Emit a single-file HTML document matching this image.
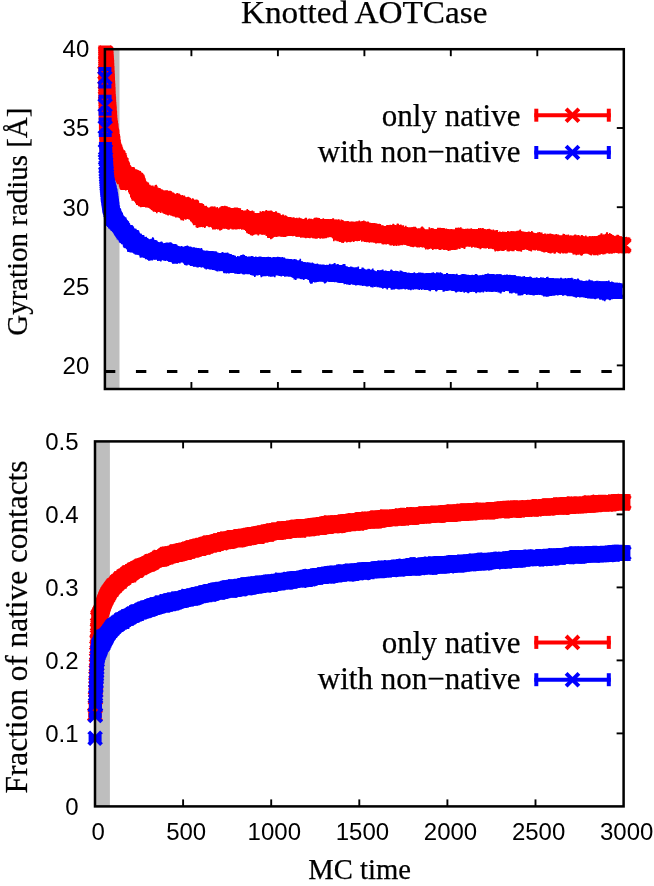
<!DOCTYPE html>
<html><head><meta charset="utf-8"><title>Knotted AOTCase</title>
<style>html,body{margin:0;padding:0;background:#fff}svg{display:block;will-change:transform}</style></head>
<body>
<svg width="654" height="886" viewBox="0 0 654 886">
<rect x="0" y="0" width="654" height="886" fill="#fff"/>
<line x1="191.4" y1="389.0" x2="191.4" y2="382.0" stroke="#000" stroke-width="1.9"/>
<line x1="191.4" y1="49.2" x2="191.4" y2="56.2" stroke="#000" stroke-width="1.9"/>
<line x1="277.9" y1="389.0" x2="277.9" y2="382.0" stroke="#000" stroke-width="1.9"/>
<line x1="277.9" y1="49.2" x2="277.9" y2="56.2" stroke="#000" stroke-width="1.9"/>
<line x1="364.4" y1="389.0" x2="364.4" y2="382.0" stroke="#000" stroke-width="1.9"/>
<line x1="364.4" y1="49.2" x2="364.4" y2="56.2" stroke="#000" stroke-width="1.9"/>
<line x1="450.8" y1="389.0" x2="450.8" y2="382.0" stroke="#000" stroke-width="1.9"/>
<line x1="450.8" y1="49.2" x2="450.8" y2="56.2" stroke="#000" stroke-width="1.9"/>
<line x1="537.3" y1="389.0" x2="537.3" y2="382.0" stroke="#000" stroke-width="1.9"/>
<line x1="537.3" y1="49.2" x2="537.3" y2="56.2" stroke="#000" stroke-width="1.9"/>
<line x1="623.8" y1="128.0" x2="616.8" y2="128.0" stroke="#000" stroke-width="1.9"/>
<line x1="623.8" y1="207.2" x2="616.8" y2="207.2" stroke="#000" stroke-width="1.9"/>
<line x1="623.8" y1="286.3" x2="616.8" y2="286.3" stroke="#000" stroke-width="1.9"/>
<line x1="623.8" y1="365.4" x2="616.8" y2="365.4" stroke="#000" stroke-width="1.9"/>
<line x1="183.1" y1="806.4" x2="183.1" y2="799.4" stroke="#000" stroke-width="1.9"/>
<line x1="183.1" y1="441.4" x2="183.1" y2="448.4" stroke="#000" stroke-width="1.9"/>
<line x1="271.2" y1="806.4" x2="271.2" y2="799.4" stroke="#000" stroke-width="1.9"/>
<line x1="271.2" y1="441.4" x2="271.2" y2="448.4" stroke="#000" stroke-width="1.9"/>
<line x1="359.3" y1="806.4" x2="359.3" y2="799.4" stroke="#000" stroke-width="1.9"/>
<line x1="359.3" y1="441.4" x2="359.3" y2="448.4" stroke="#000" stroke-width="1.9"/>
<line x1="447.4" y1="806.4" x2="447.4" y2="799.4" stroke="#000" stroke-width="1.9"/>
<line x1="447.4" y1="441.4" x2="447.4" y2="448.4" stroke="#000" stroke-width="1.9"/>
<line x1="535.5" y1="806.4" x2="535.5" y2="799.4" stroke="#000" stroke-width="1.9"/>
<line x1="535.5" y1="441.4" x2="535.5" y2="448.4" stroke="#000" stroke-width="1.9"/>
<line x1="623.6" y1="514.4" x2="616.6" y2="514.4" stroke="#000" stroke-width="1.9"/>
<line x1="623.6" y1="587.4" x2="616.6" y2="587.4" stroke="#000" stroke-width="1.9"/>
<line x1="623.6" y1="660.4" x2="616.6" y2="660.4" stroke="#000" stroke-width="1.9"/>
<line x1="623.6" y1="733.4" x2="616.6" y2="733.4" stroke="#000" stroke-width="1.9"/>
<rect x="104.9" y="49.2" width="14.6" height="339.8" fill="#bebebe"/>
<rect x="95.0" y="441.4" width="14.9" height="365.0" fill="#bebebe"/>
<line x1="104.9" y1="371.6" x2="623.8" y2="371.6" stroke="#000" stroke-width="3" stroke-dasharray="10.4 20.63"/>
<g fill="none" stroke="#ff0000">
<path stroke-width="5" d="M149.3 187.3V207.2M149.8 188.5V205.5M150.3 186.9V206.3M150.8 186.9V207.7M151.3 188.6V206.7M151.8 188.8V208M152.3 187.8V208M152.8 188.4V208.6M153.3 189.3V208.6M153.8 188.7V209.3M154.3 187.3V209.9M154.8 188.9V210.6M155.3 189.4V210M155.8 187.9V211.3M156.3 189.8V210.6M156.8 189V211.1M157.3 188.2V210M157.8 189.9V209.4M158.3 188.9V212M158.8 191.4V209.7M159.3 191V211.2M159.8 192.4V210.7M160.3 190.3V210.1M160.8 191.8V209.7M161.3 193V209.8M161.8 193V211M162.3 192.5V210.1M162.8 192.3V211.1M163.3 192.6V210.9M163.8 192.9V211M164.3 193.2V211.4M164.8 190.5V211.2M165.3 190.9V212.7M165.8 191.1V213M166.3 191.7V213M166.8 191.8V212.3M167.3 191.2V212.7M167.8 191.4V213M168.3 192V214.3M168.8 192.6V213.5M169.3 191.7V213.5M169.8 192.6V214.3M170.3 193V214.2M170.8 195V214M171.3 193.4V214.3M171.8 194.2V213M172.3 194.2V214.8M172.8 194V213.5M173.3 195.1V213.1M173.8 194.8V214.7M174.3 194.8V213M174.8 195.5V214.1M175.3 195.8V214M175.8 195.1V215.8M176.3 195.2V215.3M176.8 196.6V216.4M177.3 195.6V215.6M177.8 197.1V214.9M178.3 196.5V217.3M178.8 196.1V217.3M179.3 196.1V216.5M179.8 195.9V216.9M180.3 197.6V216.8M180.8 197.7V216M181.3 197V217.2M181.8 196.8V216.9M182.3 197.3V218.1M182.8 197.9V218M183.3 199.1V218.5M183.8 198V219M184.3 197.6V218.1M184.8 199V217M185.3 198.9V216.8M185.8 198.6V218M186.3 197.9V214.9M186.8 199.7V215.2M187.3 200.3V215.3M187.8 198.8V217.8M188.3 198.9V215.5M188.8 199.6V217.2M189.3 200.1V218.7M189.8 200.9V217.8M190.3 200.8V216.6M190.8 199.7V218.1M191.3 201.1V218.2M191.8 201.3V218.6M192.3 200.8V218.1M192.8 201.6V218.6M193.3 200.5V220.1M193.8 201.4V220.2M194.3 200.9V220.3M194.8 202.3V221.7M195.3 203.2V222.7M195.8 201.4V223.4M196.3 203.1V224.4M196.8 203.5V222.9M197.3 203.2V224.7M197.8 204.2V224.1M198.3 203.2V225.1M198.8 205V227.1M199.3 203.9V225.3M199.8 203.4V225.3M200.3 204.5V224.6M200.8 204.5V225M201.3 206.2V225.6M201.8 207V225.7M202.3 207.3V225.4M202.8 207.1V226.7M203.3 206.6V224.1M203.8 206.6V225.8M204.3 206.6V224.1M204.8 208.4V225.9M205.3 207.3V225.2M205.8 208.3V224.3M206.3 209.2V224.9M206.8 209.7V224.4M207.3 208.3V225.2M207.8 208.4V223.9M208.3 208.3V225.7M208.8 209.4V225.8M209.3 207.7V225.3M209.8 207.7V225.4M210.3 208.9V226.2M210.8 209.1V226.8M211.3 209.7V226.1M211.8 208.4V226.2M212.3 208.8V224.6M212.8 206.8V225.4M213.3 208.3V226.6M213.8 208.8V226.4M214.3 208.9V226.2M214.8 208.3V227.3M215.3 209.8V228.6M215.8 210.1V228.7M216.3 209.3V226.5M216.8 209.4V228.1M217.3 209.3V227.4M217.8 209.6V228.7M218.3 209.7V227.5M218.8 209.1V227.7M219.3 209.3V227.8M219.8 210.3V227.3M220.3 210.3V226.4M220.8 211.1V226.2M221.3 209.8V227.7M221.8 208.8V227M222.3 207.8V227.2M222.8 208.6V227.7M223.3 207.9V227.5M223.8 207V228M224.3 209.3V226.5M224.8 206.5V227.9M225.3 208.8V227.2M225.8 209.8V227.4M226.3 207.7V228.6M226.8 207.6V227.2M227.3 208.6V226.8M227.8 207.8V226.9M228.3 208.9V226.8M228.8 209.6V227M229.3 208.5V226.5M229.8 210.6V227.2M230.3 209.7V227.7M230.8 210V226M231.3 211V227.1M231.8 209V226.6M232.3 209V227.3M232.8 209.9V226.8M233.3 209.8V228.3M233.8 209.2V227.3M234.3 209.2V226.4M234.8 209V226.4M235.3 208.3V226.7M235.8 207.9V227.3M236.3 208.3V227.2M236.8 208.7V228M237.3 209.1V226.6M237.8 208.4V226.9M238.3 211V227.3M238.8 211.8V228.8M239.3 210.6V227M239.8 209.9V227.8M240.3 210.5V228M240.8 211.5V226M241.3 211.3V226.8M241.8 212.9V227.3M242.3 211.3V227.3M242.8 212.5V228.2M243.3 212.5V228.4M243.8 213.5V227.2M244.3 212.2V227.6M244.8 212.2V228.1M245.3 211.3V226.7M245.8 211.7V228M246.3 210.9V229.7M246.8 214.1V229.9M247.3 211.8V229.4M247.8 211.6V230.4M248.3 211.8V231.1M248.8 212.3V231.2M249.3 212.6V232.7M249.8 211V232.1M250.3 213.2V230.8M250.8 212.6V233.4M251.3 212.9V233.8M251.8 214.5V234M252.3 213.5V233.4M252.8 213V232.9M253.3 213.1V233.8M253.8 214.5V233.4M254.3 214.3V232.9M254.8 214.5V233.2M255.3 213.5V231.9M255.8 214.8V232.9M256.3 214.3V231.6M256.8 214.4V232.8M257.3 215.9V234.3M257.8 215.1V232M258.3 214.6V232.6M258.8 215.3V232.6M259.3 215.7V233.3M259.8 213.1V232.1M260.3 214.4V232.4M260.8 213.6V232.6M261.3 213.1V232.5M261.8 214V232M262.3 213.3V233.7M262.8 212.2V233.7M263.3 213.3V234.5M263.8 212.2V233.5M264.3 212.5V232.6M264.8 211.5V232.6M265.3 212.4V233M265.8 213.1V232.6M266.3 212.5V233.5M266.8 212.7V234.5M267.3 213.7V234.3M267.8 212.5V234.2M268.3 212.3V234.3M268.8 213.8V236M269.3 212.1V235.2M269.8 210.9V236M270.3 211.8V237.9M270.8 212.6V235.3M271.3 212.1V236.5M271.8 212.3V236.2M272.3 212.6V235.5M272.8 212.9V236M273.3 212.8V235.5M273.8 212.8V235.2M274.3 213.7V236.6M274.8 215.6V235.3M275.3 214.5V234.1M275.8 214.5V236.3M276.3 213.9V235.4M276.8 214.7V234.6M277.3 214.3V234.8M277.8 215V235.3M278.3 214.8V234.9M278.8 216.6V235.5M279.3 217.6V236.1M279.8 217V235.3M280.3 218.2V235.5M280.8 215.8V235.5M281.3 217.3V235.5M281.8 216.8V234.8M282.3 217.1V236.5M282.8 216.4V235.1M283.3 217.1V235.4M283.8 217.1V234.2M284.3 216.6V235.1M284.8 218.2V235.5M285.3 218V234.6M285.8 218.3V234.5M286.3 217.2V236.1M286.8 217.1V235.5M287.3 217V234.4M287.8 218.3V235.4M288.3 218.5V234.8M288.8 217.8V235.3M289.3 217.4V234.1M289.8 218.1V235M290.3 218.6V235.1M290.8 218.5V234.4M291.3 218.2V234.1M291.8 219.4V236M292.3 219.7V234.5M292.8 218.2V235.4M293.3 219.2V234.4M293.8 219.1V234.3M294.3 218.2V234.8M294.8 218.7V233.5M295.3 219.4V234.5M295.8 220.1V235.6M296.3 218.5V234.1M296.8 218.9V234.9M297.3 219.1V235.5M297.8 219.2V236M298.3 218.5V236.7M298.8 220.1V236.4M299.3 219.6V235.9M299.8 220V234.4M300.3 220.4V236.1M300.8 219.8V236.3M301.3 219.3V236.1M301.8 219.4V236.3M302.3 219.4V235.4M302.8 219.5V236.9M303.3 219.9V236.5M303.8 219V235.5M304.3 219.8V236.5M304.8 219.8V237.2M305.3 220.4V236.9M305.8 220.3V236.7M306.3 221V237.5M306.8 220.8V237M307.3 220.4V236.7M307.8 219.9V237M308.3 220.1V236.8M308.8 220.2V236.4M309.3 219.8V236.4M309.8 220.2V237.2M310.3 219.6V237.3M310.8 220.4V236.9M311.3 219.3V235.8M311.8 219.8V236.8M312.3 219.6V237.2M312.8 221.9V237.3M313.3 220.3V236M313.8 220.8V237.3M314.3 219.3V237.3M314.8 220.6V237.3M315.3 220.1V238M315.8 221V234.7M316.3 219.9V236.2M316.8 219.4V236.1M317.3 220.8V237.8M317.8 220.1V236.7M318.3 219.1V237.5M318.8 219.8V236.6M319.3 219.2V236.7M319.8 220.4V236.5M320.3 219.9V237.6M320.8 220V236.5M321.3 219.1V236.9M321.8 220.8V237.5M322.3 219.6V236.7M322.8 220.3V235.9M323.3 219.8V235.8M323.8 220V236.5M324.3 219.2V238.2M324.8 220V236.4M325.3 220.1V236.9M325.8 219V237.1M326.3 220.6V235.9M326.8 219.4V236.6M327.3 219.7V235.9M327.8 219.7V236.9M328.3 220.9V236.9M328.8 219.7V235.5M329.3 219.9V236.2M329.8 220.3V235.7M330.3 220.4V236.6M330.8 221.4V236.9M331.3 220.1V236.2M331.8 219.9V235.4M332.3 220.1V235.6M332.8 220.1V237.1M333.3 221.3V237.2M333.8 221.3V237.3M334.3 221V237.2M334.8 221V237.2M335.3 219.7V238.2M335.8 221.9V238.5M336.3 221.7V239.7M336.8 219.7V238.9M337.3 220.9V238.6M337.8 221.4V240.2M338.3 222.5V237.3M338.8 221.8V238.8M339.3 222.6V240.1M339.8 222.9V239.5M340.3 222.5V239.9M340.8 221.5V240.3M341.3 221.4V241.2M341.8 221.9V240M342.3 222.9V241.6M342.8 222.7V239.5M343.3 221.4V239.2M343.8 222.9V239.2M344.3 221.8V239.8M344.8 221.9V239M345.3 223V240.3M345.8 222.3V240.9M346.3 222V240M346.8 222V239.2M347.3 222.5V239.8M347.8 222.9V240.3M348.3 222.6V239.4M348.8 222.2V240.3M349.3 222.9V241.8M349.8 223.2V240.1M350.3 221.8V239.9M350.8 223.1V239.4M351.3 222.1V240.9M351.8 222.4V239.5M352.3 223.3V239.8M352.8 221.8V241M353.3 222.6V239.3M353.8 223.9V240M354.3 223.7V239.8M354.8 222.5V239M355.3 222.1V238.5M355.8 223.6V240.4M356.3 223V239.9M356.8 223V238.9M357.3 221.6V240.3M357.8 222.7V238.5M358.3 221.6V238.7M358.8 222.6V238.1M359.3 223.9V239.1M359.8 223.7V239.3M360.3 223.8V238.9M360.8 222.9V239M361.3 223.2V238.6M361.8 222.6V238.6M362.3 224.3V238.7M362.8 222.5V240.1M363.3 221.8V239.5M363.8 222.6V239.6M364.3 223.8V240.6M364.8 222.7V240.6M365.3 223.4V240.1M365.8 222.3V240.7M366.3 222.9V240M366.8 222.7V240.1M367.3 222.8V241.8M367.8 223.6V241.9M368.3 224.4V241.3M368.8 225.4V242M369.3 224.5V240.9M369.8 223.5V241.1M370.3 223.5V240.9M370.8 223.2V239.9M371.3 223.9V239.9M371.8 223.3V240.9M372.3 223.8V240.2M372.8 223.4V240.7M373.3 225.4V242.3M373.8 224.2V241.3M374.3 225.2V241.1M374.8 224.6V241.8M375.3 226.5V241.7M375.8 224.2V241.3M376.3 225.7V240.8M376.8 226.4V242.3M377.3 225.4V241.9M377.8 226.5V241.5M378.3 225.8V240.8M378.8 226.9V241.8M379.3 226.1V241.4M379.8 227.7V241.3M380.3 225.5V242.5M380.8 227.1V241.8M381.3 226.5V242.8M381.8 226.3V243M382.3 227.2V242.2M382.8 226.4V242.6M383.3 226.5V242.9M383.8 227.3V242.6M384.3 225.9V243.3M384.8 226.7V242.6M385.3 227.6V242.6M385.8 226.4V242.2M386.3 227.8V243.2M386.8 226.1V243.3M387.3 227V243.6M387.8 226.9V242.9M388.3 225.7V242.8M388.8 227.1V242.1M389.3 225.3V243.3M389.8 227.2V243.6M390.3 227.1V243.4M390.8 225.6V243.1M391.3 226.2V244.2M391.8 226V243M392.3 225.1V242.3M392.8 225.7V242.6M393.3 226.1V243.1M393.8 226.4V242.8M394.3 226.9V244.3M394.8 225.9V242.4M395.3 225.9V243.2M395.8 226.8V242.1M396.3 226.9V241.9M396.8 226.3V243.4M397.3 226.5V243.3M397.8 226.1V241.6M398.3 226.3V243.1M398.8 225V243.1M399.3 225.4V243.9M399.8 227.4V242.9M400.3 226.6V242.9M400.8 226.2V243.2M401.3 227.5V243.9M401.8 228.6V242.7M402.3 227.9V243.5M402.8 227.5V243.1M403.3 227.4V242.6M403.8 228.8V242.4M404.3 228.9V243.3M404.8 227.9V244.4M405.3 227.7V244.3M405.8 228.2V244.7M406.3 228.8V242.9M406.8 228.3V244.6M407.3 228.1V243.9M407.8 228V245M408.3 227.4V244.6M408.8 228.3V245.6M409.3 228.9V243.8M409.8 227.8V244.5M410.3 228.2V242.6M410.8 229.6V246M411.3 228.4V244.2M411.8 229.3V244.4M412.3 228.2V245.5M412.8 227.4V246.6M413.3 228.9V245M413.8 229.2V246.2M414.3 228.9V244.5M414.8 229V246.3M415.3 230.2V245.7M415.8 229.1V246.3M416.3 228.7V246.1M416.8 229.4V245.5M417.3 230V245.5M417.8 229.9V246.2M418.3 230.6V246.3M418.8 231V246.7M419.3 229.3V246.2M419.8 229.9V245.8M420.3 229.9V246.1M420.8 230.8V246M421.3 229.1V246.4M421.8 230.8V246.9M422.3 229.2V247M422.8 230.6V246.8M423.3 229.9V246.5M423.8 230.1V247.1M424.3 230.8V246M424.8 229.4V247.2M425.3 230.9V247.3M425.8 230.4V246.3M426.3 229.6V246.6M426.8 231.3V247.8M427.3 229.8V247.8M427.8 230.9V247.1M428.3 230V247.4M428.8 230V245.4M429.3 231.2V247.8M429.8 230.2V248.3M430.3 229.8V246.5M430.8 230.4V245.3M431.3 229.5V247.2M431.8 230.9V247.8M432.3 229.5V246.9M432.8 230.2V248.4M433.3 229.3V248M433.8 230.2V247.5M434.3 229.1V248.1M434.8 229.7V248.4M435.3 230.2V247.8M435.8 228.9V246.8M436.3 229.7V246.8M436.8 230V246.5M437.3 229.2V246.9M437.8 229.6V248.9M438.3 230.2V248.5M438.8 230.4V247.2M439.3 228.7V248.8M439.8 229.2V247.3M440.3 228.1V248.6M440.8 230.1V248.4M441.3 230.6V247.8M441.8 229.4V248M442.3 229V247.5M442.8 230.3V248.1M443.3 229.9V249M443.8 231.9V247.6M444.3 231.7V248.5M444.8 229.3V247.4M445.3 231.2V249.6M445.8 231.1V247.8M446.3 231.3V247.7M446.8 230.9V248.3M447.3 229.7V248.5M447.8 231.1V248.5M448.3 230.7V248.8M448.8 232.4V247.4M449.3 231.5V249.6M449.8 232.2V248.1M450.3 230.6V248.3M450.8 231.1V247.9M451.3 230.8V248M451.8 230.4V248.9M452.3 230.6V247.9M452.8 229.4V248.2M453.3 230.4V249.7M453.8 229.6V248.7M454.3 230.3V247.9M454.8 230.5V246.5M455.3 229.9V248M455.8 229.8V248.3M456.3 230.8V247.4M456.8 230.6V246M457.3 229.6V246.9M457.8 230.8V246.4M458.3 228.1V247.6M458.8 230V247M459.3 230.2V247M459.8 229.8V246M460.3 228.8V246.1M460.8 230.1V247M461.3 230.7V246.9M461.8 230.3V247.4M462.3 229V246.4M462.8 230V246.2M463.3 231.4V246.6M463.8 231V245.3M464.3 231.1V245.8M464.8 230.1V245.6M465.3 230.7V246.5M465.8 230V244.9M466.3 229.9V245.4M466.8 229.2V245.9M467.3 230.2V245.9M467.8 231.1V245.6M468.3 230.6V246M468.8 229.2V245.5M469.3 231.1V245.2M469.8 230V245.7M470.3 230.9V246.5M470.8 230V245.6M471.3 231.7V245.3M471.8 230.5V245.6M472.3 231.4V245.6M472.8 229.3V245.2M473.3 230.1V244.2M473.8 230.4V246.2M474.3 229.5V246.8M474.8 230V245M475.3 230.1V245.1M475.8 230.6V246.2M476.3 230.4V245.5M476.8 229.2V244.4M477.3 231.1V247.3M477.8 230.9V245.4M478.3 230V247M478.8 231.1V246M479.3 230.5V246M479.8 230.3V245.4M480.3 229.8V246.5M480.8 229V246.9M481.3 231.2V248.1M481.8 231.8V246.9M482.3 231.4V246.7M482.8 231.5V247M483.3 232.5V246.4M483.8 230.4V247.6M484.3 232V247.9M484.8 232.7V247.1M485.3 231.3V247.1M485.8 232.7V246.8M486.3 231.2V246.2M486.8 230.8V247.8M487.3 229.6V246M487.8 231.6V247.3M488.3 232V247.4M488.8 231.7V246.1M489.3 231.6V247.3M489.8 232V245.9M490.3 231.5V247.6M490.8 230.4V246.1M491.3 231.8V248.4M491.8 232.1V247.6M492.3 233.6V246.3M492.8 231.4V246.8M493.3 231.7V247.2M493.8 230.6V247.5M494.3 230.6V247.6M494.8 231.2V247.7M495.3 233.1V248.1M495.8 232.3V247.4M496.3 232.5V248.1M496.8 232.3V248.3M497.3 232.9V250.6M497.8 233.4V249M498.3 233.4V248.6M498.8 232.9V249.2M499.3 233.1V249.9M499.8 233.5V249.5M500.3 233.6V248.6M500.8 233.3V249.3M501.3 232.8V247.3M501.8 232.1V248.7M502.3 233.2V249.2M502.8 233.1V248.2M503.3 233V249.7M503.8 232.8V248.8M504.3 232.2V249.1M504.8 233.7V248.4M505.3 232.5V249.1M505.8 233V249.3M506.3 232.6V249.3M506.8 232V248.6M507.3 233.5V249M507.8 232V248.9M508.3 233.1V249.4M508.8 232.9V248.8M509.3 233V248.5M509.8 232.4V250.6M510.3 233.9V249.8M510.8 234.1V248M511.3 233.5V249.5M511.8 232.7V248.1M512.3 232.2V248.9M512.8 234.3V248.8M513.3 231.6V248.8M513.8 231.9V248.8M514.3 233V248.7M514.8 233.3V249.3M515.3 232V249.7M515.8 233V249.9M516.3 231.6V246.8M516.8 233V250.1M517.3 232.7V248.6M517.8 232.5V247.7M518.3 233.3V248.9M518.8 232.9V250.7M519.3 230.9V250.2M519.8 233.3V250.2M520.3 232.8V248.5M520.8 233.2V249.9M521.3 232.5V249.8M521.8 233.3V249.7M522.3 232.6V249.3M522.8 233V248.2M523.3 233.3V247.9M523.8 232.4V248M524.3 232.3V248.4M524.8 232.8V248.3M525.3 233.4V248.1M525.8 233V247.9M526.3 232.9V246.8M526.8 233.5V247.9M527.3 233.3V247.7M527.8 232.2V248.8M528.3 234.1V249.2M528.8 234.2V248.6M529.3 234V248.7M529.8 232.1V248.5M530.3 233.8V248.1M530.8 232.4V247.4M531.3 233.2V247.6M531.8 233.2V248.3M532.3 234.8V247.5M532.8 234.4V249.2M533.3 233.8V248.9M533.8 234.2V249M534.3 233.5V248.8M534.8 233.3V248.5M535.3 234.5V248.7M535.8 234.5V249.5M536.3 234.3V249.8M536.8 235.3V249.3M537.3 235.4V249.4M537.8 233.7V249.6M538.3 234.3V248.8M538.8 234.5V249.5M539.3 232.9V248.7M539.8 235.3V249.2M540.3 235V250.3M540.8 234.7V250M541.3 234.3V249.3M541.8 234.2V249.8M542.3 235.4V250.6M542.8 234.1V249.7M543.3 235.2V250.5M543.8 235.1V251.8M544.3 236.1V251M544.8 236.1V251.6M545.3 235.5V250.9M545.8 235.4V251.9M546.3 234.7V250.9M546.8 234.8V250.8M547.3 235.8V251.7M547.8 236.2V250.4M548.3 235.8V250.8M548.8 234.9V250.9M549.3 235.2V251.2M549.8 234V251M550.3 235.6V252.7M550.8 234.2V250.5M551.3 234.7V251.9M551.8 235.5V250.8M552.3 237.2V251.3M552.8 235.7V252.3M553.3 237.1V250.9M553.8 238.1V249.6M554.3 237.1V251.6M554.8 237.1V252M555.3 235.8V251.1M555.8 236.4V250.7M556.3 235.4V250.7M556.8 236.9V251.5M557.3 236.8V250.9M557.8 237.5V250.1M558.3 236.3V251M558.8 236.5V251.5M559.3 235.8V251.5M559.8 236.6V251.6M560.3 236.9V251.8M560.8 236.5V252.5M561.3 236.6V250.3M561.8 236V251.8M562.3 236.4V251M562.8 236.2V251.2M563.3 235.5V250.1M563.8 236V252M564.3 236.5V250.1M564.8 236.2V251M565.3 235.9V252.8M565.8 235.4V251M566.3 236.6V252M566.8 236V250.7M567.3 236.2V250.7M567.8 236.9V251.7M568.3 237.2V251.8M568.8 236V251.2M569.3 236.1V251M569.8 237V251.5M570.3 236.3V251.6M570.8 237.8V251M571.3 237.4V252.6M571.8 236.6V251.4M572.3 235.9V251.7M572.8 237.3V251.4M573.3 236.8V250.7M573.8 235.8V252.2M574.3 236.3V251.6M574.8 236.8V252.3M575.3 237.5V252.1M575.8 235.7V254.2M576.3 236.8V252.8M576.8 236.9V253.8M577.3 238.4V250.9M577.8 237.1V252.3M578.3 237.2V252.8M578.8 237.3V251.6M579.3 237.4V252.4M579.8 237.5V251.5M580.3 236.9V253.2M580.8 237.3V251.9M581.3 238.5V252M581.8 236.9V253.5M582.3 237.4V251.8M582.8 238.1V250.9M583.3 236.5V252.2M583.8 237.2V251.3M584.3 236.7V251.2M584.8 237.7V252.6M585.3 237.9V252.7M585.8 237.5V251.2M586.3 237.3V253.1M586.8 237.4V251.4M587.3 237.5V252.3M587.8 238.4V253.4M588.3 238.1V253.2M588.8 239V251.7M589.3 239.4V252.4M589.8 238V252.1M590.3 239.6V251.3M590.8 239.2V252.9M591.3 238.2V254.1M591.8 236.6V251.7M592.3 237.5V251.3M592.8 238.5V252.2M593.3 236.6V252.9M593.8 238.8V253.1M594.3 237.1V252.1M594.8 237.7V253.5M595.3 237V252.4M595.8 236.9V253.1M596.3 237.3V254.4M596.8 236.3V253M597.3 237V252.8M597.8 236.6V253M598.3 237.4V252.5M598.8 236.1V252.6M599.3 238.2V251.6M599.8 237.8V251.6M600.3 235.6V251.5M600.8 235.4V252.8M601.3 235.7V251.4M601.8 236V252.6M602.3 236.4V253.9M602.8 236.3V253M603.3 236.4V251.8M603.8 235.7V252.5M604.3 234.8V253.2M604.8 235.1V251.8M605.3 235.3V253.1M605.8 235.2V250.9M606.3 237.2V251.1M606.8 235.1V252.8M607.3 236.4V251.2M607.8 236.1V253.3M608.3 235V251.9M608.8 234.7V252.4M609.3 235.6V251.9M609.8 236.3V251.1M610.3 235.7V252.3M610.8 236.9V251.7M611.3 235.7V252.2M611.8 235.7V250.6M612.3 236.2V249.8M612.8 237.7V251.5M613.3 237V251.3M613.8 237.5V251.2M614.3 236.2V251.7M614.8 237.3V251.6M615.3 237V250.1M615.8 238.5V250.5M616.3 236.6V251.2M616.8 237.1V251.5M617.3 236.5V251.2M617.8 236.2V251.4M618.3 237.3V249.5M618.8 237.1V251.8M619.3 236.2V251M619.8 237.6V251.3M620.3 236.9V252.2M620.8 237V251.6M621.3 238.5V250.8M621.8 237.8V251M622.3 238.1V252.4M622.8 238.7V251.8M623.3 238V252.2M623.8 237.6V251.8M623.8 238.8V253.3"/>
<path stroke-width="6" d="M145.8 185V206.5M146.3 185.8V205.4M146.8 185.2V206.6M147.3 186V205M147.8 187.2V205.7M148.3 186.1V205.5M148.8 187V204.3"/>
<path stroke-width="7" d="M142.3 181.5V205.6M142.8 182.6V206.4M143.3 182.4V204.6M143.8 182.3V205M144.3 184V207.1M144.8 183V205.6M145.3 184.1V206.5"/>
<path stroke-width="8" d="M138.8 173.6V201.7M139.3 174.6V201.9M139.8 174.5V203.7M140.3 176.4V202.8M140.8 177.7V204.6M141.3 179.4V205M141.8 180.4V205"/>
<path stroke-width="9" d="M135.3 171.6V196.8M135.8 170.7V196.6M136.3 174.3V197.9M136.8 173.6V199.2M137.3 172.8V199.2M137.8 173.5V199.6M138.3 174.2V200.9"/>
<path stroke-width="10" d="M131.8 169.4V189.3M132.3 170.3V189.2M132.8 170.6V190M133.3 170.1V190.2M133.8 171.3V191.6M134.3 171.8V193M134.8 171.6V193.5"/>
<path stroke-width="11" d="M128.3 167.9V188.6M128.8 167.4V189.1M129.3 170.8V188.9M129.8 169.2V189.7M130.3 171V188.2M130.8 170.4V189.9M131.3 170.4V188.3"/>
<path stroke-width="12" d="M124.8 167.4V186.8M125.3 167.3V188.6M125.8 167.4V189.3M126.3 167.9V189.9M126.8 168.9V189.4M127.3 168.2V188.7M127.8 168.6V188.4"/>
<path stroke-width="13" d="M104.9 45.5V100M105.1 45.6V109.9M105.2 45.8V119.8M105.4 45.9V129.7M105.6 46V139.5M105.8 46.2V144.6M105.9 46.3V149.4M106.1 46.5V154.2M106.3 46.6V159M106.5 46.7V163.8M106.6 46.9V165.6M106.8 47.1V166.5M107 49.7V167.2M107.1 52.2V168.1M107.3 54.8V168.9M107.5 57.4V169.8M107.7 59.8V170.7M107.8 63.1V171.3M108 66V172.1M108.2 70.4V172.6M108.4 73.4V174.1M108.5 76.7V174.8M108.7 80.4V174.7M108.9 83.6V174.4M109.1 86.9V174.9M109.2 90.9V174.8M109.4 93.9V174.8M109.6 96.5V175M109.7 99.7V174.3M109.9 102V174.6M110.1 104.5V173.4M110.3 106.6V175.2M110.4 110V176M110.6 111V173.8M110.8 114.7V175.4M111 117.8V175.2M111.1 118.6V175M111.3 121V176M111.5 120.6V174.5M111.6 123.1V175.9M111.8 122.9V175.6M112 124.2V175.9M112.2 126.4V174.7M112.3 128V175.8M112.5 128.6V176.3M112.7 129.1V176.1M112.9 129.9V175M113 131.4V177.2M113.2 134.3V176.6M113.4 134.7V176.4M113.5 134V176.8M113.7 135.5V176.2M113.9 136.2V177.3M114.1 139V176.9M114.2 139.7V176.4M114.4 140V176.6M114.6 142.1V177.5M114.8 142.9V178.3M114.9 143.2V176.5M115.1 144V175M115.3 145.1V177.4M115.5 144.4V176.7M115.6 145.3V177.2M115.8 144.8V176.9M116 146.1V178M116.1 147.8V177.7M116.3 147.6V177.1M116.5 147.2V177.8M116.7 147.8V177.4M116.8 149.5V177.8M117 148.9V178.2M117.2 149.2V178.9M117.4 150.9V177.5M117.5 150.3V179.4M117.7 150.5V177.8M117.9 151.7V179.2M118 150.7V180.7M118.2 151.7V179M118.4 151.9V180.2M118.6 153V179.4M118.7 153.2V179M118.9 154.6V180.2M119.1 154.2V178.3M119.3 154.3V179.9M119.4 155.2V179.1M119.6 155V179.9M119.8 155.8V179.9M119.9 156.6V179.7M120.1 157.1V179.2M120.3 158.2V180.2M120.5 157.8V178.7M120.6 157.5V180.2M120.8 158.8V180.5M121 158.3V179.1M121.2 160.9V179.5M121.3 158.6V179.9M121.5 160.6V180.8M121.7 161.4V179.9M121.9 160.8V180.1M122 161.5V180.4M122.2 163V180.5M122.4 161.6V180.2M122.5 163.3V182.4M122.7 162.8V182.5M122.9 163.1V182.7M123.1 165.2V182.2M123.2 164.7V183.5M123.4 165V184.3M123.6 165V183.6M123.8 165.5V184.3M124.3 166.4V184"/>
<path stroke-width="1.6" d="M124.3 150.2V189.4M124.8 151.2V189.3M125.3 154.3V190M125.8 153V190.5M126.3 155.3V189.6M126.8 157V189.6M127.3 158.2V189.4M127.8 158V189.5M128.3 161.1V189.7M128.8 161.8V191.9M129.3 162.8V193.2M129.8 165V194M130.3 165.6V194.6M130.8 166.3V197.6M131.3 167.3V197.6M131.8 167.8V199M132.3 167.2V200.7M132.8 167.1V200.2M133.3 167V199.2M133.8 167.1V200.7M134.3 167.9V200.7M134.8 169.4V201.5M135.3 169.6V201.8M135.8 169.9V203.1M136.3 169.7V203.4M136.8 169.5V205M137.3 170.5V205M137.8 170.7V205.1M138.3 170.2V205.2M138.8 171.1V206.2M139.3 171V206.1M139.8 171.1V206.1M140.3 171V206.2M140.8 173.1V207.2M141.3 172.6V206.7M141.8 172.8V206.8M142.3 173V206.8M142.8 173.8V206.5M143.3 175V206.6M143.8 174.7V206.7M144.3 176.4V207M144.8 177.9V206.8M145.3 179.6V206.8M145.8 181V207.4M146.3 182.6V207.1M146.8 181.8V207.5M147.3 182.6V207.2M147.8 182.8V207.6M148.3 182.6V207.3M148.8 184.4V207.4M149.3 184.7V207.9M149.8 184.8V208.1M150.3 186.3V209.1M150.8 185.5V209.3M151.3 186V208.8M151.8 186.4V210M152.3 185.8V210.2M152.8 185.4V210.3M153.3 187V211.2M153.8 187.3V211.7M154.3 186.4V210.9M154.8 186.4V211.5M155.3 185.3V211.5M155.8 185V212.1M156.3 184.7V211.7M156.8 185.9V213.3M157.3 187.9V212.1M157.8 187.5V211.8M158.3 188.4V211.4M158.8 188.3V211.4M159.3 188.3V211.4M159.8 188V211.4M160.3 188.7V212.4M160.8 189.2V212.9M161.3 189.2V211.6M161.8 189.7V210.9M162.3 189.6V211M162.8 190.1V212.5M163.3 190.9V213.3M163.8 191V212.8M164.3 190.9V213.9M164.8 190.8V213.5M165.3 191V213.2M165.8 190.6V214.6M166.3 191V213.9M166.8 190.7V214.2M167.3 190.3V214.8M167.8 191.3V215.2M168.3 191.5V215.5M168.8 191.8V214.6M169.3 190.8V214M169.8 191.3V214.7M170.3 190.8V214.5M170.8 191.3V215.5M171.3 191.3V215.2M171.8 192.3V215.4M172.3 192.7V216M172.8 192.7V215.5M173.3 192.5V216.6M173.8 192.9V216M174.3 194V216.5M174.8 193.8V216.4M175.3 194.5V216.2M175.8 194.2V217.4M176.3 194.8V216.9M176.8 193.6V217M177.3 193V217M177.8 193.6V216.9M178.3 194V217.4M178.8 193.4V217.4M179.3 193.8V217.8M179.8 194.5V218.1M180.3 194.9V218.6M180.8 195.4V219.3M181.3 196.2V220.2M181.8 195.9V219.5M182.3 195V219.7M182.8 195.8V219.9M183.3 196.4V220.7M183.8 196.9V219.1M184.3 195.4V218.5M184.8 196.6V219.1M185.3 197.5V219.4M185.8 198V219.7M186.3 197.2V219.1M186.8 197.2V218.6M187.3 198.4V218.8M187.8 197V219M188.3 196.8V218.8M188.8 197V218.3M189.3 198.3V219.8M189.8 197.8V219.3M190.3 197.9V219.5M190.8 198.7V221.1M191.3 199.9V221.8M191.8 199.6V221.8M192.3 199.5V222.4M192.8 198.2V222.9M193.3 198.9V224.2M193.8 199.5V225.3M194.3 201V224.5M194.8 200.3V224.9M195.3 200.1V224.8M195.8 199.8V224.8M196.3 199.5V227.3M196.8 199.5V226.5M197.3 200.4V228M197.8 199.9V227.8M198.3 201.1V227.2M198.8 202.8V226.8M199.3 203.7V227.3M199.8 203.6V227.3M200.3 203.3V227M200.8 203.3V226.7M201.3 203.5V226.5M201.8 203.2V226.8M202.3 203.7V226.7M202.8 204.6V227.3M203.3 204.1V227.1M203.8 205.2V226.9M204.3 206.4V226.7M204.8 205.9V227.9M205.3 206.1V227.1M205.8 206.5V226M206.3 205.7V225.4M206.8 207.1V225.6M207.3 207.8V225.5M207.8 207.8V225.9M208.3 207.7V226.4M208.8 208.1V226.6M209.3 208.1V227.2M209.8 208.2V226.2M210.3 207V226.8M210.8 207.1V226.7M211.3 206.6V226.6M211.8 207.2V227.6M212.3 206.5V227.7M212.8 207.2V229.6M213.3 207.1V229.2M213.8 206.8V228.6M214.3 207V229.6M214.8 206.4V229.6M215.3 207.4V229.6M215.8 208.8V228.5M216.3 208.3V228.9M216.8 207.8V228.9M217.3 207V228.2M217.8 208.5V229.5M218.3 208.5V229.3M218.8 208.2V228.4M219.3 208.6V228.8M219.8 207.4V230.5M220.3 207.2V230.5M220.8 207.3V229.8M221.3 206.2V230.1M221.8 206.3V229.4M222.3 206V228.4M222.8 206V228.8M223.3 206.8V228M223.8 206.8V228.6M224.3 206.5V228.8M224.8 205.8V228.1M225.3 206.7V228.5M225.8 207.1V228.1M226.3 206.3V228.6M226.8 207V229M227.3 206.5V229M227.8 207.2V229.2M228.3 207.4V229.8M228.8 207.6V229.8M229.3 207.2V229.2M229.8 207.6V228.3M230.3 208.1V227.8M230.8 209.1V228.8M231.3 208.6V228.3M231.8 208.1V228.2M232.3 208.9V229.4M232.8 208.8V228.8M233.3 207.9V228.5M233.8 208.2V229.5M234.3 207.8V228.9M234.8 207.4V228.6M235.3 207.4V229M235.8 208.1V229.4M236.3 207.4V229.5M236.8 207.4V229.6M237.3 207.6V228.2M237.8 208.2V229M238.3 208.1V228.5M238.8 208.3V229.1M239.3 208.9V229.3M239.8 208.7V228.3M240.3 208.3V228.6M240.8 210.5V228.7M241.3 210.4V228.6M241.8 210.4V229.7M242.3 210.1V229.2M242.8 210.6V227.9M243.3 211.5V228.8M243.8 210.7V229.4M244.3 210.9V229.7M244.8 210.5V229.4M245.3 211V229.9M245.8 211.3V231M246.3 210.2V230.8M246.8 210.5V232.4M247.3 209V233.3M247.8 209.9V233.2M248.3 209.9V233.5M248.8 210.5V234.1M249.3 211.4V233.8M249.8 210.9V234.1M250.3 210.9V234.5M250.8 211.2V235.2M251.3 211.5V234.9M251.8 211.2V234.5M252.3 210.6V235.8M252.8 211.8V235.3M253.3 211.8V234.3M253.8 211.3V235M254.3 212.9V233.6M254.8 213.5V233.3M255.3 213.6V234.3M255.8 213.1V234M256.3 213.2V234.3M256.8 214V234M257.3 213.4V234M257.8 212.9V234.4M258.3 213.3V235.5M258.8 213.2V234.2M259.3 213.1V234.2M259.8 213.4V234.1M260.3 211.2V233.8M260.8 211.7V234.2M261.3 212.5V234.2M261.8 211.8V234.2M262.3 211.9V234.7M262.8 211.1V234.1M263.3 211.9V234.3M263.8 211.4V234.3M264.3 211.7V234.7M264.8 212.1V234.2M265.3 212V234.2M265.8 210.7V234.2M266.3 209.9V235.9M266.8 211.2V236M267.3 210.7V235.6M267.8 211.1V237.7M268.3 210.7V238M268.8 211.4V237.8M269.3 211.4V238M269.8 211.2V237.5M270.3 210.5V237.5M270.8 211.1V239.2M271.3 210.6V238.4M271.8 211.5V238.7M272.3 211.4V238M272.8 212.1V238M273.3 212.4V237.1M273.8 212.3V237M274.3 212.1V236.3M274.8 212.7V236.8M275.3 212.5V236.4M275.8 211.2V236.8M276.3 211.6V236.4M276.8 213.8V236.9M277.3 213.3V236.1M277.8 212.7V235.9M278.3 213.6V236.3M278.8 212.9V236.4M279.3 213.4V236.1M279.8 213.5V236.3M280.3 214.8V236M280.8 214.9V236.4M281.3 216V236.1M281.8 215.5V236.8M282.3 215.2V235.9M282.8 214.4V236.7M283.3 214.6V236.7M283.8 216.4V236.9M284.3 216.1V236.9M284.8 216V236.6M285.3 215.2V237M285.8 216.3V235.5M286.3 215.8V236.6M286.8 216.3V236.2M287.3 217.4V235.5M287.8 217V235.5M288.3 217.2V235.8M288.8 217.4V235.9M289.3 216.9V235.9M289.8 217.2V235.5M290.3 216.9V235.8M290.8 217.5V235.9M291.3 217.5V235.5M291.8 217.4V235.5M292.3 218.2V235.9M292.8 217.4V236.3M293.3 217.6V236.1M293.8 217.3V235.5M294.3 218.3V235.8M294.8 218.5V235.3M295.3 218.4V235.4M295.8 218.7V236.4M296.3 218.1V236.5M296.8 217.8V236.8M297.3 218.6V236.3M297.8 218.9V236.3M298.3 219V236.6M298.8 218.6V236.1M299.3 217.5V236.2M299.8 218.2V236.1M300.3 218.4V236.8M300.8 218.3V237.8M301.3 218.6V237.6M301.8 218.7V236.3M302.3 219.2V237M302.8 219.5V237.4M303.3 219.3V236.9M303.8 219V237.5M304.3 219.3V237M304.8 218.8V237.1M305.3 218.2V237.8M305.8 217.7V238.3M306.3 217.8V237.5M306.8 220.1V237.4M307.3 220.2V237.7M307.8 219.8V237.2M308.3 220.1V237.3M308.8 219V237.9M309.3 218.5V237.4M309.8 219.5V238.2M310.3 219.3V237M310.8 218.8V237.8M311.3 218.8V237.5M311.8 219.4V237.1M312.3 219.6V237.2M312.8 219.8V238.2M313.3 219.5V237.4M313.8 219.9V237.5M314.3 218V238.4M314.8 217.8V237.8M315.3 218.6V238.2M315.8 218.8V238.7M316.3 217.5V237.5M316.8 217.7V238.7M317.3 219V238.2M317.8 217.8V237.5M318.3 217.9V237.3M318.8 218.8V238.1M319.3 217.9V237.8M319.8 219.2V238.2M320.3 219.2V238.8M320.8 219V237.3M321.3 219.7V237.3M321.8 219.1V238.3M322.3 218.9V237.9M322.8 219.6V238.4M323.3 218.2V237.6M323.8 219.1V237.9M324.3 219.3V238.3M324.8 219.5V237.6M325.3 219.5V237.9M325.8 219.4V237.6M326.3 219.2V238M326.8 219.5V237.6M327.3 218.9V236.8M327.8 219.3V236.7M328.3 218.9V237.4M328.8 219.8V237.3M329.3 219.7V236.9M329.8 219.2V237M330.3 218.9V236.7M330.8 219.1V237M331.3 218.9V237.3M331.8 219.1V236.9M332.3 218.9V236.9M332.8 218.5V238.2M333.3 218.3V238.5M333.8 219.4V241.2M334.3 220.1V240.3M334.8 220V239.2M335.3 219.6V239.9M335.8 219.8V240.5M336.3 219.4V239.8M336.8 219.8V240M337.3 220.1V241.3M337.8 219.8V240.9M338.3 220V239.8M338.8 219.3V241.3M339.3 220.2V241.5M339.8 221.1V241.9M340.3 221.9V241.1M340.8 220.8V241.7M341.3 219.4V242.1M341.8 219.9V242.8M342.3 220.1V242.8M342.8 220.2V242.7M343.3 220.8V243.1M343.8 221.4V242M344.3 221.4V241.3M344.8 221.6V241.1M345.3 221.3V241.2M345.8 221.3V241.1M346.3 221.5V242M346.8 222V242.5M347.3 221.1V242M347.8 220.9V241.3M348.3 221.3V241.8M348.8 221.8V241.3M349.3 221.9V241.2M349.8 222.3V241.8M350.3 221.9V242.3M350.8 222.2V241.2M351.3 221.4V241.6M351.8 221.5V241.6M352.3 222.2V240.4M352.8 222.1V240.6M353.3 221.8V241.2M353.8 222.3V242.1M354.3 222.1V240.8M354.8 222.1V240.5M355.3 222.1V241.1M355.8 222.2V241M356.3 222.1V241M356.8 221.5V240M357.3 221.7V241.3M357.8 221.8V241.1M358.3 221.6V240.2M358.8 221.4V240.1M359.3 220.5V240.9M359.8 221.8V240.2M360.3 221.7V239.5M360.8 221.8V239.6M361.3 222.4V239.8M361.8 221.4V241.7M362.3 221.1V240.5M362.8 221.3V240.2M363.3 221.1V240.7M363.8 220.6V240.9M364.3 221.6V241.9M364.8 221.5V241.6M365.3 221.3V241.9M365.8 222.3V241.4M366.3 222.9V241.5M366.8 222.8V242.3M367.3 221.5V241.6M367.8 221.4V241.6M368.3 221.8V241.5M368.8 223V241.8M369.3 222.8V242.7M369.8 223.3V242.1M370.3 222.7V242.3M370.8 223.1V242M371.3 223.4V241.9M371.8 223.1V242.2M372.3 223.1V242.2M372.8 223.2V242.2M373.3 223.7V241.9M373.8 223.4V242.6M374.3 223V242.8M374.8 223.3V241.8M375.3 223.4V242.7M375.8 223.3V243.5M376.3 224.7V243.5M376.8 223.6V242.9M377.3 224.5V242.1M377.8 224.1V242.7M378.3 224.4V243.3M378.8 225.6V242.5M379.3 223.8V243.3M379.8 224.2V243.2M380.3 224.1V242.4M380.8 226V242.8M381.3 225.7V242.8M381.8 225.9V243.3M382.3 225.3V244.2M382.8 225.4V243.9M383.3 225.5V244.6M383.8 226.5V244.2M384.3 226.2V243.9M384.8 225.9V243.1M385.3 226.2V244.2M385.8 226.2V244.1M386.3 225.9V244.6M386.8 225.4V243.6M387.3 225.1V243.9M387.8 225.2V244M388.3 225.2V243.6M388.8 225.7V243.8M389.3 225.8V244.6M389.8 225.4V244.3M390.3 224.7V245.4M390.8 225.5V245.4M391.3 225.3V245.5M391.8 225.6V245.1M392.3 225.7V244.2M392.8 224.4V245.3M393.3 223.8V244.8M393.8 224.5V245.9M394.3 224.7V245.4M394.8 225.3V244.6M395.3 224.9V244.2M395.8 225.9V245.5M396.3 225.6V245.8M396.8 225.6V246.1M397.3 223.7V244.5M397.8 223.5V244.8M398.3 223.9V243.7M398.8 224.9V245.8M399.3 225.4V244.9M399.8 225.5V244.7M400.3 225.1V245.3M400.8 224.5V245M401.3 225.6V244.4M401.8 226V244.7M402.3 225.7V245.2M402.8 225.4V243.9M403.3 225.3V244.1M403.8 227V244.1M404.3 227.1V244.6M404.8 226.8V244.8M405.3 227.3V244.5M405.8 225.7V244.5M406.3 227.3V245.1M406.8 227.7V245.1M407.3 227.1V245.6M407.8 228V245.3M408.3 227.7V245.9M408.8 227.8V245.8M409.3 227.5V245.9M409.8 227.5V246M410.3 227.9V246.4M410.8 227.5V246.4M411.3 227.9V246.7M411.8 227.2V246.4M412.3 228V246.8M412.8 227.7V246.9M413.3 227.1V247.2M413.8 226.8V246.1M414.3 227.1V246.3M414.8 226.9V246.1M415.3 226.8V246.6M415.8 228.5V246M416.3 227.8V246.5M416.8 228.6V247.1M417.3 228.8V247.5M417.8 229.2V247.3M418.3 229.1V246.6M418.8 228.2V246.4M419.3 229.4V247.6M419.8 229.1V246.8M420.3 228.3V247.1M420.8 228.7V246.8M421.3 227.2V247.1M421.8 226.8V246.7M422.3 226.6V247.5M422.8 228.6V246.9M423.3 227.6V247.1M423.8 228.5V246.9M424.3 228.7V247.2M424.8 229.8V247.2M425.3 229.6V248.2M425.8 229.9V249.5M426.3 229.6V248.5M426.8 229.8V248M427.3 229.6V248.7M427.8 230V249.4M428.3 229.8V249.2M428.8 229.9V248.8M429.3 227.3V249.1M429.8 228.6V248.1M430.3 228.8V248.3M430.8 228.5V248.1M431.3 228.2V247.9M431.8 228.1V248.7M432.3 228.3V248.1M432.8 228.3V250M433.3 228.5V249.1M433.8 229.2V249.1M434.3 229.3V248.2M434.8 229.2V248.6M435.3 229.1V249.3M435.8 229.1V249.2M436.3 229V249.3M436.8 229.3V248.6M437.3 229.2V248.8M437.8 227.8V248.8M438.3 228.2V248.6M438.8 228V248.6M439.3 227.8V249.9M439.8 228.4V249.3M440.3 227.8V250.1M440.8 228.6V249.6M441.3 228.7V249.4M441.8 228.6V248.9M442.3 228.1V248.7M442.8 228.4V249.1M443.3 228.9V249.4M443.8 227.9V249.8M444.3 228.3V250.1M444.8 229.3V249M445.3 229.9V249.4M445.8 229V249.7M446.3 228.4V249.6M446.8 229.4V249.9M447.3 229.2V249.6M447.8 228.9V250M448.3 228.9V251M448.8 228.9V250.7M449.3 230V250.2M449.8 229.9V249.2M450.3 229.5V250.4M450.8 229.2V249.5M451.3 229.1V250M451.8 229.3V249.4M452.3 229.6V249.9M452.8 229.5V249.3M453.3 230V249.4M453.8 229.8V249.7M454.3 229.5V249.7M454.8 229.8V249.9M455.3 229.9V249.4M455.8 227.8V249.8M456.3 227.8V248.5M456.8 228.4V249.7M457.3 228.5V248.8M457.8 228.3V248.7M458.3 227.4V248.2M458.8 228.4V248.3M459.3 227.8V248.6M459.8 228.7V248.9M460.3 228V247.3M460.8 227.2V247.2M461.3 228.4V247.3M461.8 229.1V247.4M462.3 229.4V248M462.8 228.7V246.9M463.3 229.3V247.3M463.8 229.6V247.8M464.3 229.5V249M464.8 229.1V248.6M465.3 229.3V246.7M465.8 228.8V246.8M466.3 228.8V245.9M466.8 228.9V246M467.3 229.3V246.3M467.8 228.4V246.3M468.3 229.1V246.1M468.8 229.5V246.2M469.3 229.4V246.7M469.8 228.8V246.8M470.3 229.6V246.1M470.8 229.6V246.1M471.3 228.3V245.9M471.8 229.4V247.7M472.3 229.2V246.8M472.8 228.9V246.4M473.3 229.7V246.2M473.8 229.2V246.7M474.3 229V246.2M474.8 229.4V247.5M475.3 229.6V246.7M475.8 229.2V247.1M476.3 229.5V247.2M476.8 229.1V247.6M477.3 229V247.3M477.8 229.3V247.9M478.3 229V246.8M478.8 228V248.2M479.3 228.9V247.6M479.8 228.4V247.8M480.3 228.8V249.2M480.8 228.1V248.7M481.3 229.2V247.9M481.8 228.7V247.7M482.3 229.5V247.8M482.8 228.1V247.8M483.3 228.4V247.7M483.8 230.6V248.2M484.3 230.2V247.6M484.8 228.9V247.9M485.3 229.7V248.4M485.8 229.4V248.4M486.3 229.9V248.3M486.8 230.2V248.1M487.3 229.9V247.8M487.8 229.1V247.3M488.3 228.9V247.5M488.8 228.9V249.1M489.3 228.7V248.1M489.8 229.2V247.9M490.3 229.6V247.8M490.8 230V248.2M491.3 229.7V248.6M491.8 230.7V248.6M492.3 230.9V248.5M492.8 230.4V248.9M493.3 229.5V249.3M493.8 230.7V249.2M494.3 231V248.9M494.8 230.7V250.3M495.3 230.6V251.4M495.8 231V250.4M496.3 231V250.2M496.8 230V250.8M497.3 230.1V250.2M497.8 232.4V251.3M498.3 232.3V250.1M498.8 232V250.9M499.3 231.9V250M499.8 231.4V250.7M500.3 232.2V250.2M500.8 232.7V250.5M501.3 232.2V249.6M501.8 232.5V250.8M502.3 232.3V251M502.8 231.5V250.9M503.3 232.7V249.8M503.8 232.4V250.9M504.3 232.1V249.7M504.8 231.8V249.8M505.3 232.1V250.1M505.8 232.5V249.3M506.3 232.5V248.9M506.8 232.2V249.1M507.3 232.5V251.3M507.8 231.1V251.2M508.3 231.7V251.4M508.8 231.2V251.5M509.3 232.3V251.3M509.8 232.4V250.4M510.3 232.4V250.3M510.8 231.4V250.6M511.3 230.9V250.8M511.8 231.2V250.6M512.3 232V251.3M512.8 232V250.4M513.3 231.2V251M513.8 231.6V251.2M514.3 231.9V250.1M514.8 231.8V249.7M515.3 231.5V250M515.8 232.1V250M516.3 232V250.1M516.8 231.2V250.3M517.3 230.8V251.1M517.8 230.9V250.5M518.3 231.4V251.2M518.8 230.7V250.6M519.3 230.5V251.3M519.8 230.2V251.2M520.3 229.6V251M520.8 231.4V251.2M521.3 231.3V251.8M521.8 231.2V249.8M522.3 231.9V249.7M522.8 231.7V249.9M523.3 231.6V249.5M523.8 232.4V249.8M524.3 232.2V249.8M524.8 231.7V249.5M525.3 232.6V248.6M525.8 232.2V249M526.3 232V249.3M526.8 232.4V249.7M527.3 232.5V249M527.8 232.3V250M528.3 231.7V249.4M528.8 231.4V250.4M529.3 231.8V250.8M529.8 231.9V250.8M530.3 231.9V251.1M530.8 232.4V251M531.3 231.9V251.5M531.8 231V250.2M532.3 231.8V249.8M532.8 232.5V249.1M533.3 232.9V249M533.8 232.8V250.3M534.3 233.5V250M534.8 233.3V250M535.3 233.3V250.4M535.8 233.6V249.4M536.3 233.7V249.4M536.8 233.5V249.5M537.3 233.5V249.7M537.8 232.6V250.7M538.3 232.3V250.5M538.8 233.1V250.5M539.3 232.9V250.4M539.8 232V250.8M540.3 233.2V250.4M540.8 233V250.4M541.3 233V251.2M541.8 232.5V251.2M542.3 233.9V251.3M542.8 234.2V251.3M543.3 234.4V251.7M543.8 234.7V252.2M544.3 234V252.6M544.8 233.5V252.2M545.3 233.5V251.5M545.8 234.8V251.6M546.3 235.2V251.8M546.8 235V251.3M547.3 233.8V251.4M547.8 234.1V252.1M548.3 233.9V253M548.8 234.5V252.5M549.3 233.7V252.9M549.8 234.5V253.3M550.3 233.4V252.6M550.8 233.7V253.5M551.3 234.5V252.2M551.8 234.3V252.3M552.3 234.2V252.5M552.8 234.6V252.4M553.3 234.5V252.5M553.8 235.2V252.2M554.3 235.4V253.7M554.8 234.6V253.3M555.3 234.5V253.6M555.8 234.7V252.1M556.3 234.1V251.6M556.8 234.5V251.8M557.3 235.5V252.2M557.8 234.6V251.4M558.3 234.5V252.8M558.8 235.5V253.1M559.3 236.3V253.3M559.8 235.3V253M560.3 236.2V253.7M560.8 235.9V252M561.3 235.6V252.5M561.8 235.9V252.5M562.3 235.9V252.2M562.8 235.3V253.3M563.3 233.7V253.5M563.8 234V252.8M564.3 233.9V252.5M564.8 234.9V252.5M565.3 235.8V253.5M565.8 235V252.7M566.3 234.8V252.9M566.8 235.3V253.5M567.3 235.9V252.2M567.8 235.9V252.8M568.3 234.6V251.6M568.8 236.4V252.3M569.3 236.4V252.3M569.8 235.6V252.5M570.3 236V252.6M570.8 235.3V252.6M571.3 235.9V252.3M571.8 235.7V252.2M572.3 236.1V252.9M572.8 236.4V253.3M573.3 235.7V254.6M573.8 236.1V253.6M574.3 235.3V253.8M574.8 234.7V254.3M575.3 234.6V253.8M575.8 234.7V253.7M576.3 235.6V255.2M576.8 235.5V254M577.3 235.8V254.4M577.8 236.3V254.3M578.3 235.1V254.7M578.8 237V253.5M579.3 236.8V253.8M579.8 235.6V253.1M580.3 236.6V254.9M580.8 236.8V255M581.3 236.5V255.7M581.8 235.1V255.6M582.3 235.2V255M582.8 236.2V254.1M583.3 235.9V253.9M583.8 237.1V253.7M584.3 236.7V253.7M584.8 236.5V253.3M585.3 237.1V253M585.8 235.4V253.4M586.3 236.6V253.3M586.8 236.4V252.8M587.3 236.8V253.1M587.8 237.3V253.4M588.3 237.8V253.8M588.8 237.5V254.3M589.3 236.1V253.6M589.8 236.6V254.8M590.3 236.8V254.7M590.8 236.2V254.9M591.3 237V255.4M591.8 236.4V254.4M592.3 237.1V254.1M592.8 236.1V254.1M593.3 236.5V254.4M593.8 236.9V255.3M594.3 236.4V254.6M594.8 236.1V254.6M595.3 236.6V255.3M595.8 236.5V254.8M596.3 236.5V254.4M596.8 236.1V254.5M597.3 236.6V255.2M597.8 236V255.6M598.3 235.8V254M598.8 235.3V253.9M599.3 235.4V252.9M599.8 235.1V254.7M600.3 234.5V254.3M600.8 235V253.7M601.3 233.2V253.9M601.8 233.6V253.7M602.3 235.2V254.1M602.8 234.9V254.3M603.3 235.3V254.6M603.8 234.4V253.8M604.3 234.4V254.1M604.8 234.8V254.3M605.3 235.3V253.5M605.8 233.9V253.3M606.3 233.4V253.2M606.8 232.3V252.8M607.3 232.2V253.1M607.8 234V252.8M608.3 234.8V252.9M608.8 235.2V253.3M609.3 233.9V253.8M609.8 233.1V253.8M610.3 234.5V253.2M610.8 234V252.3M611.3 234.1V252.2M611.8 234.8V253.7M612.3 235V253.5M612.8 235.9V252.6M613.3 235.3V252.9M613.8 236.1V252.2M614.3 236V253.3M614.8 236.6V252.6M615.3 236.7V251.6M615.8 236.6V252.1M616.3 235.5V252.9M616.8 236V251.2M617.3 234.7V251.8M617.8 234.8V251.9M618.3 235V252.8M618.8 235.7V253.2M619.3 236V252.7M619.8 236.6V253M620.3 236.5V252.4M620.8 236.4V253M621.3 236.6V252.9"/>
<path stroke-width="4" d="M613.3 239.6h13M613.3 249.3h13M613.8 238.9h13M613.8 250.2h13M614.3 239h13M614.3 249.6h13M614.8 240.5h13M614.8 248.8h13M615.3 239.8h13M615.3 249h13M615.8 240.1h13M615.8 250.4h13M616.3 240.7h13M616.3 249.8h13M616.8 240h13M616.8 250.2h13M617.3 239.6h13M617.3 249.8h13M617.3 240.8h13M617.3 251.3h13M98.5 66.3l12.8 12.8m-12.8 0l12.8 -12.8M98.7 71.4l12.8 12.8m-12.8 0l12.8 -12.8M98.8 76.4l12.8 12.8m-12.8 0l12.8 -12.8M99 81.4l12.8 12.8m-12.8 0l12.8 -12.8M99.2 86.4l12.8 12.8m-12.8 0l12.8 -12.8M99.4 89l12.8 12.8m-12.8 0l12.8 -12.8M99.5 91.5l12.8 12.8m-12.8 0l12.8 -12.8M99.7 93.9l12.8 12.8m-12.8 0l12.8 -12.8M99.9 96.4l12.8 12.8m-12.8 0l12.8 -12.8M100.1 98.9l12.8 12.8m-12.8 0l12.8 -12.8M100.2 99.9l12.8 12.8m-12.8 0l12.8 -12.8M100.4 100.4l12.8 12.8m-12.8 0l12.8 -12.8M100.6 102l12.8 12.8m-12.8 0l12.8 -12.8M100.7 103.8l12.8 12.8m-12.8 0l12.8 -12.8M100.9 105.4l12.8 12.8m-12.8 0l12.8 -12.8M101.1 107.2l12.8 12.8m-12.8 0l12.8 -12.8M101.3 108.8l12.8 12.8m-12.8 0l12.8 -12.8M101.4 110.8l12.8 12.8m-12.8 0l12.8 -12.8M101.6 112.7l12.8 12.8m-12.8 0l12.8 -12.8M101.8 115.1l12.8 12.8m-12.8 0l12.8 -12.8M102 117.4l12.8 12.8m-12.8 0l12.8 -12.8M102.1 119.4l12.8 12.8m-12.8 0l12.8 -12.8M102.3 121.2l12.8 12.8m-12.8 0l12.8 -12.8M102.5 122.6l12.8 12.8m-12.8 0l12.8 -12.8M102.7 124.5l12.8 12.8m-12.8 0l12.8 -12.8M102.8 126.4l12.8 12.8m-12.8 0l12.8 -12.8M103 128l12.8 12.8m-12.8 0l12.8 -12.8M103.2 129.4l12.8 12.8m-12.8 0l12.8 -12.8M103.3 130.6l12.8 12.8m-12.8 0l12.8 -12.8M103.5 131.9l12.8 12.8m-12.8 0l12.8 -12.8M103.7 132.6l12.8 12.8m-12.8 0l12.8 -12.8M103.9 134.5l12.8 12.8m-12.8 0l12.8 -12.8M104 136.6l12.8 12.8m-12.8 0l12.8 -12.8M104.2 136l12.8 12.8m-12.8 0l12.8 -12.8M104.4 138.7l12.8 12.8m-12.8 0l12.8 -12.8M104.6 140.1l12.8 12.8m-12.8 0l12.8 -12.8M104.7 140.4l12.8 12.8m-12.8 0l12.8 -12.8M104.9 142.1l12.8 12.8m-12.8 0l12.8 -12.8M105.1 141.2l12.8 12.8m-12.8 0l12.8 -12.8M105.2 143.1l12.8 12.8m-12.8 0l12.8 -12.8M105.4 142.9l12.8 12.8m-12.8 0l12.8 -12.8M105.6 143.6l12.8 12.8m-12.8 0l12.8 -12.8M105.8 144.2l12.8 12.8m-12.8 0l12.8 -12.8M105.9 145.5l12.8 12.8m-12.8 0l12.8 -12.8M106.1 146.1l12.8 12.8m-12.8 0l12.8 -12.8M106.3 146.2l12.8 12.8m-12.8 0l12.8 -12.8M106.5 146.1l12.8 12.8m-12.8 0l12.8 -12.8M106.6 147.9l12.8 12.8m-12.8 0l12.8 -12.8M106.8 149.1l12.8 12.8m-12.8 0l12.8 -12.8M107 149.1l12.8 12.8m-12.8 0l12.8 -12.8M107.1 149l12.8 12.8m-12.8 0l12.8 -12.8M107.3 149.4l12.8 12.8m-12.8 0l12.8 -12.8M107.5 150.3l12.8 12.8m-12.8 0l12.8 -12.8M107.7 151.5l12.8 12.8m-12.8 0l12.8 -12.8M107.8 151.6l12.8 12.8m-12.8 0l12.8 -12.8M108 151.9l12.8 12.8m-12.8 0l12.8 -12.8M108.2 153.4l12.8 12.8m-12.8 0l12.8 -12.8M108.4 154.2l12.8 12.8m-12.8 0l12.8 -12.8M108.5 153.4l12.8 12.8m-12.8 0l12.8 -12.8M108.7 153.1l12.8 12.8m-12.8 0l12.8 -12.8M108.9 154.9l12.8 12.8m-12.8 0l12.8 -12.8M109.1 154.1l12.8 12.8m-12.8 0l12.8 -12.8M109.2 154.8l12.8 12.8m-12.8 0l12.8 -12.8M109.4 154.5l12.8 12.8m-12.8 0l12.8 -12.8M109.6 155.6l12.8 12.8m-12.8 0l12.8 -12.8M109.7 156.4l12.8 12.8m-12.8 0l12.8 -12.8M109.9 155.9l12.8 12.8m-12.8 0l12.8 -12.8M110.1 156.1l12.8 12.8m-12.8 0l12.8 -12.8M110.3 156.2l12.8 12.8m-12.8 0l12.8 -12.8M110.4 157.3l12.8 12.8m-12.8 0l12.8 -12.8M110.6 157.1l12.8 12.8m-12.8 0l12.8 -12.8M110.8 157.7l12.8 12.8m-12.8 0l12.8 -12.8M111 157.8l12.8 12.8m-12.8 0l12.8 -12.8M111.1 158.4l12.8 12.8m-12.8 0l12.8 -12.8M111.3 157.7l12.8 12.8m-12.8 0l12.8 -12.8M111.5 159.1l12.8 12.8m-12.8 0l12.8 -12.8M111.6 159.3l12.8 12.8m-12.8 0l12.8 -12.8M111.8 158.9l12.8 12.8m-12.8 0l12.8 -12.8M112 159.6l12.8 12.8m-12.8 0l12.8 -12.8M112.2 159.8l12.8 12.8m-12.8 0l12.8 -12.8M112.3 159.7l12.8 12.8m-12.8 0l12.8 -12.8M112.5 161l12.8 12.8m-12.8 0l12.8 -12.8M112.7 159.8l12.8 12.8m-12.8 0l12.8 -12.8M112.9 160.7l12.8 12.8m-12.8 0l12.8 -12.8M113 160.8l12.8 12.8m-12.8 0l12.8 -12.8M113.2 161l12.8 12.8m-12.8 0l12.8 -12.8M113.4 161.4l12.8 12.8m-12.8 0l12.8 -12.8M113.5 161.8l12.8 12.8m-12.8 0l12.8 -12.8M113.7 161.7l12.8 12.8m-12.8 0l12.8 -12.8M113.9 162.8l12.8 12.8m-12.8 0l12.8 -12.8M114.1 161.8l12.8 12.8m-12.8 0l12.8 -12.8M114.2 162.4l12.8 12.8m-12.8 0l12.8 -12.8M114.4 163.2l12.8 12.8m-12.8 0l12.8 -12.8M114.6 162.3l12.8 12.8m-12.8 0l12.8 -12.8M114.8 163.8l12.8 12.8m-12.8 0l12.8 -12.8M114.9 162.9l12.8 12.8m-12.8 0l12.8 -12.8M115.1 164.3l12.8 12.8m-12.8 0l12.8 -12.8M115.3 164.3l12.8 12.8m-12.8 0l12.8 -12.8M115.5 164.1l12.8 12.8m-12.8 0l12.8 -12.8M115.6 164.5l12.8 12.8m-12.8 0l12.8 -12.8M115.8 165.4l12.8 12.8m-12.8 0l12.8 -12.8M116 164.5l12.8 12.8m-12.8 0l12.8 -12.8M116.1 166.5l12.8 12.8m-12.8 0l12.8 -12.8M116.3 166.3l12.8 12.8m-12.8 0l12.8 -12.8M116.5 166.5l12.8 12.8m-12.8 0l12.8 -12.8M116.7 167.3l12.8 12.8m-12.8 0l12.8 -12.8M116.8 167.7l12.8 12.8m-12.8 0l12.8 -12.8M117 168.2l12.8 12.8m-12.8 0l12.8 -12.8M117.2 167.9l12.8 12.8m-12.8 0l12.8 -12.8M117.4 168.5l12.8 12.8m-12.8 0l12.8 -12.8M615.4 238l12.8 12.8m-12.8 0l12.8 -12.8M615.9 238.8l12.8 12.8m-12.8 0l12.8 -12.8M616.4 238.8l12.8 12.8m-12.8 0l12.8 -12.8M616.9 238.7l12.8 12.8m-12.8 0l12.8 -12.8M617.4 238.3l12.8 12.8m-12.8 0l12.8 -12.8M617.4 239.6l12.8 12.8m-12.8 0l12.8 -12.8"/>
</g>
<path fill="none" stroke="#ff0000" stroke-width="4" d="M99.1 46.6l12.8 12.8m-12.8 0l12.8 -12.8M99.2 48.7l12.8 12.8m-12.8 0l12.8 -12.8M99.3 50.8l12.8 12.8m-12.8 0l12.8 -12.8M99.4 52.9l12.8 12.8m-12.8 0l12.8 -12.8M99.5 55l12.8 12.8m-12.8 0l12.8 -12.8M99.6 57.1l12.8 12.8m-12.8 0l12.8 -12.8M99.7 59.2l12.8 12.8m-12.8 0l12.8 -12.8M99.8 61.3l12.8 12.8m-12.8 0l12.8 -12.8M99.9 63.4l12.8 12.8m-12.8 0l12.8 -12.8M100 65.5l12.8 12.8m-12.8 0l12.8 -12.8M100.1 67.6l12.8 12.8m-12.8 0l12.8 -12.8M100.2 69.7l12.8 12.8m-12.8 0l12.8 -12.8"/>
<g fill="none" stroke="#0000ff">
<path stroke-width="5" d="M149.3 241.2V258.4M149.8 240.6V259M150.3 240.9V258.9M150.8 239.5V258.2M151.3 241.8V259.2M151.8 241.6V259.6M152.3 241.4V258.7M152.8 242.2V259.4M153.3 243.2V259.2M153.8 242.8V258.8M154.3 241.7V259M154.8 242.2V258.2M155.3 243.8V257.9M155.8 243.7V258.6M156.3 242.5V258.8M156.8 243.5V258.4M157.3 244V257.4M157.8 243.7V259.1M158.3 244.2V258.8M158.8 243.2V258.4M159.3 244V259.2M159.8 242.8V258M160.3 244.2V257.6M160.8 245.1V257.6M161.3 243.5V258.7M161.8 243.9V259.2M162.3 244V258.3M162.8 243.4V258.8M163.3 243.6V259.1M163.8 243.6V259.6M164.3 243.5V258.8M164.8 244V259.3M165.3 243.6V260.2M165.8 244V259M166.3 243.5V259.7M166.8 245.1V259.4M167.3 243.9V259.6M167.8 244.1V258.9M168.3 244.4V259.5M168.8 243.2V260.1M169.3 244.6V260M169.8 244.4V259.9M170.3 244.8V261.3M170.8 244.5V259.8M171.3 244.3V261.9M171.8 244.4V261.4M172.3 243.9V261.8M172.8 244.8V260.9M173.3 244.1V262.2M173.8 245.5V261.8M174.3 244.9V261.9M174.8 245.9V261.7M175.3 246.3V263.5M175.8 245.8V262.5M176.3 247V262M176.8 246.9V262.7M177.3 247.4V262.7M177.8 247.9V261.9M178.3 247.5V262.5M178.8 247.7V262M179.3 248.1V262M179.8 248.7V261.6M180.3 248.4V260.5M180.8 247.5V261M181.3 248V260.7M181.8 248.6V261.9M182.3 246.8V261.8M182.8 247.7V261.8M183.3 249.1V262.1M183.8 247.7V262.4M184.3 247.1V262.1M184.8 248.5V261.5M185.3 248.8V262.1M185.8 246.8V262.1M186.3 246.6V263.5M186.8 248.1V264.4M187.3 248.4V263.7M187.8 247.1V263M188.3 247.5V264.3M188.8 248.8V262.9M189.3 247.2V264.3M189.8 248.3V263.8M190.3 248.1V263.8M190.8 248.7V264.6M191.3 248V263.9M191.8 248.1V262.7M192.3 247.8V264.1M192.8 248.5V264.2M193.3 248V264.5M193.8 249.4V264.6M194.3 248.8V265.6M194.8 249.3V265.3M195.3 248.2V264.7M195.8 248.2V266.6M196.3 249.1V263.3M196.8 248.4V265.1M197.3 250.8V266.1M197.8 251.2V265.6M198.3 249.6V264.9M198.8 251.1V266.2M199.3 248.9V264.8M199.8 250.9V266.7M200.3 250.7V266.5M200.8 251V265.3M201.3 251.4V264.7M201.8 250.9V266.8M202.3 252.8V266.1M202.8 251.5V266.3M203.3 252V267.3M203.8 252.5V266.9M204.3 252.3V266.4M204.8 251V265.8M205.3 251.9V265.7M205.8 251.4V266.5M206.3 252.4V266.3M206.8 251.7V267.6M207.3 252.8V266.6M207.8 251.9V267.3M208.3 250.9V267.3M208.8 251.2V268.6M209.3 252.1V268.2M209.8 251.8V267.7M210.3 252V268.7M210.8 251V269.2M211.3 252.2V268.9M211.8 252.1V269M212.3 251.7V268.3M212.8 251.4V268.1M213.3 251.9V268.6M213.8 251.4V268.8M214.3 252.6V269.7M214.8 252.3V267.9M215.3 253V268.8M215.8 253.7V268.6M216.3 253.6V270.3M216.8 254.2V269.8M217.3 253.3V269.7M217.8 254.3V269.3M218.3 253.7V268.3M218.8 254.6V268.9M219.3 254.1V269.8M219.8 253.8V269.4M220.3 254.3V268.7M220.8 255V269.3M221.3 254.4V269.2M221.8 253.8V269.2M222.3 253.1V270.4M222.8 253.4V269M223.3 253.8V269.5M223.8 253.6V270.4M224.3 254.5V270.3M224.8 254V270.6M225.3 253.7V270.1M225.8 255.2V271.1M226.3 254.6V272.8M226.8 254.5V270.5M227.3 255.4V271M227.8 254.4V271.5M228.3 254.6V270.8M228.8 254.1V272.5M229.3 256V271.4M229.8 254.9V272.3M230.3 256.5V271.4M230.8 255V271.7M231.3 256.7V272.2M231.8 255.7V272.2M232.3 256.1V272.7M232.8 256.1V271.4M233.3 256.6V271.7M233.8 257.2V272.1M234.3 257.6V272.7M234.8 257.9V272.6M235.3 257.3V272.5M235.8 257.2V272.9M236.3 257.8V271.8M236.8 258V272.7M237.3 257.1V273.4M237.8 257.3V271.8M238.3 257.8V272.9M238.8 257.1V271.8M239.3 257.1V272.2M239.8 257.5V273.2M240.3 258.7V272.2M240.8 257.7V272M241.3 257.2V272.5M241.8 256.9V272M242.3 256.6V272.3M242.8 257.6V272.9M243.3 256.3V272.7M243.8 257.4V272.8M244.3 256V272.5M244.8 257.4V272.6M245.3 257.9V273.6M245.8 256.9V272.5M246.3 257.6V273.3M246.8 256.9V273.5M247.3 257.1V272.9M247.8 257.8V273.5M248.3 258V273.3M248.8 257.1V274.2M249.3 257.2V273.4M249.8 257.8V273.5M250.3 257V273.5M250.8 257.6V274.2M251.3 256.8V273.7M251.8 257.9V274.2M252.3 258V273.9M252.8 257.6V273.4M253.3 258V275M253.8 259.1V272.5M254.3 257.6V274.8M254.8 260.1V273.4M255.3 258.3V274.7M255.8 257.4V273.6M256.3 257.9V274.6M256.8 257.8V274.7M257.3 257.8V274M257.8 259.3V274.3M258.3 259.6V274.3M258.8 258.1V273.3M259.3 258.3V272.8M259.8 258.5V273.5M260.3 258.6V274.4M260.8 259.8V274.9M261.3 257.5V274M261.8 258.2V273.9M262.3 258.2V274.8M262.8 257.9V274.1M263.3 257.8V276.1M263.8 258.6V273.8M264.3 257.2V274.8M264.8 258.2V275.1M265.3 259.1V274.2M265.8 257.6V274.4M266.3 257.8V274.3M266.8 258.7V274.2M267.3 258.4V274.5M267.8 258.2V275.4M268.3 257.1V274.2M268.8 259.4V274.3M269.3 257.9V273.1M269.8 258.9V274.7M270.3 258.9V274.3M270.8 259V274.2M271.3 259V274.2M271.8 257.7V274M272.3 257.8V276.3M272.8 258V274.2M273.3 258.2V275M273.8 258.6V274.8M274.3 258.2V274.8M274.8 259.1V275.3M275.3 258.5V275M275.8 257.2V274.5M276.3 257.7V274.4M276.8 258.1V274.8M277.3 258.3V274.1M277.8 259V274.7M278.3 259V274.6M278.8 259.3V274.8M279.3 260.1V274.8M279.8 257.5V274.4M280.3 257.7V274.6M280.8 257.9V275.2M281.3 259.2V274.3M281.8 258.6V275.2M282.3 258.2V274.2M282.8 258.2V275.1M283.3 258.9V274.7M283.8 259.3V275.5M284.3 259V275.1M284.8 259.4V274.9M285.3 259.2V276M285.8 259.2V275.3M286.3 259.7V274.7M286.8 259.1V274.6M287.3 259.9V274.2M287.8 260.4V274.1M288.3 259.1V275.3M288.8 259.7V275.1M289.3 260.6V273.9M289.8 259.2V275.2M290.3 259.9V275.9M290.8 260.1V275.7M291.3 260.6V275.9M291.8 260.1V275.5M292.3 261.4V275.6M292.8 261.8V276.3M293.3 260.2V276.2M293.8 260.7V277.1M294.3 260.8V276.5M294.8 261.6V277.3M295.3 261.5V276.8M295.8 260.6V277.1M296.3 260.7V276.9M296.8 261.1V276.1M297.3 260.7V277.9M297.8 260.4V277.8M298.3 262.6V277.9M298.8 262.6V278.3M299.3 262.7V277.4M299.8 262.5V276.6M300.3 262.4V277.9M300.8 262.9V278.2M301.3 263.4V278.1M301.8 263V278.3M302.3 263.3V277.9M302.8 262.5V278.5M303.3 263.3V277.7M303.8 263.2V278.6M304.3 263.2V278.3M304.8 263.7V279M305.3 262.6V278.5M305.8 264V279.1M306.3 264.4V278.6M306.8 263.8V277.6M307.3 263.2V278.7M307.8 264.1V278.5M308.3 263.4V278.9M308.8 264V277.9M309.3 263.5V279.3M309.8 264.2V279.1M310.3 263.8V279.2M310.8 264.3V279.9M311.3 264.7V280.3M311.8 263.7V279.8M312.3 263.9V280.7M312.8 264.6V281.7M313.3 264.5V281.3M313.8 264.4V281.9M314.3 265.2V281.6M314.8 263.9V281.8M315.3 264.1V280.9M315.8 265.6V281.2M316.3 265.1V281M316.8 264.7V280.5M317.3 264.7V280.8M317.8 264.9V281M318.3 266V280.8M318.8 264.8V281.4M319.3 264.7V281.4M319.8 265.1V280.9M320.3 265.6V281.3M320.8 265.8V280.9M321.3 265.4V281.1M321.8 266V281M322.3 265.1V280.4M322.8 266V280.8M323.3 265.2V279.7M323.8 265.5V280.6M324.3 266.2V281.8M324.8 266.2V280.9M325.3 266V280.2M325.8 266.4V280.8M326.3 266.1V280.9M326.8 265.8V280.3M327.3 265.5V280.6M327.8 266.1V281M328.3 266.2V279.5M328.8 266.9V280.5M329.3 266.8V280M329.8 265.1V280.1M330.3 265.5V280.1M330.8 265.5V280.5M331.3 265.7V281.7M331.8 266.2V280.2M332.3 265.8V281.4M332.8 265.6V279.5M333.3 264.6V279.7M333.8 265V279.2M334.3 265V280.8M334.8 265.3V280.3M335.3 264.7V280.3M335.8 265.5V281.7M336.3 266.3V281.2M336.8 264.9V281.3M337.3 265.9V280M337.8 266V280.9M338.3 266.5V280.6M338.8 267.3V281.9M339.3 264.9V281.6M339.8 266.7V282.5M340.3 267.1V281.8M340.8 266.4V282.2M341.3 266.9V282.3M341.8 266.6V283.1M342.3 266.6V281.6M342.8 267.7V282M343.3 267.1V282M343.8 267.5V281.6M344.3 266.6V281.7M344.8 268V282.1M345.3 266.6V282.1M345.8 267.8V282.8M346.3 268.3V282.8M346.8 267.3V283.9M347.3 268.3V283.2M347.8 268.3V282.9M348.3 268.9V283M348.8 267.8V283.9M349.3 268.5V284.1M349.8 267.8V283.3M350.3 268.7V283.4M350.8 268.7V283.5M351.3 267.2V283.4M351.8 268V283.7M352.3 270.1V283M352.8 269.6V283.6M353.3 268.8V283.9M353.8 268.6V284.1M354.3 269.8V284.5M354.8 267.8V283.7M355.3 269.2V283.5M355.8 268.2V284.3M356.3 268.8V284.7M356.8 269V284.1M357.3 269.4V283.3M357.8 269.4V283.3M358.3 269.9V283.9M358.8 269.2V284.4M359.3 270.5V284.7M359.8 269.6V283.8M360.3 270.3V284.2M360.8 269.9V284.5M361.3 270.9V284.6M361.8 269.8V283.6M362.3 269.2V285.5M362.8 270.3V284.6M363.3 270.6V284.6M363.8 270.6V284.3M364.3 270.2V284.8M364.8 270.8V284.1M365.3 270.9V285.5M365.8 270.7V284.8M366.3 271V285.1M366.8 269.7V283.8M367.3 270.2V284.5M367.8 272.8V286M368.3 270.1V285.2M368.8 270.6V285.5M369.3 271.6V285.3M369.8 270.7V284.7M370.3 270V286.1M370.8 270.7V285.7M371.3 270.3V285.6M371.8 270.4V285.8M372.3 270.8V284.8M372.8 271.1V285.8M373.3 272.1V286.2M373.8 271.4V285.6M374.3 271.4V285.7M374.8 272.4V285.7M375.3 271.7V286.3M375.8 271.8V285.4M376.3 271.7V286M376.8 272.8V286.1M377.3 272.5V286M377.8 272.5V284.8M378.3 271.6V285.5M378.8 271.7V285.6M379.3 271.8V286.7M379.8 271.1V286.3M380.3 270.6V286.1M380.8 271.8V286.3M381.3 272.1V286.2M381.8 271.5V287.3M382.3 272V286.7M382.8 272.4V286.5M383.3 272.5V287.8M383.8 271.8V286.7M384.3 272.5V287.1M384.8 270.9V286.9M385.3 273.3V286.5M385.8 271.7V287.3M386.3 272.7V287.8M386.8 273.2V287.4M387.3 271.7V286.4M387.8 271.4V286.4M388.3 273V287.5M388.8 274.3V286.7M389.3 272.7V287.6M389.8 272.2V287.6M390.3 273.2V287.7M390.8 271.5V287.5M391.3 272.1V287.1M391.8 272.1V287.1M392.3 272.7V287.5M392.8 271.8V286.2M393.3 271.1V287.6M393.8 271.6V287.3M394.3 271.9V286.9M394.8 272.2V287M395.3 274V287.3M395.8 273.3V288.8M396.3 272.5V288.6M396.8 272.3V287.7M397.3 272.9V287.3M397.8 272.6V287.2M398.3 272V286.6M398.8 273.2V288.2M399.3 272.8V288.3M399.8 272.7V287.7M400.3 272.6V288M400.8 272.4V287.3M401.3 272.1V286.8M401.8 272.5V288.7M402.3 272.7V287.6M402.8 273.4V287.1M403.3 273.2V285.7M403.8 273.3V287.8M404.3 273V287.5M404.8 272.9V287.5M405.3 274.6V287.9M405.8 273.8V287.2M406.3 272.8V287.5M406.8 272.9V288.9M407.3 273.8V288.2M407.8 274V287.6M408.3 274.6V287.4M408.8 273.5V287.7M409.3 273.8V288.1M409.8 274.5V288.2M410.3 273.4V288.2M410.8 273.2V289.3M411.3 273.5V288.1M411.8 273.7V288.1M412.3 274.3V289M412.8 273.5V288.6M413.3 273.8V288.3M413.8 274V287.8M414.3 273.5V288.8M414.8 273.6V288.5M415.3 274.8V288.6M415.8 274.3V287.9M416.3 274V288.1M416.8 274.5V288M417.3 273.9V289.2M417.8 274.2V288.7M418.3 275.9V288.6M418.8 274.7V288.3M419.3 274.3V288.5M419.8 274.9V288.4M420.3 275.2V288.5M420.8 273.7V288.8M421.3 273.7V287.5M421.8 274.4V287.5M422.3 274.3V288.3M422.8 274.3V288.3M423.3 273.6V288.7M423.8 274.6V288.7M424.3 273.7V289.1M424.8 273.6V288.8M425.3 274V287.6M425.8 275.5V288.4M426.3 274V289.7M426.8 274.8V289.4M427.3 274.6V288.5M427.8 274V288.5M428.3 273.9V289M428.8 273.3V289.9M429.3 274.3V288.8M429.8 273.4V288.9M430.3 275.2V288.2M430.8 274V288.9M431.3 273.2V289.1M431.8 274.1V289.2M432.3 273.2V288.3M432.8 274.6V288M433.3 273.4V289.9M433.8 273.7V289.8M434.3 274.2V288.5M434.8 274.4V290M435.3 274.5V289.1M435.8 273.9V289.4M436.3 274.2V288.7M436.8 273.4V288.9M437.3 273.4V289.6M437.8 274.7V288.6M438.3 273.9V289.3M438.8 274V289.7M439.3 274.6V288.1M439.8 273.5V289.7M440.3 273.7V289.7M440.8 274.4V289.7M441.3 275.2V288.9M441.8 274.8V289.1M442.3 275.6V289.6M442.8 274.9V289.9M443.3 275.1V289.9M443.8 275.7V289.8M444.3 275.4V289.7M444.8 275.4V290.1M445.3 275.3V290.3M445.8 275.5V289.8M446.3 275V290.5M446.8 274.3V289.8M447.3 275.7V289.9M447.8 274.1V288.8M448.3 274.6V288.3M448.8 274.8V289.6M449.3 274.6V289.9M449.8 276.3V289.5M450.3 275.2V290.3M450.8 276V289.6M451.3 274.9V289.8M451.8 275.7V289.5M452.3 274.7V290M452.8 275.7V289.5M453.3 276.2V288.9M453.8 274.6V290.9M454.3 276V290.1M454.8 275.6V290.1M455.3 276.2V290.4M455.8 275.4V290.7M456.3 275.4V290.7M456.8 275.6V291.3M457.3 275.4V290.7M457.8 275.8V290.6M458.3 275.1V290.4M458.8 275.5V290M459.3 275.2V291.3M459.8 276.4V291.3M460.3 276.4V289.6M460.8 275.9V290.6M461.3 277.4V290.9M461.8 275.6V290.1M462.3 275.9V289.3M462.8 276.6V290.4M463.3 275.6V291.2M463.8 274.6V290.1M464.3 275.8V291.3M464.8 277V289.5M465.3 276.8V290.4M465.8 275.9V291M466.3 276.5V291.1M466.8 276.4V291.9M467.3 276.1V290.8M467.8 275.1V290.5M468.3 276V289.7M468.8 275.5V289.9M469.3 276.4V290.8M469.8 275.9V290.9M470.3 277.4V291.1M470.8 276.4V290.5M471.3 278V291.1M471.8 276.1V290.6M472.3 276V290.5M472.8 276V291.4M473.3 276.6V290.1M473.8 275V290.5M474.3 277.1V290.2M474.8 276.8V290.7M475.3 275.3V291M475.8 278.2V290.4M476.3 276.4V290.5M476.8 276.2V290.6M477.3 276.5V291M477.8 276.8V291.9M478.3 276.1V290.5M478.8 276.4V292M479.3 276.1V291M479.8 275.5V290.7M480.3 276.2V291.2M480.8 276.5V291.6M481.3 275.5V289.9M481.8 275.7V290.1M482.3 276.1V290.5M482.8 276.6V290M483.3 276V290.4M483.8 275.6V291.2M484.3 275.5V289.7M484.8 275.6V289.6M485.3 275.2V289.2M485.8 276.3V289.9M486.3 276.1V291.1M486.8 274.4V290.3M487.3 274.7V290.2M487.8 275V290.4M488.3 274.1V291M488.8 275.4V291.4M489.3 275.5V290M489.8 275.3V290.8M490.3 275.1V290.3M490.8 275.4V290.5M491.3 275.3V289.7M491.8 274.4V290.9M492.3 275.2V291.3M492.8 276.1V290.2M493.3 275V290.5M493.8 276V290.8M494.3 276V290.2M494.8 275V289.5M495.3 275.4V290.2M495.8 276V291M496.3 276V291.3M496.8 275.7V290.5M497.3 275.6V290.7M497.8 275.7V291M498.3 276.4V290M498.8 274.3V290.5M499.3 275.4V290M499.8 276.6V290M500.3 275.8V290.4M500.8 276.4V290.9M501.3 276.1V291.1M501.8 276.2V291.1M502.3 276.1V290.9M502.8 276.2V290.8M503.3 275.6V290M503.8 275.9V290.3M504.3 276.1V291M504.8 275.6V290.2M505.3 276V290.1M505.8 275.6V290.7M506.3 275.1V291M506.8 275.7V290.4M507.3 275.1V290.3M507.8 276.4V290.5M508.3 276.1V290.6M508.8 276V290M509.3 276.9V290.2M509.8 276.6V290M510.3 275.8V290.6M510.8 275.3V290M511.3 276.3V290.7M511.8 276.5V290.1M512.3 275.3V291.9M512.8 275.5V290.4M513.3 275.5V290.4M513.8 276.5V289.7M514.3 277.5V292.3M514.8 276.2V292.1M515.3 277.6V291M515.8 276.4V291.7M516.3 276.5V291.4M516.8 276.5V291.6M517.3 276.9V292.1M517.8 276.6V291.8M518.3 277.9V291.3M518.8 277.1V292.7M519.3 276.8V292.9M519.8 277.6V292.5M520.3 276.9V292.8M520.8 277.1V293.2M521.3 278.3V291.6M521.8 277.1V293.4M522.3 277.2V293M522.8 277.6V291.5M523.3 278V293.8M523.8 277.1V293.3M524.3 278.1V293.3M524.8 279.1V292.7M525.3 277.5V293.5M525.8 278.4V293.7M526.3 277V294M526.8 278.6V294.1M527.3 278V292.5M527.8 278.3V294.2M528.3 278.8V293.8M528.8 277.2V293.2M529.3 277.3V293.3M529.8 278.6V294.3M530.3 278.5V292.9M530.8 278.8V293.6M531.3 279.5V292.5M531.8 278.7V294.5M532.3 279.2V293.7M532.8 278.7V293.7M533.3 279.1V294M533.8 278.5V294.3M534.3 277.9V294.8M534.8 279.2V294.9M535.3 279.3V295.1M535.8 278.5V294M536.3 278.7V294M536.8 279.6V293.9M537.3 279V293.8M537.8 278.7V294.2M538.3 278.6V293.4M538.8 278V294.4M539.3 279.4V294M539.8 279.1V294.4M540.3 279.7V293.9M540.8 279.7V294M541.3 279.1V293.3M541.8 279.4V292.7M542.3 279.2V294.4M542.8 279.6V294.2M543.3 279.3V294.9M543.8 280.3V294.3M544.3 278.2V293.7M544.8 279V295.2M545.3 278V293.8M545.8 280.3V295.3M546.3 278.9V296.3M546.8 278.9V295.3M547.3 279.9V293.5M547.8 278.9V293.9M548.3 278.3V293.9M548.8 278.5V294.5M549.3 278V293M549.8 279.5V295M550.3 279.2V295.3M550.8 279.4V293.3M551.3 279.7V294.9M551.8 278.4V294.1M552.3 279.6V294.2M552.8 278.6V295.5M553.3 279.4V293.8M553.8 279V294.2M554.3 279.5V293.1M554.8 278.4V294.6M555.3 279.7V294.6M555.8 280V294.1M556.3 278.9V294.3M556.8 278.6V293.4M557.3 279.8V294.8M557.8 280.5V294.4M558.3 278.6V293.2M558.8 280.4V294.9M559.3 279.1V294.2M559.8 280V293.8M560.3 279.6V293.6M560.8 279.6V294.2M561.3 279V293.5M561.8 279.8V293.8M562.3 280.3V294.4M562.8 280.3V294.9M563.3 279.2V295M563.8 280.6V294.9M564.3 280.7V294.7M564.8 279.9V294.6M565.3 280.7V295.2M565.8 280.9V294.9M566.3 278.7V294.9M566.8 279.8V294.9M567.3 279.6V294.8M567.8 280.4V294.6M568.3 279.8V293.6M568.8 279.9V295.4M569.3 280.3V294.1M569.8 279.9V294.2M570.3 278.8V294.8M570.8 280.5V294.7M571.3 280.7V296.2M571.8 281.1V294.2M572.3 280V294.6M572.8 280.8V295.1M573.3 279.8V294.5M573.8 280.2V295.5M574.3 280.1V294.3M574.8 279.8V294.8M575.3 281.9V295.3M575.8 281.7V296.7M576.3 279.9V294.6M576.8 280.1V296.2M577.3 281.2V296M577.8 282.4V295.3M578.3 281.3V295.2M578.8 281.3V295.5M579.3 280.7V295.6M579.8 281.1V296M580.3 282.2V294.4M580.8 281.6V296.9M581.3 281.6V295.8M581.8 281.6V296M582.3 281V296.8M582.8 283V296.7M583.3 281.5V296.6M583.8 282.4V296M584.3 281.7V295.8M584.8 281.4V296.7M585.3 280.9V295.4M585.8 281.9V295.9M586.3 282V296.5M586.8 282V296.9M587.3 282V296.4M587.8 282.1V297.1M588.3 283.1V296.9M588.8 282.8V298.1M589.3 282.2V297.6M589.8 280.9V296.6M590.3 282.6V295.5M590.8 283.1V296.1M591.3 282.3V297.4M591.8 282.4V297.1M592.3 281.9V298.5M592.8 283.7V297M593.3 281.7V297.6M593.8 282.8V297.4M594.3 282.5V296.5M594.8 283.2V298.1M595.3 283.1V297.2M595.8 282.4V296.6M596.3 282.5V297.3M596.8 283.1V297.6M597.3 282.2V297M597.8 282.9V297.2M598.3 283.3V297.3M598.8 282.7V298.1M599.3 282.1V296.6M599.8 283.7V297.5M600.3 282.5V297.7M600.8 283.5V297.4M601.3 282.5V297.9M601.8 283.9V299.1M602.3 281.8V296.6M602.8 281.3V297.3M603.3 283.4V297.6M603.8 282V298.1M604.3 283.6V297.8M604.8 283.7V296.9M605.3 282.5V298.8M605.8 283.9V297.9M606.3 282.8V296.4M606.8 283.3V298.7M607.3 281.6V298.3M607.8 283.5V297.6M608.3 283.5V297.8M608.8 283.4V297.4M609.3 283V297.2"/>
<path stroke-width="6" d="M145.8 239.8V256.9M146.3 240.1V257.7M146.8 240.6V257M147.3 239.8V257.5M147.8 240.3V258.2M148.3 240.7V258.7M148.8 241.3V259"/>
<path stroke-width="7" d="M142.3 237.4V254.8M142.8 237.4V255.2M143.3 239.5V255.4M143.8 238.2V256.6M144.3 239.4V256.3M144.8 239V256.3M145.3 240V257.3"/>
<path stroke-width="8" d="M138.8 236.3V253.4M139.3 236.4V254.4M139.8 235.3V254M140.3 237.8V254.6M140.8 237.4V253.8M141.3 237.2V254.1M141.8 238.3V254.7"/>
<path stroke-width="9" d="M135.3 233.2V251.3M135.8 234.9V251.1M136.3 234.3V252.5M136.8 234.3V252.6M137.3 235.9V251.1M137.8 236.3V253.1M138.3 236.1V253.6"/>
<path stroke-width="10" d="M131.8 230.2V249.4M132.3 230.1V250M132.8 232V251.9M133.3 231.8V250.7M133.8 233.3V250.2M134.3 233.3V249.7M134.8 233.1V250.6"/>
<path stroke-width="11" d="M128.3 228.4V246.4M128.8 228.6V247.3M129.3 228.5V246.9M129.8 229.3V247.7M130.3 229.2V247.1M130.8 230.2V248.1M131.3 232V248.6"/>
<path stroke-width="12" d="M124.8 225.8V242.3M125.3 226.2V242.8M125.8 226V242.9M126.3 227.8V242.9M126.8 228.3V243.9M127.3 226.3V244.3M127.8 228.2V244.5"/>
<path stroke-width="13" d="M124.3 225.8V240.4M609.8 283V297.4M610.3 283.9V297.8M610.8 283.8V297.1M611.3 283.6V297M611.8 282.8V298.5M612.3 283.9V298M612.8 283.1V297.6M613.3 282.9V298M613.8 282.9V299M614.3 283.4V297.5M614.8 283.4V297.7M615.3 283.9V297.6M615.8 283.9V297.9M616.1 283.5V299.1"/>
<path stroke-width="1.6" d="M124.3 216.5V247.8M124.8 217.8V247.6M125.3 217.6V248.2M125.8 217.4V248.2M126.3 219.3V248.2M126.8 219.9V249.1M127.3 220.6V249.5M127.8 221.4V251.8M128.3 221.3V251.3M128.8 222.7V251.9M129.3 223.3V251.5M129.8 224.7V252.1M130.3 225.1V252.6M130.8 225.9V251.6M131.3 225.8V252M131.8 224.9V252.6M132.3 225.5V252.6M132.8 226.4V252.2M133.3 226.4V252.5M133.8 228.7V253.5M134.3 228.8V253.2M134.8 228.4V253.2M135.3 228.7V254.4M135.8 228.8V254.2M136.3 229.8V254.6M136.8 230.4V254.5M137.3 229.9V254.1M137.8 231.2V254.7M138.3 230.3V254.8M138.8 231.6V254.3M139.3 232.7V255.2M139.8 233.7V255.5M140.3 234.2V257.5M140.8 233.5V257.7M141.3 234.3V257.1M141.8 235.7V257.3M142.3 235.1V256.7M142.8 235.6V256.8M143.3 234.9V257.5M143.8 235.4V257.2M144.3 237.6V257.8M144.8 237.7V257.7M145.3 237.3V258.2M145.8 237V259.2M146.3 236.7V258.8M146.8 238V258.5M147.3 238V259.3M147.8 238.6V259.7M148.3 238.7V260.1M148.8 239.8V260.8M149.3 240V260.7M149.8 240V260.6M150.3 239.3V260.4M150.8 239.4V260.3M151.3 238.8V260.1M151.8 239.3V260M152.3 238.5V260.4M152.8 237.3V259.6M153.3 238.1V259.1M153.8 239.4V259.3M154.3 240V259M154.8 240.3V259.7M155.3 239.9V259.7M155.8 241.2V259.4M156.3 240.3V259.1M156.8 240.7V259.4M157.3 241.5V260.1M157.8 242V260.9M158.3 242.1V259.6M158.8 242.1V259.9M159.3 242.6V260.8M159.8 243V260.5M160.3 242.6V261M160.8 242.1V261.4M161.3 241.5V260.5M161.8 241.8V259.4M162.3 242.4V259.8M162.8 243V260.1M163.3 243.7V260.2M163.8 243.9V260.5M164.3 243.8V260.2M164.8 243.1V259.8M165.3 243.1V261M165.8 243.9V259.8M166.3 242.4V260.4M166.8 242.6V259.7M167.3 242.9V259.6M167.8 242.4V261.1M168.3 242.8V260.8M168.8 243.4V261.5M169.3 242.7V261.9M169.8 242.5V261.6M170.3 242.2V261.9M170.8 242.2V262M171.3 243V261.8M171.8 243.7V262.1M172.3 243.4V262.5M172.8 243.9V263.7M173.3 244.2V263.4M173.8 244.3V263.2M174.3 244.2V263.1M174.8 244.4V263.5M175.3 244.2V263.1M175.8 244.1V263.3M176.3 245V263M176.8 244.8V263.6M177.3 245.9V263.7M177.8 245.9V262.9M178.3 246V262.4M178.8 246.1V262.7M179.3 246.5V263.3M179.8 246.9V263.4M180.3 247.2V262.4M180.8 247V262.3M181.3 246.1V261.9M181.8 246.2V261.9M182.3 247.1V262.2M182.8 246.9V261.9M183.3 247.1V262.2M183.8 247V263.1M184.3 246.9V263.9M184.8 246.8V264.7M185.3 246.6V265.1M185.8 246.1V265.2M186.3 246.7V264.8M186.8 247V265.6M187.3 245.6V263.9M187.8 246.9V264.4M188.3 246.2V264.2M188.8 247V264.3M189.3 247.7V264.4M189.8 246.7V264.9M190.3 246.5V265.6M190.8 246.8V265.9M191.3 247.3V265.6M191.8 247.4V265M192.3 248.1V265.9M192.8 248V265.7M193.3 247.6V266.3M193.8 247.3V266.8M194.3 247.5V266.2M194.8 248.1V266.5M195.3 248.3V266.3M195.8 247.8V266.5M196.3 247.8V266.7M196.8 248.7V266.2M197.3 248.2V267.6M197.8 248.6V267.4M198.3 247.9V267.3M198.8 248.3V267M199.3 248.3V266.9M199.8 249.5V266.3M200.3 248.9V266.3M200.8 248.8V266.8M201.3 248V267.6M201.8 248.7V266.9M202.3 250.2V266.9M202.8 250.1V267M203.3 250.7V266.8M203.8 251.4V267.4M204.3 250.7V267.5M204.8 250.5V268.4M205.3 251.6V268.8M205.8 251.5V268.7M206.3 250.9V269.4M206.8 250.6V268.9M207.3 250.9V268.4M207.8 250.8V268.3M208.3 251.1V268.6M208.8 251.3V268.6M209.3 251.5V268.9M209.8 251.2V269.3M210.3 251V269.4M210.8 251.1V268.7M211.3 251.5V268.7M211.8 251.4V269.2M212.3 251.6V269.4M212.8 251.4V270.1M213.3 251.3V269.8M213.8 251.4V270M214.3 251.6V269.8M214.8 251.9V269.8M215.3 251.5V269.8M215.8 251.8V270.2M216.3 251.6V271M216.8 252.4V271.2M217.3 252.4V270.9M217.8 252.5V271.5M218.3 253.7V270.6M218.8 253.6V270.3M219.3 253.3V270.2M219.8 253.1V271.3M220.3 253.4V270.2M220.8 253.2V270.5M221.3 253.2V270.9M221.8 253.6V270.9M222.3 252V271.3M222.8 252.4V271.1M223.3 252.5V270.8M223.8 252.9V272.8M224.3 253.1V273.3M224.8 253.2V272.6M225.3 252.7V272.4M225.8 253.9V272.5M226.3 253V273.6M226.8 254.3V273.3M227.3 252.5V272.7M227.8 252.8V272.3M228.3 253.7V272.5M228.8 253.5V273.5M229.3 254.4V273.2M229.8 254.4V273.1M230.3 253.9V272.5M230.8 254.5V272.7M231.3 254.2V272.7M231.8 254.9V272.9M232.3 255.2V272.4M232.8 254.9V272.8M233.3 254.9V272.6M233.8 256.2V272.4M234.3 255.6V273M234.8 256.1V273.6M235.3 255.8V272.8M235.8 257V273.3M236.3 257.3V273.4M236.8 257.1V272.9M237.3 257.6V273.2M237.8 255.9V274.1M238.3 256.6V273.7M238.8 257.3V274.1M239.3 257.4V274M239.8 256.4V273.3M240.3 256.1V273M240.8 255.3V273.5M241.3 255.8V272.7M241.8 255V273.4M242.3 255.1V272.9M242.8 254.8V273.9M243.3 254.6V274.4M243.8 255.2V274.1M244.3 254.9V274.6M244.8 256.2V274.2M245.3 256.4V273.8M245.8 256.3V273.1M246.3 256.4V273.6M246.8 256.4V273.7M247.3 257.1V273.8M247.8 257.4V274.1M248.3 256.9V274.1M248.8 256.4V273.9M249.3 257.2V273.9M249.8 256.7V274M250.3 257.1V274.1M250.8 256.6V275M251.3 257V274.6M251.8 256.1V274.9M252.3 256.2V275.5M252.8 256.6V274.8M253.3 257.1V275.2M253.8 256.9V275.8M254.3 256.9V275.7M254.8 256.9V276.9M255.3 257.5V275.8M255.8 256.4V275.4M256.3 257.5V275.2M256.8 257.6V275M257.3 256.9V274.9M257.8 257.3V275.4M258.3 257V274.4M258.8 256.9V274.8M259.3 256.6V275M259.8 257.1V275M260.3 256.4V274.5M260.8 257.1V275.5M261.3 256.8V277.3M261.8 257.1V276.2M262.3 257.6V276.2M262.8 257V276.4M263.3 257V275.7M263.8 257.6V275.6M264.3 257.1V275.8M264.8 257.7V276.3M265.3 257.7V275.7M265.8 257.5V276.2M266.3 257.2V275.1M266.8 257.1V275.7M267.3 257.7V275.3M267.8 257.2V275.5M268.3 256.8V276M268.8 257V276.5M269.3 257.7V275.4M269.8 257.1V276.6M270.3 256.9V276.6M270.8 257.5V276.7M271.3 257.9V275.8M271.8 258.2V276.6M272.3 258.2V276.4M272.8 257.7V276M273.3 257.1V276.1M273.8 256.9V276.3M274.3 257.5V276.5M274.8 257.6V277.2M275.3 257.5V275.5M275.8 257.6V275M276.3 257.7V274.8M276.8 257.6V275.2M277.3 257.1V275.2M277.8 256.8V275.3M278.3 257.1V275.7M278.8 257.2V275.3M279.3 257.8V275.4M279.8 257.1V276.1M280.3 258.1V276M280.8 257.8V275.8M281.3 257.8V276.5M281.8 258V275.1M282.3 257V275.2M282.8 257.6V275.8M283.3 258V275.6M283.8 258.3V276M284.3 257.6V276M284.8 258.5V276.8M285.3 258.7V276.2M285.8 258.8V275.7M286.3 258.7V276.6M286.8 259.3V276.4M287.3 259.6V276.5M287.8 258.7V276.1M288.3 259.4V276.3M288.8 259.2V276.8M289.3 259.6V276.7M289.8 259.6V276.2M290.3 259.1V276.8M290.8 258.9V276.5M291.3 259.5V276.5M291.8 259.3V277.3M292.3 259.8V276.8M292.8 260.1V277.5M293.3 260.3V277.9M293.8 259.6V278M294.3 259.1V279.4M294.8 260V279M295.3 260.3V279.6M295.8 259.2V279.9M296.3 259.7V278.4M296.8 260.7V278.6M297.3 261V278M297.8 260.5V277.8M298.3 260.8V277.8M298.8 260.7V278.3M299.3 260.7V278.2M299.8 260V278.2M300.3 258.8V278.8M300.8 261V279.1M301.3 261.8V279.3M301.8 261.9V278.4M302.3 261.3V278.5M302.8 262.3V278.9M303.3 262.8V279.5M303.8 262V280M304.3 262.2V278.8M304.8 261.9V278.6M305.3 262.4V278.9M305.8 262.7V278.7M306.3 262.8V278.8M306.8 262.9V278.8M307.3 262.7V279.1M307.8 262.3V278.8M308.3 263V280M308.8 262.4V280M309.3 262.4V280M309.8 262.5V281.7M310.3 263.8V283M310.8 263.3V283.8M311.3 263.2V283.6M311.8 263.9V283.7M312.3 262.6V282.7M312.8 263.5V281.7M313.3 263.2V281.7M313.8 264.2V281.4M314.3 264.2V281.3M314.8 263.7V282.6M315.3 264.3V281.7M315.8 264.5V282M316.3 263.9V282.3M316.8 264.1V282.1M317.3 263.6V281.5M317.8 264.1V281M318.3 265V281.7M318.8 264.8V281.1M319.3 264.5V281.3M319.8 265.2V280.9M320.3 265V281.5M320.8 264.5V280.8M321.3 265.2V281.2M321.8 265.1V281.6M322.3 264.9V281.5M322.8 264.5V281.5M323.3 264.6V281.2M323.8 264.5V281.2M324.3 265.1V282.8M324.8 265.5V283.4M325.3 265.1V283.1M325.8 265.7V282.7M326.3 265.8V281.9M326.8 264.7V281.9M327.3 265.6V280.4M327.8 265V280.7M328.3 265.5V281.1M328.8 265.2V281.7M329.3 264.4V282M329.8 263.7V281.4M330.3 264.4V281.1M330.8 264.6V281.7M331.3 264.8V281.9M331.8 264.7V282M332.3 265V281.5M332.8 264.5V281.8M333.3 264V281.9M333.8 263.8V281.4M334.3 263.6V281.3M334.8 263V282.2M335.3 265.1V281.1M335.8 264.7V281.4M336.3 265V281.6M336.8 264.5V281.6M337.3 264.9V282.4M337.8 264.1V282.6M338.3 264.6V282M338.8 265.3V282M339.3 265.3V282.9M339.8 265.1V282.9M340.3 265V283.1M340.8 265.5V282.8M341.3 265.5V283M341.8 265.1V282.7M342.3 266.6V283.1M342.8 265.8V282.6M343.3 263.9V282.7M343.8 264.1V282.7M344.3 264.1V284.2M344.8 264.3V283.5M345.3 265.9V284M345.8 266.7V283.8M346.3 266.4V284M346.8 266.6V284.6M347.3 266.9V284.3M347.8 266.9V284.5M348.3 267.5V284.4M348.8 267.2V284.4M349.3 267.7V285M349.8 267.3V284.9M350.3 267.7V284.6M350.8 266.4V283.9M351.3 267.3V283.7M351.8 266.7V284.1M352.3 267.8V284.3M352.8 267.7V284.1M353.3 267.7V284.5M353.8 267.7V284.3M354.3 268.2V284.8M354.8 267.6V284.8M355.3 267.9V284.8M355.8 267.4V285.4M356.3 267.3V285.1M356.8 268V285.3M357.3 267.5V284.7M357.8 267.3V284.3M358.3 266.6V285M358.8 269V284.9M359.3 269.5V285.2M359.8 269.7V285.1M360.3 269.5V285M360.8 269.1V285.1M361.3 269.5V284.9M361.8 268.7V285.1M362.3 267.5V285.2M362.8 267.6V286M363.3 268.3V285.2M363.8 268.7V284.9M364.3 268.7V284.9M364.8 269.5V285.4M365.3 269.4V285.7M365.8 270V285.4M366.3 270.2V286.2M366.8 270.1V286.4M367.3 269.6V285.8M367.8 269.8V286.5M368.3 268.7V285.9M368.8 268.8V285.8M369.3 269V285.7M369.8 269.6V285.7M370.3 270V286.3M370.8 270.5V286.8M371.3 270V287.3M371.8 269.6V285.9M372.3 269.8V286.2M372.8 268.5V287.5M373.3 269.9V286.5M373.8 270.6V285.9M374.3 270.9V285.7M374.8 270.8V287.1M375.3 271.5V286.4M375.8 271.3V286.3M376.3 271.7V286M376.8 271.8V286.1M377.3 271.4V287.3M377.8 270.1V286.4M378.3 271V286.7M378.8 270.5V286.7M379.3 271V287.6M379.8 271.1V287M380.3 270.5V286.8M380.8 270.3V287.5M381.3 270.6V287.5M381.8 271V287.4M382.3 269.8V287.8M382.8 269.4V288.7M383.3 270.8V287.9M383.8 270.8V287.8M384.3 270.8V287.3M384.8 270.8V287.5M385.3 271.4V288M385.8 270.4V288M386.3 270.9V288.4M386.8 270.9V288.4M387.3 271V289.4M387.8 271.4V288.1M388.3 271.2V287.4M388.8 271.1V287.2M389.3 271.5V287.3M389.8 271.9V287.2M390.3 271.6V287.8M390.8 270.3V288.1M391.3 269.4V289.6M391.8 270.2V289.8M392.3 270.4V288.9M392.8 271.6V288.9M393.3 271.3V289.5M393.8 271.5V289.4M394.3 271.4V289.5M394.8 271.4V288.5M395.3 270.9V288.5M395.8 270.8V288.5M396.3 271.1V288.6M396.8 270.9V288.3M397.3 271.4V288.5M397.8 271V289M398.3 271.9V289.5M398.8 271.7V289M399.3 272V289.6M399.8 271.7V289.4M400.3 270.5V288.9M400.8 271V288.3M401.3 270.7V288.2M401.8 270.9V289.3M402.3 271.8V288.4M402.8 271.8V288.4M403.3 272.6V288.6M403.8 272.3V288.6M404.3 272V288.6M404.8 273.1V288.6M405.3 272.5V289.5M405.8 272.1V288.7M406.3 273.4V288.6M406.8 273.2V288.8M407.3 273V288.9M407.8 273.3V289.2M408.3 273.3V289.5M408.8 272.7V289.8M409.3 272.7V288.8M409.8 272.9V289.6M410.3 273V289.1M410.8 273.1V290.2M411.3 273.2V289.4M411.8 273.5V288.9M412.3 273.7V288.8M412.8 273.1V288.8M413.3 273.2V289.7M413.8 273V288.5M414.3 272.2V288.8M414.8 273.1V289.3M415.3 273.9V288.8M415.8 274V288.7M416.3 273.6V288.7M416.8 273.6V288.7M417.3 273.2V288.9M417.8 272.9V289.3M418.3 273V289.2M418.8 272.5V289.2M419.3 272.9V289.9M419.8 273.2V288.8M420.3 272.6V288.3M420.8 272.4V288.9M421.3 273.1V289.4M421.8 273.7V290M422.3 273.4V288.8M422.8 272.7V288.9M423.3 274V288.5M423.8 273.6V289.1M424.3 273.8V290M424.8 274.1V289.8M425.3 273.6V289.4M425.8 273.3V289.9M426.3 273.5V289.4M426.8 273.1V289.6M427.3 273.4V289.6M427.8 272.9V289.4M428.3 273.8V290M428.8 273.1V290.2M429.3 272.9V290.7M429.8 273.4V290.4M430.3 273.2V291.2M430.8 273.7V290M431.3 273.7V290M431.8 272.8V290.1M432.3 273.7V289.6M432.8 273.2V289.9M433.3 272.3V289.5M433.8 272.9V289.6M434.3 273.4V290M434.8 273.8V289.6M435.3 274V289.9M435.8 273.4V290.9M436.3 273.4V291.5M436.8 272.2V291.1M437.3 272.5V289.8M437.8 273.1V290M438.3 272.6V289.5M438.8 273.8V290M439.3 273.8V289.3M439.8 273.2V289.6M440.3 272.3V289.9M440.8 272.7V289.4M441.3 272.9V289.6M441.8 273.5V289.6M442.3 273.6V289.6M442.8 274.2V289.7M443.3 274.6V291.7M443.8 274.5V291.6M444.3 274.7V291.5M444.8 274.1V290.4M445.3 274.2V290.7M445.8 274.6V290.6M446.3 273.9V290.1M446.8 273V291M447.3 272.9V290.7M447.8 274V290.3M448.3 274.2V290.3M448.8 274.7V290.5M449.3 274.5V290.1M449.8 273.9V289.7M450.3 274V289.8M450.8 274.3V289.8M451.3 274.7V290.4M451.8 274.3V290.3M452.3 273.9V290.6M452.8 274.5V290.8M453.3 274.4V290.8M453.8 274V290.7M454.3 274.9V291.1M454.8 275V291.1M455.3 274.4V291.2M455.8 274.7V292.3M456.3 274.4V292.6M456.8 273.8V291.8M457.3 274.7V291.7M457.8 275.3V290.9M458.3 275.2V291.6M458.8 275.3V290.8M459.3 275.2V290.9M459.8 275.3V290.9M460.3 275.2V291.9M460.8 274.7V291M461.3 274.8V292M461.8 275.2V291.1M462.3 274V291.2M462.8 274V291.3M463.3 274.5V291.7M463.8 273.9V291M464.3 274.6V292.7M464.8 274.6V292M465.3 274.5V291.5M465.8 274.4V291.9M466.3 275.1V292.1M466.8 274.9V292.2M467.3 274.8V291.9M467.8 275.2V292.7M468.3 274.7V293.3M468.8 274.9V292.7M469.3 275.5V291.7M469.8 275.6V290.6M470.3 275.3V291.2M470.8 275.2V291.9M471.3 275V292M471.8 275.3V291.7M472.3 274.7V291.3M472.8 274.9V291.3M473.3 274.9V291M473.8 275.4V291.8M474.3 275.3V292.1M474.8 275.4V291.9M475.3 274.6V291.8M475.8 274.1V292.7M476.3 274V293.2M476.8 274.6V292.3M477.3 275.1V291.9M477.8 275.8V292.2M478.3 276V291.7M478.8 275.9V292.2M479.3 276V292.1M479.8 275.8V292.4M480.3 275.3V292.4M480.8 276V292.2M481.3 275.6V291.8M481.8 275.3V291.2M482.3 275.4V291.5M482.8 274.7V291.3M483.3 275.2V292.4M483.8 275.2V291.6M484.3 274.9V290.7M484.8 274.7V290.8M485.3 274.6V290.8M485.8 274V290.9M486.3 274.1V292.1M486.8 274.5V291.4M487.3 274.3V291.1M487.8 273.5V291.6M488.3 273.5V291.6M488.8 274.1V291.3M489.3 274.5V291.3M489.8 274.2V291.8M490.3 274.2V291.8M490.8 274.4V291.4M491.3 274.9V291.1M491.8 274.1V292M492.3 274.2V291.9M492.8 274.9V291.8M493.3 273.9V291.4M493.8 274.7V291.8M494.3 274.2V291.5M494.8 274.8V291.6M495.3 275.1V290.9M495.8 275.5V291.7M496.3 274.3V292.1M496.8 274.2V291.4M497.3 274.6V291M497.8 274.5V291.2M498.3 274.6V292.5M498.8 274.4V292.3M499.3 274.7V291.9M499.8 274.3V292.5M500.3 274.5V293.3M500.8 274.7V293.6M501.3 274.5V292.3M501.8 275.9V291.7M502.3 275.8V291.3M502.8 275.3V291.5M503.3 275.7V290.5M503.8 274.9V291.8M504.3 275.5V291.9M504.8 274.8V290.9M505.3 275.4V290.4M505.8 275.6V290.7M506.3 275.3V290.7M506.8 274.6V291M507.3 274.5V291M507.8 275.1V291M508.3 275.4V291.2M508.8 275.6V291M509.3 275.6V291.3M509.8 274.8V293.2M510.3 275.7V292.6M510.8 275.1V291.9M511.3 275.5V293.2M511.8 275.6V293.6M512.3 275.2V292.8M512.8 275.8V292.4M513.3 275.4V292M513.8 275.8V292.2M514.3 275V292.8M514.8 275.6V292.1M515.3 275.2V292.4M515.8 276V293.4M516.3 276.7V293.4M516.8 276.7V293.2M517.3 276.5V292.4M517.8 276.8V293.6M518.3 276.2V295.4M518.8 276.9V295.6M519.3 276.9V294.8M519.8 276.5V294.7M520.3 276.5V295.4M520.8 277V295.2M521.3 277.2V294.3M521.8 277.2V295.3M522.3 277.4V295.2M522.8 276.5V294.7M523.3 276.8V294M523.8 276.6V294.1M524.3 276.1V293.9M524.8 277.4V293.5M525.3 277.3V293.8M525.8 277.5V294M526.3 277.2V293.8M526.8 277.3V294.9M527.3 277.1V293.9M527.8 277.1V294.2M528.3 277.4V294M528.8 277.2V294.6M529.3 277.6V294M529.8 276.7V294.4M530.3 276.6V295M530.8 277V294.2M531.3 277.4V294.1M531.8 277.8V295M532.3 278V294.5M532.8 278.3V295M533.3 278V295.5M533.8 278.2V295.4M534.3 277.8V295.3M534.8 277.9V294.7M535.3 277.9V294.7M535.8 278.2V294.9M536.3 277.5V295.1M536.8 277.2V294.6M537.3 278.3V294.9M537.8 278.1V294.7M538.3 278.4V294.2M538.8 277.9V294.4M539.3 278.2V294.2M539.8 278.4V295M540.3 278.5V294.4M540.8 277.2V294.6M541.3 277.4V294.6M541.8 277.7V294.5M542.3 278.2V295.5M542.8 277.5V294.9M543.3 277.4V295M543.8 278.4V296.4M544.3 278.3V295.8M544.8 277.9V296.1M545.3 278.5V296M545.8 278.2V295.7M546.3 278V296.7M546.8 277V296.7M547.3 277.5V296.6M547.8 276.7V296.4M548.3 278V296.6M548.8 278.2V296.2M549.3 278V295.6M549.8 278V296M550.3 278.6V295M550.8 278.6V295.2M551.3 278.5V296.1M551.8 278.2V295.4M552.3 278.1V295.1M552.8 278.2V295.4M553.3 278.1V294.9M553.8 278.9V295.6M554.3 279V295.1M554.8 278.8V295.2M555.3 278.6V295.2M555.8 278.6V294.8M556.3 279V294.9M556.8 278.8V295.1M557.3 278.4V295.3M557.8 278.4V295.4M558.3 279V294.4M558.8 278.8V294.8M559.3 278.9V294.5M559.8 279.1V294.3M560.3 278.9V294.7M560.8 277.8V295M561.3 277.7V294.8M561.8 278.5V294.7M562.3 279.3V294.8M562.8 279V295.7M563.3 278.4V295.5M563.8 279V295.1M564.3 279.1V294.9M564.8 279V294.7M565.3 278V295M565.8 279V295.1M566.3 279.2V294.9M566.8 278.8V295.6M567.3 278.5V295.2M567.8 278.4V296.2M568.3 278.1V295M568.8 278.9V295.9M569.3 278.3V295.7M569.8 279V295.9M570.3 277.9V295.6M570.8 278.4V296.1M571.3 278.1V296.1M571.8 277.8V295.8M572.3 278.7V296M572.8 278.6V295.7M573.3 280.3V296.4M573.8 280.4V296.6M574.3 280.1V296.2M574.8 279V296.4M575.3 279.3V297.2M575.8 280.3V297.2M576.3 280V297.7M576.8 280.4V296.9M577.3 279V296.4M577.8 278.6V296.4M578.3 278.7V297.1M578.8 279.7V296.3M579.3 280.3V296.5M579.8 281.1V297.5M580.3 281V296.5M580.8 280.6V296.9M581.3 281V297.2M581.8 280.5V297.1M582.3 281.2V296.6M582.8 281.3V296.9M583.3 281.2V297.5M583.8 281.3V297M584.3 281.3V297.3M584.8 281.4V297M585.3 281.4V298M585.8 281.5V297.1M586.3 280.6V298.1M586.8 280.4V297.5M587.3 281.1V298.1M587.8 281.5V298.6M588.3 281.3V298.2M588.8 280.4V298.3M589.3 279.5V298.6M589.8 280.3V298.2M590.3 280.7V297.9M590.8 280.2V298M591.3 281V298.5M591.8 280.7V298.1M592.3 280.6V298.6M592.8 281.3V297.9M593.3 281.3V298.2M593.8 282.1V298.4M594.3 281.4V298.1M594.8 281.6V299M595.3 281V299.2M595.8 281.1V298.7M596.3 281.1V298.8M596.8 280.7V298M597.3 280.8V298.4M597.8 280.7V297.8M598.3 281.3V297.8M598.8 281.6V297.6M599.3 281.6V298.8M599.8 281.1V299.5M600.3 281.4V299.8M600.8 281.8V299.6M601.3 281.6V299.1M601.8 281.7V299M602.3 281.8V299.7M602.8 281.6V300.2M603.3 281.9V300.5M603.8 281.6V300.3M604.3 281.6V300.3M604.8 281.8V301.3M605.3 281.6V300.1M605.8 281.6V299M606.3 281.1V298.6M606.8 281.7V299.4M607.3 282V299.3M607.8 281.6V298.8M608.3 281.1V298.7M608.8 280.4V299.5M609.3 282V299.7M609.8 281.9V300.3M610.3 282.3V300.1M610.8 282.2V299.2M611.3 282V299.1M611.8 281.6V299.3M612.3 282.1V299.2M612.8 282.8V298.9M613.3 282.3V299.1"/>
<path stroke-width="4" d="M104.9 67.1V88.4M105.1 94.7V115.8M105.2 117.6V136.9M105.4 141.9V160M105.6 144.8V172M105.8 147.7V180M105.9 150.6V183.7M106.1 153.5V186.6M106.3 156.4V189.2M106.5 159.3V191.7M106.6 161.6V194.3M106.8 163.7V196.8M107 166V199.2M107.1 168.2V200.6M107.3 170.2V202M107.5 172.5V203M107.7 174.7V204.4M107.8 176.3V205.6M108 176.9V206.6M108.2 177.9V207.8M108.4 178.5V209M108.5 179.3V210.3M108.7 179.9V211.8M108.9 180.9V213.1M109.1 181.4V213.1M109.2 181.4V214M109.4 182.4V214.6M109.6 183.8V215.1M109.7 183.7V215M109.9 184.7V217.1M110.1 186.1V216.8M110.3 185.6V217.1M110.4 187.5V218.9M110.6 188.5V219.7M110.8 188.3V220.6M111 189V221.5M111.1 189.7V222.1M111.3 191.4V223.8M111.5 191.9V223.9M111.6 193.1V224M111.8 193.8V224.6M112 195.7V225.6M112.2 196.4V224M112.3 198.6V225M112.5 198.6V224.8M112.7 200.7V226M112.9 202.1V226M113 203V226.1M113.2 205V226M113.4 206.8V225.2M113.5 207.5V227M113.7 208.4V226.1M113.9 208V225.8M114.1 209V227.1M114.2 208.7V226.4M114.4 208.2V227.6M114.6 209.2V228.4M114.8 209.4V227.4M114.9 210.2V227M115.1 211.3V227.4M115.3 211.3V228.6M115.5 211.3V228.8M115.6 212.8V228.1M115.8 212.6V228M116 213.5V229.4M116.1 213.8V229.1M116.3 213.3V228.3M116.5 212.6V229.6M116.7 214.6V230.6M116.8 214.2V229.7M117 217.1V229.5M117.2 216.1V230.6M117.4 216.1V229.7M117.5 216V231.1M117.7 216.4V231.1M117.9 216.3V230.9M118 216.4V231.1M118.2 216.7V231.1M118.4 217.5V231.8M118.6 218.1V231.9M118.7 218.5V231.9M118.9 218.8V232M119.1 217.7V232.4M119.3 217.3V232.6M119.4 219.1V232.7M119.6 219.3V232.9M119.8 218.8V233M119.9 219V232.7M120.1 219.5V234M120.3 219.8V234.4M120.5 220.5V234.5M120.6 219.9V235.6M120.8 220.4V234.2M121 220.8V235.6M121.2 220.4V235M121.3 220.9V235.3M121.5 222V236.5M121.7 222.1V236M121.9 220.9V236.1M122 222.7V236.6M122.2 222.7V237.2M122.4 223.5V236.9M122.5 222.9V237.7M122.7 224.1V237.3M122.9 223.4V238.2M123.1 223.4V239.4M123.2 223.5V239.1M123.4 224.9V239.5M123.6 224.5V239.6M123.8 224.7V238.7M98.4 69.1h13M98.4 86.4h13M98.6 96.7h13M98.6 113.8h13M98.7 119.6h13M98.7 134.9h13M98.9 143.9h13M98.9 158h13M99.1 146.8h13M99.1 170h13M99.3 149.7h13M99.3 178h13M99.4 152.6h13M99.4 181.7h13M99.6 155.5h13M99.6 184.6h13M99.8 158.4h13M99.8 187.2h13M100 161.3h13M100 189.7h13M100.1 163.6h13M100.1 192.3h13M100.3 165.7h13M100.3 194.8h13M100.5 168h13M100.5 197.2h13M100.6 170.2h13M100.6 198.6h13M100.8 172.2h13M100.8 200h13M101 174.5h13M101 201h13M101.2 176.7h13M101.2 202.4h13M101.3 178.3h13M101.3 203.6h13M101.5 178.9h13M101.5 204.6h13M101.7 179.9h13M101.7 205.8h13M101.9 180.5h13M101.9 207h13M102 181.3h13M102 208.3h13M102.2 181.9h13M102.2 209.8h13M102.4 182.9h13M102.4 211.1h13M102.6 183.4h13M102.6 211.1h13M102.7 183.4h13M102.7 212h13M102.9 184.4h13M102.9 212.6h13M103.1 185.8h13M103.1 213.1h13M103.2 185.7h13M103.2 213h13M103.4 186.7h13M103.4 215.1h13M103.6 188.1h13M103.6 214.8h13M103.8 187.6h13M103.8 215.1h13M103.9 189.5h13M103.9 216.9h13M104.1 190.5h13M104.1 217.7h13M104.3 190.3h13M104.3 218.6h13M104.5 191h13M104.5 219.5h13M104.6 191.7h13M104.6 220.1h13M104.8 193.4h13M104.8 221.8h13M105 193.9h13M105 221.9h13M105.1 195.1h13M105.1 222h13M105.3 195.8h13M105.3 222.6h13M105.5 197.7h13M105.5 223.6h13M105.7 198.4h13M105.7 222h13M105.8 200.6h13M105.8 223h13M106 200.6h13M106 222.8h13M106.2 202.7h13M106.2 224h13M106.4 204.1h13M106.4 224h13M106.5 205h13M106.5 224.1h13M106.7 207h13M106.7 224h13M106.9 208.8h13M106.9 223.2h13M107 209.5h13M107 225h13M107.2 210.4h13M107.2 224.1h13M107.4 210h13M107.4 223.8h13M107.6 211h13M107.6 225.1h13M107.7 210.7h13M107.7 224.4h13M107.9 210.2h13M107.9 225.6h13M108.1 211.2h13M108.1 226.4h13M108.3 211.4h13M108.3 225.4h13M108.4 212.2h13M108.4 225h13M108.6 213.3h13M108.6 225.4h13M108.8 213.3h13M108.8 226.6h13M109 213.3h13M109 226.8h13M109.1 214.8h13M109.1 226.1h13M109.3 214.6h13M109.3 226h13M109.5 215.5h13M109.5 227.4h13M109.6 215.8h13M109.6 227.1h13M109.8 215.3h13M109.8 226.3h13M110 214.6h13M110 227.6h13M110.2 216.6h13M110.2 228.6h13M110.3 216.2h13M110.3 227.7h13M110.5 219.1h13M110.5 227.5h13M110.7 218.1h13M110.7 228.6h13M110.9 218.1h13M110.9 227.7h13M111 218h13M111 229.1h13M111.2 218.4h13M111.2 229.1h13M111.4 218.3h13M111.4 228.9h13M111.5 218.4h13M111.5 229.1h13M111.7 218.7h13M111.7 229.1h13M111.9 219.5h13M111.9 229.8h13M112.1 220.1h13M112.1 229.9h13M112.2 220.5h13M112.2 229.9h13M112.4 220.8h13M112.4 230h13M112.6 219.7h13M112.6 230.4h13M112.8 219.3h13M112.8 230.6h13M112.9 221.1h13M112.9 230.7h13M113.1 221.3h13M113.1 230.9h13M113.3 220.8h13M113.3 231h13M113.4 221h13M113.4 230.7h13M113.6 221.5h13M113.6 232h13M113.8 221.8h13M113.8 232.4h13M114 222.5h13M114 232.5h13M114.1 221.9h13M114.1 233.6h13M114.3 222.4h13M114.3 232.2h13M114.5 222.8h13M114.5 233.6h13M114.7 222.4h13M114.7 233h13M114.8 222.9h13M114.8 233.3h13M115 224h13M115 234.5h13M115.2 224.1h13M115.2 234h13M115.4 222.9h13M115.4 234.1h13M115.5 224.7h13M115.5 234.6h13M115.7 224.7h13M115.7 235.2h13M115.9 225.5h13M115.9 234.9h13M116 224.9h13M116 235.7h13M116.2 226.1h13M116.2 235.3h13M116.4 225.4h13M116.4 236.2h13M116.6 225.4h13M116.6 237.4h13M116.7 225.5h13M116.7 237.1h13M116.9 226.9h13M116.9 237.5h13M117.1 226.5h13M117.1 237.6h13M117.3 226.7h13M117.3 236.7h13M605.3 284.8h13M605.3 296.5h13M605.8 285.9h13M605.8 296h13M606.3 285.1h13M606.3 295.6h13M606.8 284.9h13M606.8 296h13M607.3 284.9h13M607.3 297h13M607.8 285.4h13M607.8 295.5h13M608.3 285.4h13M608.3 295.7h13M608.8 285.9h13M608.8 295.6h13M609.3 285.9h13M609.3 295.9h13M609.6 285.5h13M609.6 297.1h13M98.5 71.3l12.8 12.8m-12.8 0l12.8 -12.8M98.7 98.8l12.8 12.8m-12.8 0l12.8 -12.8M98.8 120.8l12.8 12.8m-12.8 0l12.8 -12.8M99 144.5l12.8 12.8m-12.8 0l12.8 -12.8M99.2 152l12.8 12.8m-12.8 0l12.8 -12.8M99.4 157.4l12.8 12.8m-12.8 0l12.8 -12.8M99.5 160.7l12.8 12.8m-12.8 0l12.8 -12.8M99.7 163.7l12.8 12.8m-12.8 0l12.8 -12.8M99.9 166.4l12.8 12.8m-12.8 0l12.8 -12.8M100.1 169.1l12.8 12.8m-12.8 0l12.8 -12.8M100.2 171.5l12.8 12.8m-12.8 0l12.8 -12.8M100.4 173.9l12.8 12.8m-12.8 0l12.8 -12.8M100.6 176.2l12.8 12.8m-12.8 0l12.8 -12.8M100.7 178l12.8 12.8m-12.8 0l12.8 -12.8M100.9 179.7l12.8 12.8m-12.8 0l12.8 -12.8M101.1 181.4l12.8 12.8m-12.8 0l12.8 -12.8M101.3 183.2l12.8 12.8m-12.8 0l12.8 -12.8M101.4 184.6l12.8 12.8m-12.8 0l12.8 -12.8M101.6 185.4l12.8 12.8m-12.8 0l12.8 -12.8M101.8 186.4l12.8 12.8m-12.8 0l12.8 -12.8M102 187.3l12.8 12.8m-12.8 0l12.8 -12.8M102.1 188.4l12.8 12.8m-12.8 0l12.8 -12.8M102.3 189.4l12.8 12.8m-12.8 0l12.8 -12.8M102.5 190.6l12.8 12.8m-12.8 0l12.8 -12.8M102.7 190.8l12.8 12.8m-12.8 0l12.8 -12.8M102.8 191.3l12.8 12.8m-12.8 0l12.8 -12.8M103 192.1l12.8 12.8m-12.8 0l12.8 -12.8M103.2 193.1l12.8 12.8m-12.8 0l12.8 -12.8M103.3 193l12.8 12.8m-12.8 0l12.8 -12.8M103.5 194.5l12.8 12.8m-12.8 0l12.8 -12.8M103.7 195l12.8 12.8m-12.8 0l12.8 -12.8M103.9 194.9l12.8 12.8m-12.8 0l12.8 -12.8M104 196.8l12.8 12.8m-12.8 0l12.8 -12.8M104.2 197.7l12.8 12.8m-12.8 0l12.8 -12.8M104.4 198l12.8 12.8m-12.8 0l12.8 -12.8M104.6 198.8l12.8 12.8m-12.8 0l12.8 -12.8M104.7 199.5l12.8 12.8m-12.8 0l12.8 -12.8M104.9 201.2l12.8 12.8m-12.8 0l12.8 -12.8M105.1 201.5l12.8 12.8m-12.8 0l12.8 -12.8M105.2 202.2l12.8 12.8m-12.8 0l12.8 -12.8M105.4 202.8l12.8 12.8m-12.8 0l12.8 -12.8M105.6 204.2l12.8 12.8m-12.8 0l12.8 -12.8M105.8 203.8l12.8 12.8m-12.8 0l12.8 -12.8M105.9 205.4l12.8 12.8m-12.8 0l12.8 -12.8M106.1 205.3l12.8 12.8m-12.8 0l12.8 -12.8M106.3 206.9l12.8 12.8m-12.8 0l12.8 -12.8M106.5 207.7l12.8 12.8m-12.8 0l12.8 -12.8M106.6 208.2l12.8 12.8m-12.8 0l12.8 -12.8M106.8 209.1l12.8 12.8m-12.8 0l12.8 -12.8M107 209.6l12.8 12.8m-12.8 0l12.8 -12.8M107.1 210.9l12.8 12.8m-12.8 0l12.8 -12.8M107.3 210.8l12.8 12.8m-12.8 0l12.8 -12.8M107.5 210.5l12.8 12.8m-12.8 0l12.8 -12.8M107.7 211.6l12.8 12.8m-12.8 0l12.8 -12.8M107.8 211.1l12.8 12.8m-12.8 0l12.8 -12.8M108 211.5l12.8 12.8m-12.8 0l12.8 -12.8M108.2 212.4l12.8 12.8m-12.8 0l12.8 -12.8M108.4 212l12.8 12.8m-12.8 0l12.8 -12.8M108.5 212.2l12.8 12.8m-12.8 0l12.8 -12.8M108.7 212.9l12.8 12.8m-12.8 0l12.8 -12.8M108.9 213.5l12.8 12.8m-12.8 0l12.8 -12.8M109.1 213.7l12.8 12.8m-12.8 0l12.8 -12.8M109.2 214l12.8 12.8m-12.8 0l12.8 -12.8M109.4 213.9l12.8 12.8m-12.8 0l12.8 -12.8M109.6 215.1l12.8 12.8m-12.8 0l12.8 -12.8M109.7 215.1l12.8 12.8m-12.8 0l12.8 -12.8M109.9 214.4l12.8 12.8m-12.8 0l12.8 -12.8M110.1 214.7l12.8 12.8m-12.8 0l12.8 -12.8M110.3 216.2l12.8 12.8m-12.8 0l12.8 -12.8M110.4 215.5l12.8 12.8m-12.8 0l12.8 -12.8M110.6 216.9l12.8 12.8m-12.8 0l12.8 -12.8M110.8 217l12.8 12.8m-12.8 0l12.8 -12.8M111 216.5l12.8 12.8m-12.8 0l12.8 -12.8M111.1 217.1l12.8 12.8m-12.8 0l12.8 -12.8M111.3 217.4l12.8 12.8m-12.8 0l12.8 -12.8M111.5 217.2l12.8 12.8m-12.8 0l12.8 -12.8M111.6 217.3l12.8 12.8m-12.8 0l12.8 -12.8M111.8 217.5l12.8 12.8m-12.8 0l12.8 -12.8M112 218.3l12.8 12.8m-12.8 0l12.8 -12.8M112.2 218.6l12.8 12.8m-12.8 0l12.8 -12.8M112.3 218.8l12.8 12.8m-12.8 0l12.8 -12.8M112.5 219l12.8 12.8m-12.8 0l12.8 -12.8M112.7 218.6l12.8 12.8m-12.8 0l12.8 -12.8M112.9 218.6l12.8 12.8m-12.8 0l12.8 -12.8M113 219.5l12.8 12.8m-12.8 0l12.8 -12.8M113.2 219.7l12.8 12.8m-12.8 0l12.8 -12.8M113.4 219.5l12.8 12.8m-12.8 0l12.8 -12.8M113.5 219.5l12.8 12.8m-12.8 0l12.8 -12.8M113.7 220.4l12.8 12.8m-12.8 0l12.8 -12.8M113.9 220.7l12.8 12.8m-12.8 0l12.8 -12.8M114.1 221.1l12.8 12.8m-12.8 0l12.8 -12.8M114.2 221.4l12.8 12.8m-12.8 0l12.8 -12.8M114.4 220.9l12.8 12.8m-12.8 0l12.8 -12.8M114.6 221.8l12.8 12.8m-12.8 0l12.8 -12.8M114.8 221.3l12.8 12.8m-12.8 0l12.8 -12.8M114.9 221.7l12.8 12.8m-12.8 0l12.8 -12.8M115.1 222.8l12.8 12.8m-12.8 0l12.8 -12.8M115.3 222.6l12.8 12.8m-12.8 0l12.8 -12.8M115.5 222.1l12.8 12.8m-12.8 0l12.8 -12.8M115.6 223.2l12.8 12.8m-12.8 0l12.8 -12.8M115.8 223.6l12.8 12.8m-12.8 0l12.8 -12.8M116 223.8l12.8 12.8m-12.8 0l12.8 -12.8M116.1 223.9l12.8 12.8m-12.8 0l12.8 -12.8M116.3 224.3l12.8 12.8m-12.8 0l12.8 -12.8M116.5 224.4l12.8 12.8m-12.8 0l12.8 -12.8M116.7 225l12.8 12.8m-12.8 0l12.8 -12.8M116.8 224.9l12.8 12.8m-12.8 0l12.8 -12.8M117 225.8l12.8 12.8m-12.8 0l12.8 -12.8M117.2 225.7l12.8 12.8m-12.8 0l12.8 -12.8M117.4 225.3l12.8 12.8m-12.8 0l12.8 -12.8M607.4 284.6l12.8 12.8m-12.8 0l12.8 -12.8M607.9 284l12.8 12.8m-12.8 0l12.8 -12.8M608.4 284.1l12.8 12.8m-12.8 0l12.8 -12.8M608.9 284.3l12.8 12.8m-12.8 0l12.8 -12.8M609.4 284.5l12.8 12.8m-12.8 0l12.8 -12.8M609.7 284.9l12.8 12.8m-12.8 0l12.8 -12.8"/>
</g>
<g fill="none" stroke="#ff0000">
<path stroke-width="5" d="M139.4 558.6V577.6M139.9 558.2V577.7M140.4 558.2V576.8M140.9 557.6V576.6M141.4 557.7V576M141.9 557.6V575.4M142.4 557.3V575.4M142.9 557.1V574.5M143.4 556.6V575.1M143.9 556.8V574.6M144.4 556.9V574.7M144.9 556.3V574.5M145.4 555.6V573.8M145.9 556V573.9M146.4 555.5V573.7M146.9 555.5V573.1M147.4 554.1V573.3M147.9 554.6V572.5M148.4 554.4V572.5M148.9 554.2V572.4M149.4 554V571.8M149.9 554.1V572.1M150.4 553.9V571.3M150.9 553.2V571.6M151.4 553.2V571.3M151.9 554.6V571.1M152.4 553V571.2M152.9 552.2V570.4M153.4 552.3V570M153.9 552.1V570.6M154.4 552.1V569.8M154.9 551.1V569.3M155.4 550.7V569.8M155.9 551V569.1M156.4 551.3V568.9M156.9 550.3V568.6M157.4 551V568M157.9 550.8V567.3M158.4 550V567.1M158.9 550.1V567.7M159.4 549.8V567.3M159.9 549.6V567M160.4 548.7V566.8M160.9 548.9V566.5M161.4 548V566.5M161.9 548.3V566.9M162.4 548.1V566.6M162.9 546.7V566.7M163.4 547.5V565.9M163.9 547V566.3M164.4 546.8V566.5M164.9 547.3V565.6M165.4 547.1V566M165.9 547V566.3M166.4 546.7V565.1M166.9 546.3V565M167.4 546.2V565.2M167.9 546.7V565.1M168.4 546.3V564.9M168.9 546.7V564.6M169.4 546.6V564.1M169.9 545.8V563.6M170.4 546V564.5M170.9 546.4V563.6M171.4 546V563.5M171.9 545.4V563.3M172.4 544.3V563.2M172.9 545.3V563.4M173.4 544.8V563.3M173.9 544.4V562.8M174.4 545.4V562.8M174.9 544.2V562.7M175.4 544.3V561.7M175.9 543.8V562.9M176.4 544.2V562.7M176.9 543.8V561.7M177.4 543.6V561.1M177.9 544V562.1M178.4 543.5V561.9M178.9 543.6V561.7M179.4 542.9V561.2M179.9 543.2V562M180.4 543.1V561.2M180.9 542.6V561.4M181.4 543V561.2M181.9 542.8V560.9M182.4 542.5V561.2M182.9 542.6V560.3M183.4 542.5V561M183.9 542.7V560.6M184.4 541.9V560.2M184.9 541.7V560.4M185.4 542.3V560.1M185.9 542.1V559.9M186.4 541.7V559.6M186.9 541.7V559.1M187.4 540.8V559.9M187.9 541.2V559.4M188.4 540.3V559.7M188.9 540.8V558.9M189.4 540.8V559.1M189.9 540.3V559.1M190.4 540.6V558.6M190.9 540.1V558.3M191.4 540.4V557.5M191.9 539.6V558.1M192.4 540.3V558.8M192.9 539.7V557.6M193.4 539.5V557.2M193.9 539.1V557.5M194.4 538.8V557.1M194.9 539V557.5M195.4 538.7V557.1M195.9 538.5V557.6M196.4 539.2V556.6M196.9 539.4V557.4M197.4 538.4V556.2M197.9 538.5V556M198.4 538.1V556.8M198.9 538.3V556.1M199.4 538.2V556.4M199.9 537.8V556M200.4 537.5V555.1M200.9 537.6V555.2M201.4 537.2V555.4M201.9 537.2V555.7M202.4 537V555.1M202.9 536.8V555.2M203.4 537V555.9M203.9 536.6V555.1M204.4 536.7V554.8M204.9 536.1V555M205.4 536.6V553.9M205.9 535.5V554.4M206.4 535.9V554.6M206.9 536.4V554.1M207.4 536V553.5M207.9 535.5V554.4M208.4 535.2V553.4M208.9 535.7V553.4M209.4 535.6V553.2M209.9 535V553.4M210.4 535.2V553.7M210.9 535.6V552.7M211.4 535.2V552.8M211.9 534.6V552.3M212.4 535.2V552.5M212.9 535.6V551.9M213.4 534.9V552.1M213.9 534.3V552.4M214.4 534.3V551.4M214.9 534V551.9M215.4 533.9V551.5M215.9 533.4V550.8M216.4 533.2V551.6M216.9 533.4V551.7M217.4 533.8V551.2M217.9 534.1V551.5M218.4 533.6V551.4M218.9 533.1V551M219.4 532.9V550.7M219.9 533V550.6M220.4 532.3V550.9M220.9 532.1V550.6M221.4 532.2V550.5M221.9 532.3V550.3M222.4 532V549.1M222.9 531.6V549.6M223.4 531.5V549.9M223.9 532V549.9M224.4 532.3V550M224.9 531.7V549.2M225.4 531.8V549.1M225.9 532.1V549.5M226.4 531.2V549M226.9 532.1V548.9M227.4 531.2V548.9M227.9 531.5V549M228.4 530.7V549.3M228.9 531.4V549M229.4 531.3V548.5M229.9 530V548.4M230.4 531.1V548.3M230.9 531.4V548.7M231.4 530.4V548.8M231.9 530.8V548.9M232.4 530.4V547.9M232.9 530.4V548.1M233.4 530.5V547.8M233.9 530.9V548.4M234.4 530.3V547.8M234.9 530V547.8M235.4 529.9V547.6M235.9 529.3V547.2M236.4 530.2V547.4M236.9 529.1V547M237.4 529.4V547.2M237.9 529.3V547.2M238.4 529.4V547.4M238.9 529V547.4M239.4 530.1V547.1M239.9 529.2V547M240.4 529.6V547.5M240.9 528.7V546.3M241.4 529.1V546.7M241.9 529.4V546.7M242.4 528.6V547.2M242.9 528.9V546.3M243.4 528.8V546.3M243.9 529.2V546.3M244.4 528.3V545.7M244.9 528.3V545.8M245.4 527.9V546.1M245.9 527.9V545.5M246.4 528.1V544.9M246.9 528V545.9M247.4 527.4V545.2M247.9 528.2V545.5M248.4 528.1V545.3M248.9 527.3V545.7M249.4 527.1V545.2M249.9 528.2V545.1M250.4 527.6V544.9M250.9 527.2V545.1M251.4 527.1V544.4M251.9 527V544.5M252.4 526.9V544.8M252.9 526.9V544.4M253.4 526.5V545M253.9 527.1V544.2M254.4 526.6V544M254.9 527V544.1M255.4 526.2V544.3M255.9 526.7V543.7M256.4 526.4V543.8M256.9 525.9V544M257.4 526V543.9M257.9 525.8V543.3M258.4 525.8V543.2M258.9 526.2V543.4M259.4 526.3V543.6M259.9 525.3V542.9M260.4 525.8V543.2M260.9 525.2V542.8M261.4 526.4V543.8M261.9 525.4V542.7M262.4 525.5V542.5M262.9 525.3V542.8M263.4 525.3V542.4M263.9 524.4V542.3M264.4 524.9V541.8M264.9 525.2V542.1M265.4 524.6V542.6M265.9 524.1V541.8M266.4 525.1V541.3M266.9 524.6V541.7M267.4 524.2V541.4M267.9 524.3V541.3M268.4 524.4V541.3M268.9 523.4V541.5M269.4 524V541.4M269.9 524V541.5M270.4 524.3V541.5M270.9 524V541.8M271.4 523V541.6M271.9 523V540.5M272.4 523.1V540.5M272.9 523.1V540.3M273.4 523.1V540.5M273.9 522.4V540.4M274.4 522.7V538.9M274.9 522.7V539.7M275.4 522.6V539.6M275.9 523.5V539.9M276.4 522.9V539.2M276.9 522.6V540M277.4 522.8V539.1M277.9 522.6V539.4M278.4 522.3V539M278.9 522.2V538.6M279.4 521.3V539.3M279.9 522.7V540.1M280.4 521.7V540.1M280.9 521.8V539.1M281.4 522V538.9M281.9 522.3V539M282.4 521.6V538.9M282.9 521.3V539.1M283.4 521.5V539.3M283.9 521V538.9M284.4 521V538.9M284.9 521.7V538.6M285.4 521V538.5M285.9 521.6V538.9M286.4 521.5V538.8M286.9 521.1V538.6M287.4 520.9V538.5M287.9 521.2V538.3M288.4 520.4V538.1M288.9 520.9V538.8M289.4 521.1V538.1M289.9 520.8V537.5M290.4 520.7V538.3M290.9 520.4V538.1M291.4 520.2V538M291.9 520.5V538M292.4 519.9V537.1M292.9 519.7V537.5M293.4 520V537.4M293.9 520.2V538M294.4 520.4V537.7M294.9 520V537.2M295.4 519.7V536.7M295.9 520V537.1M296.4 519.8V537.3M296.9 519.9V537.7M297.4 519.4V537.4M297.9 519.6V537.6M298.4 519.9V537.4M298.9 519.6V536.9M299.4 518.9V537.2M299.9 519.1V537M300.4 519.8V536.8M300.9 519.3V536.9M301.4 519.6V536.9M301.9 519.2V536.5M302.4 519.2V536.5M302.9 519.7V537.5M303.4 519.7V536.8M303.9 519V535.9M304.4 519.3V536.2M304.9 519.3V536.6M305.4 519.1V536.1M305.9 519.5V535.8M306.4 519.6V536.3M306.9 518.8V535.8M307.4 518.6V536.5M307.9 518.8V535.8M308.4 518.7V535.6M308.9 518.5V536.1M309.4 518.7V535.7M309.9 518.3V535.5M310.4 518.3V535.8M310.9 518V535.7M311.4 518V535.8M311.9 518.4V536.2M312.4 518.6V535.2M312.9 517.8V535.6M313.4 518.5V535.8M313.9 517.9V535M314.4 518V535.5M314.9 517.7V535.3M315.4 517.7V534.6M315.9 517.6V534.5M316.4 517.8V535.4M316.9 517.5V535.4M317.4 517.6V534.9M317.9 517.6V534.7M318.4 517.1V534.5M318.9 517.1V534.8M319.4 516.9V534.2M319.9 517.2V535M320.4 517.3V535.1M320.9 517.4V534.3M321.4 516.8V534.1M321.9 517V534.8M322.4 517V534.9M322.9 516.9V534.3M323.4 516.6V533.9M323.9 516V535M324.4 516.6V534.1M324.9 516.9V533.5M325.4 516.5V534.1M325.9 516.4V533.6M326.4 515.9V533.5M326.9 515.4V533.2M327.4 516.1V533.8M327.9 516V533.7M328.4 516.4V533.9M328.9 516.5V533.6M329.4 516.4V532.5M329.9 515.6V533.6M330.4 515.8V532.7M330.9 515.5V534.1M331.4 515.5V532.9M331.9 516V532.9M332.4 515.2V533M332.9 516.1V532.6M333.4 516.3V532.4M333.9 516.1V533.2M334.4 516.4V532.9M334.9 515.6V532.4M335.4 515.6V532.7M335.9 515.7V532.5M336.4 515.1V532M336.9 515.5V533.2M337.4 514.9V533.3M337.9 514.9V532.7M338.4 514.9V532.2M338.9 515V532.8M339.4 514.7V532.8M339.9 514.9V531.9M340.4 514.6V532.5M340.9 514.4V532.3M341.4 515V532.6M341.9 514.6V532.4M342.4 514.7V533.1M342.9 514.3V532.4M343.4 515.3V532.3M343.9 514.1V531.8M344.4 514.2V531.7M344.9 514.3V532.3M345.4 515.2V531.6M345.9 514.6V531.5M346.4 514.1V531.7M346.9 514.4V531.5M347.4 513.7V531.7M347.9 514.4V531.3M348.4 514V531.8M348.9 514.5V530.9M349.4 513.9V531.2M349.9 513.5V531.3M350.4 513.8V530.7M350.9 513.5V531.3M351.4 513.2V530.5M351.9 514.2V529.6M352.4 513.3V531.2M352.9 513.3V530.8M353.4 513.7V531.2M353.9 513.2V530.4M354.4 513.2V530.4M354.9 513.7V530M355.4 512.9V530.8M355.9 513V530.7M356.4 512.9V530.5M356.9 512.5V529.7M357.4 512.8V530.8M357.9 513.3V530M358.4 512V529.7M358.9 512.7V529.6M359.4 512.7V529.7M359.9 512.7V530M360.4 512.1V529.5M360.9 512V530.5M361.4 512.4V529.4M361.9 512.2V529.7M362.4 511.9V529.3M362.9 512.4V529.4M363.4 511.7V529.4M363.9 512.6V529.7M364.4 512.2V529.4M364.9 512.1V529.5M365.4 511.9V528.9M365.9 512V529.2M366.4 511.6V528.8M366.9 512.7V528.7M367.4 511.7V528.6M367.9 512V528.2M368.4 511.7V528.9M368.9 511.7V528.1M369.4 512V528.3M369.9 511.8V528.7M370.4 511.5V528.5M370.9 511.4V528.8M371.4 511.1V528.6M371.9 511.5V528.6M372.4 510.4V528M372.9 511.4V528.8M373.4 511.3V528.3M373.9 511V528.3M374.4 511.5V528.3M374.9 510.8V528.1M375.4 511.2V528.4M375.9 510.7V527.7M376.4 511.1V528.2M376.9 511.3V527.7M377.4 510.4V528.3M377.9 510.3V528.5M378.4 510.8V528.4M378.9 510.5V528.6M379.4 510.8V528.4M379.9 510.7V527.7M380.4 509.9V527.7M380.9 511.4V527.5M381.4 510.1V527.8M381.9 510.2V527.3M382.4 509.6V527.3M382.9 510.3V527.7M383.4 510.6V527.1M383.9 510.4V527M384.4 510.3V527.2M384.9 509.4V526.6M385.4 510.6V526.8M385.9 509.6V526.7M386.4 509.5V526.3M386.9 510.6V526.5M387.4 510V526.1M387.9 509.7V527.1M388.4 509.6V526.6M388.9 510.4V526.3M389.4 510V526.6M389.9 510.3V526.6M390.4 509.4V526M390.9 509.4V526.1M391.4 509.3V525.9M391.9 509.8V526M392.4 510V525.9M392.9 510V526.2M393.4 509.5V525.2M393.9 509.3V525.1M394.4 509.1V525.7M394.9 510.1V526.3M395.4 509V525.8M395.9 508.9V525.7M396.4 509V525.8M396.9 510V525.6M397.4 508.8V525.8M397.9 508.5V525.2M398.4 509.3V525.7M398.9 508.4V525.2M399.4 509V525.7M399.9 508.7V524.9M400.4 508.3V525.4M400.9 508.8V524.9M401.4 508.9V525.2M401.9 508.4V525.2M402.4 507.8V524.8M402.9 509V525.1M403.4 508.4V525.8M403.9 507.9V524.6M404.4 508.6V525.4M404.9 508.2V524.4M405.4 508V524.8M405.9 508V524.9M406.4 508.3V525.5M406.9 508V524.3M407.4 507.9V524.4M407.9 508.3V524.9M408.4 508V525M408.9 508.5V524.7M409.4 507.3V524.5M409.9 507.7V524.3M410.4 507.4V524.7M410.9 508.6V524.3M411.4 507.9V524.7M411.9 508V524.5M412.4 508.2V524.4M412.9 507.2V523.6M413.4 508.1V524.2M413.9 508.2V524M414.4 507.2V524.9M414.9 507.5V524.1M415.4 507.4V523.8M415.9 508V524.5M416.4 507.5V524.7M416.9 507.6V524.2M417.4 507.4V523.8M417.9 507.8V523.5M418.4 506.9V523.7M418.9 507V523.5M419.4 507.2V523.6M419.9 507V523.9M420.4 507.4V523.1M420.9 506.3V523.6M421.4 506.7V524M421.9 507.4V523.8M422.4 506.9V523.6M422.9 506.6V523.1M423.4 506.9V523.3M423.9 506.8V522.8M424.4 507V522.5M424.9 506.4V523M425.4 506.6V523.1M425.9 506.1V522.9M426.4 506.2V522.5M426.9 506.4V522.7M427.4 506V522.4M427.9 506.6V523.6M428.4 506V523M428.9 506.1V522.2M429.4 506.5V522.9M429.9 506.4V522.3M430.4 507V522.9M430.9 506.4V522.2M431.4 505.9V522.4M431.9 506.4V522.2M432.4 505.8V522.4M432.9 506V522.4M433.4 506.5V523.1M433.9 505.6V522.5M434.4 506.4V522.3M434.9 505.6V522.3M435.4 506V522.3M435.9 506.1V522.1M436.4 506V522.1M436.9 506.1V521.9M437.4 506V522.4M437.9 505.9V521.8M438.4 506.1V522.7M438.9 506.2V522.7M439.4 505.9V522.5M439.9 505.8V522.7M440.4 505.3V521.9M440.9 506.4V522.1M441.4 505.7V522.4M441.9 505.7V522.3M442.4 505.1V522.8M442.9 505.3V522.4M443.4 505.7V521.8M443.9 505.6V522.2M444.4 505.5V521.8M444.9 505V521.7M445.4 504.9V521.7M445.9 505.2V521.4M446.4 505V522.1M446.9 505.5V521.2M447.4 505.6V521.9M447.9 504.9V521.8M448.4 505.3V521.5M448.9 504.4V521.4M449.4 505.4V521.7M449.9 504.8V521.5M450.4 505.1V521.2M450.9 505.5V521.7M451.4 505.3V521.9M451.9 504.5V520.7M452.4 505.1V520.9M452.9 504.9V521.1M453.4 505.5V521.4M453.9 504.9V521M454.4 505.2V522.1M454.9 504.2V521.3M455.4 504.5V521.7M455.9 505.3V521.4M456.4 505V520.6M456.9 504.3V520.7M457.4 504.8V520.9M457.9 505V521.1M458.4 505.1V521.5M458.9 503.8V521.2M459.4 504.3V521M459.9 504.1V521M460.4 503.8V521M460.9 504.3V520.5M461.4 504.1V520.1M461.9 503.7V520.5M462.4 504.2V520.6M462.9 503.3V520.7M463.4 504.1V520.7M463.9 503.6V520.9M464.4 503.8V520.1M464.9 503.4V520.6M465.4 503.9V520.2M465.9 503.7V520.2M466.4 503.9V520.9M466.9 503.3V520.1M467.4 503.6V520.6M467.9 504V520.1M468.4 503.4V520.7M468.9 504.1V520M469.4 504.2V520.2M469.9 503.7V520.6M470.4 503.5V520.3M470.9 502.9V520.4M471.4 503.5V520.5M471.9 503.6V520.1M472.4 503.2V520.1M472.9 503.4V520.4M473.4 503.9V520.2M473.9 503.1V520.5M474.4 503.2V520.3M474.9 503.3V519.4M475.4 502.8V520M475.9 502.7V519.6M476.4 503.4V519.3M476.9 503.2V520.1M477.4 503V519.5M477.9 502.5V519.4M478.4 504.1V519.7M478.9 503.1V519.4M479.4 504.1V519.4M479.9 502.7V519.1M480.4 503V519.4M480.9 502.8V519.6M481.4 503.2V519.4M481.9 503.1V519M482.4 502.8V519.4M482.9 502.8V518.7M483.4 502.8V518.8M483.9 503V519.2M484.4 502.9V519M484.9 502.8V518.6M485.4 503.1V519.4M485.9 502.9V519.1M486.4 503.1V519.3M486.9 502.9V518.5M487.4 502.8V518.6M487.9 502.8V518.6M488.4 502.5V518.6M488.9 502V519.2M489.4 502V518.7M489.9 502.4V519.2M490.4 502.9V518.4M490.9 502.4V518.6M491.4 502.4V518.3M491.9 502.1V518.3M492.4 502.2V519.4M492.9 502.5V518.9M493.4 502V518.3M493.9 502.7V518.3M494.4 502.2V518.8M494.9 503.1V518.7M495.4 502.3V518.8M495.9 502.4V518.1M496.4 501.7V518.1M496.9 502.3V518.2M497.4 502.7V518.1M497.9 502.2V518.1M498.4 502.1V518.1M498.9 501.8V517.8M499.4 501.2V517.7M499.9 501.4V518.2M500.4 501.7V517.8M500.9 501.6V517.6M501.4 501.7V517.7M501.9 501.4V517.7M502.4 501.7V517.9M502.9 500.9V517M503.4 501.1V517.8M503.9 501.3V517.4M504.4 501.9V517.7M504.9 500.8V517.6M505.4 501.4V518.1M505.9 501.2V517.2M506.4 501V517.9M506.9 500.9V518.4M507.4 501.2V517.7M507.9 501.3V517.6M508.4 501.4V518M508.9 500.7V517.2M509.4 501.4V517.2M509.9 501.4V517.9M510.4 501.2V517.8M510.9 500.7V516.9M511.4 501.3V516.3M511.9 501.4V517.2M512.4 500.6V517.1M512.9 501.1V517M513.4 500.4V517.5M513.9 501.6V517.4M514.4 500.9V517.3M514.9 500.3V516.6M515.4 500.6V517M515.9 500.6V517.4M516.4 500.6V517.5M516.9 501V517.3M517.4 501.3V517.2M517.9 500.7V517.7M518.4 501V517.3M518.9 501.1V517.9M519.4 501.2V517.3M519.9 500.8V517.1M520.4 500.6V517.1M520.9 500.4V517.2M521.4 500.9V516.7M521.9 500.6V516.9M522.4 501V517.4M522.9 500.9V516.4M523.4 500.4V516.8M523.9 501V516.5M524.4 501.1V516.1M524.9 500.4V516.4M525.4 500.6V516.9M525.9 500.3V516.9M526.4 500.5V516.5M526.9 500.4V516.2M527.4 500.6V516.9M527.9 500.8V516M528.4 500.6V516.3M528.9 500.2V515.9M529.4 500.1V515.8M529.9 500.1V516.3M530.4 500.2V516.2M530.9 501.3V516.6M531.4 499.9V515.9M531.9 499.8V515.9M532.4 500.1V516.2M532.9 500.2V516.6M533.4 500.6V516.6M533.9 499.6V515.7M534.4 499.1V516M534.9 499.8V516.5M535.4 499.7V516.3M535.9 499.9V515.8M536.4 499.8V516.7M536.9 500V515.7M537.4 499.5V515.8M537.9 499.4V516M538.4 499.7V516.3M538.9 499.4V515.7M539.4 499.8V516M539.9 499.4V515.5M540.4 499.7V516.1M540.9 499.1V516.1M541.4 499.2V515M541.9 499V515.8M542.4 499.5V515.2M542.9 500.4V515.7M543.4 499.5V515.1M543.9 499.3V515.6M544.4 499.2V515.8M544.9 498.3V515.7M545.4 499V515.5M545.9 499.6V515.4M546.4 498.7V515.5M546.9 498.8V515.1M547.4 498.2V515M547.9 498.9V515.8M548.4 498.4V514.8M548.9 499V514.6M549.4 498.8V515.2M549.9 498.6V515.3M550.4 498.5V515.1M550.9 499V515.3M551.4 498.3V515.2M551.9 498.3V515.4M552.4 498.6V514.5M552.9 498.6V515.2M553.4 498.6V514.9M553.9 498.9V514.8M554.4 498V514.1M554.9 498.5V514.4M555.4 497.4V514.7M555.9 498V514.9M556.4 499V514.4M556.9 497.4V514.5M557.4 498.3V514.8M557.9 498.4V514.6M558.4 497.7V514.7M558.9 498.6V514.5M559.4 498.8V514.4M559.9 497.4V514.4M560.4 497.8V514.7M560.9 498.3V514.1M561.4 497.9V513.7M561.9 497.9V513.9M562.4 497.2V514.8M562.9 496.9V514.1M563.4 497V514.5M563.9 497.8V514.5M564.4 497.8V514.5M564.9 497.6V513.8M565.4 498.4V513.9M565.9 497V513.7M566.4 497.6V513.3M566.9 496.9V514.1M567.4 497.5V514.4M567.9 497.4V514.2M568.4 497.6V513.8M568.9 497.3V514M569.4 496.6V513.7M569.9 497.3V513.9M570.4 497.4V513.6M570.9 497.2V513.2M571.4 497.1V513.4M571.9 497.9V513.4M572.4 497.5V513.6M572.9 497V514M573.4 497.6V513.9M573.9 497V513.2M574.4 496.9V513.7M574.9 496.8V513.3M575.4 497.1V513.4M575.9 497.2V513.3M576.4 496.6V513.3M576.9 496.9V513M577.4 496.7V513.4M577.9 497.1V513.1M578.4 496.5V513.6M578.9 496.7V513.2M579.4 496.9V512.8M579.9 496.5V513.3M580.4 496.4V512.8M580.9 496.5V513.6M581.4 496.5V512.8M581.9 496.4V513.4M582.4 496.6V512.2M582.9 496.4V513.3M583.4 496.4V512.7M583.9 497V513.3M584.4 496.3V512.9M584.9 496.3V512.9M585.4 496V513M585.9 495.9V512.4M586.4 496V512.7M586.9 495.5V512.4M587.4 495.9V512.5M587.9 495.8V512.5M588.4 496.1V512.9M588.9 495.8V512.8M589.4 496.4V512.4M589.9 495.5V512.4M590.4 495.9V512.6M590.9 495.6V512.3M591.4 495.5V512.2M591.9 496V512.4M592.4 495.8V512.3M592.9 495.9V512.3M593.4 496.1V512.7M593.9 495.1V511.7M594.4 495.8V512M594.9 496V512M595.4 495.4V512.2M595.9 495.5V512.4M596.4 495.6V511.6M596.9 495V512.3M597.4 495.3V511.8M597.9 495.8V511.6M598.4 495.6V511.7M598.9 495.7V511.7M599.4 495V512.1M599.9 495.7V511.5M600.4 494.7V511.2M600.9 495V511.2M601.4 495.1V511.3M601.9 495.3V511.6M602.4 495.3V511.7M602.9 494.8V511.5M603.4 495.3V511.6M603.9 494.8V510.7M604.4 494.9V511.2M604.9 495.4V511.3M605.4 495.4V511.3M605.9 495V510.8M606.4 495V510.9M606.9 495.7V511.7M607.4 495.6V510.3M607.9 494.9V511.3M608.4 495.3V511M608.9 495.4V511M609.4 495.2V511.1M609.9 495V511.6M610.4 494.5V511M610.9 494.7V510.4M611.4 494.6V511.2M611.9 494.6V510.9M612.4 494.8V510.9M612.9 494.7V510.9M613.4 494.6V511.3M613.9 494.4V511.4M614.4 495V510.9M614.9 494.4V510.2M615.4 494.5V510M615.9 494V510.4M616.4 494.7V510.3M616.9 494.4V510.1"/>
<path stroke-width="6" d="M135.9 560.8V578.6M136.4 560.5V578.2M136.9 559.6V578.5M137.4 559.7V577.7M137.9 559.1V577.5M138.4 558.5V577.1M138.9 559.7V577.9"/>
<path stroke-width="7" d="M132.4 562.7V580.6M132.9 562.1V580M133.4 561.5V580.2M133.9 561.7V580.3M134.4 561V580.1M134.9 561.4V579.2M135.4 560.5V578.8"/>
<path stroke-width="8" d="M128.9 565V582.6M129.4 564V582.6M129.9 564V582.2M130.4 563.8V581.1M130.9 563.5V581.4M131.4 562.5V582M131.9 563.7V580.5"/>
<path stroke-width="9" d="M125.4 566.7V585.3M125.9 566.8V584.8M126.4 566.6V584.5M126.9 565.7V583.4M127.4 565.2V583.3M127.9 565.7V583.1M128.4 565.6V582.7"/>
<path stroke-width="10" d="M121.9 570.2V587.2M122.4 568.9V586.7M122.9 569.5V586.2M123.4 568.9V585.7M123.9 568.4V585.8M124.4 568.9V585.6M124.9 568.8V585"/>
<path stroke-width="11" d="M118.4 572.7V590.2M118.9 572.7V589.1M119.4 572.6V589.1M119.9 571.6V588.5M120.4 571.2V588.4M120.9 571.6V587.3M121.4 571V587.6"/>
<path stroke-width="12" d="M114.9 577.1V592.8M115.4 575.9V592.5M115.9 575.3V591.7M116.4 575V591.2M116.9 574.5V590.6M117.4 573.9V590.2M117.9 573.8V589.6"/>
<path stroke-width="13" d="M95.2 703.1V710.6M95.4 693.4V702.9M95.6 685.2V696.6M95.8 677.2V690.6M95.9 669.9V685.4M96.1 663.6V679.6M96.3 657.6V673.6M96.5 651.6V667.6M96.6 645.6V661.6M96.8 639.7V655.6M97 634.2V649.4M97.2 628.9V643M97.3 623.7V636.8M97.5 618.4V630.4M97.7 613V624.3M97.9 611.2V622.3M98 610.5V622.4M98.2 610.4V622M98.4 609.4V622.1M98.6 609.2V622.1M98.8 608.5V622.1M98.9 607.8V621.6M99.1 607.5V621.4M99.3 607.1V621.2M99.5 606.4V621.5M99.6 606.5V621M99.8 606.3V620.5M100 605.7V620.6M100.2 604.9V620.5M100.3 604.7V620.2M100.5 604.6V620.7M100.7 603.9V620.4M100.9 603V620.3M101 603.1V620.2M101.2 602.5V619.7M101.4 602.1V619.6M101.6 601.2V619.6M101.7 600.9V618.4M101.9 600.4V618.4M102.1 599.6V617M102.3 599.7V617.2M102.5 599.3V616.4M102.6 598.2V615.6M102.8 598.6V614.5M103 598V613.5M103.2 597.9V613.4M103.3 596.3V612.6M103.5 595.7V612.2M103.7 595.6V611.3M103.9 595.4V611.3M104 594.9V610.5M104.2 594.4V610.2M104.4 594.4V609M104.6 593.7V609.4M104.7 593.1V608.7M104.9 592.5V608.7M105.1 591.8V607.3M105.3 591.3V607.7M105.4 591.4V607.5M105.6 590.4V606.7M105.8 590.5V606.5M106 589.2V606.3M106.2 589.2V605.4M106.3 589.1V605.2M106.5 589.1V605.1M106.7 588.3V604.2M106.9 588V605M107 587.3V603.9M107.2 587.1V603.5M107.4 587.4V602.9M107.6 587.2V603.2M107.7 587.5V602.3M107.9 585.8V602.4M108.1 585.6V601.7M108.3 586.9V601.4M108.4 585.6V600.7M108.6 585.8V600.4M108.8 585.8V600.1M109 584.5V600M109.1 584.9V599.6M109.3 584.2V599M109.5 584.1V598.8M109.7 584.3V598.2M109.9 583.9V597.6M110 582.9V598M110.2 582.7V597.2M110.4 582.6V597.1M110.6 582.9V597.3M110.7 582.2V596.8M110.9 581.9V596M111.1 581.8V596.5M111.3 581.3V596.2M111.4 581.1V596.8M111.6 580.9V595.7M111.8 580.4V595.5M112 580.5V595.4M112.1 580.4V595.3M112.3 579.7V594.8M112.5 580V594.9M112.7 580.2V594.4M112.8 579.5V594.2M113 578.7V594.3M113.2 578.7V593.9M113.4 578.4V594M113.6 578.6V593.8M113.7 578.2V592.8M113.9 578.8V593.1M114.4 577.7V593.2M617.4 494.3V510.2M617.9 495.2V510.5M618.4 494.7V510.4M618.9 494.7V510.1M619.4 494.6V509.7M619.9 494.8V509.6M620.4 493.9V510M620.9 494.2V509.8M621.4 494.3V510.5M621.9 494.1V510M622.4 494.2V510.4M622.9 494.5V510.2M623.4 495.7V510.4M623.9 494.3V509.8"/>
<path stroke-width="1.6" d="M114.4 572.1V601.8M114.9 571.3V600.3M115.4 571.3V599.7M115.9 571.2V598.6M116.4 571.3V597.6M116.9 570.6V597M117.4 569.4V596.4M117.9 569.5V596.4M118.4 569.5V595M118.9 568.7V594.5M119.4 568.4V593.8M119.9 568.6V593.2M120.4 568.8V593.1M120.9 567.3V592.9M121.4 567.1V591.9M121.9 567.1V591.2M122.4 566.1V590.7M122.9 565.6V590.4M123.4 565.7V589.8M123.9 565.6V589.7M124.4 565.7V588.6M124.9 565.4V588.8M125.4 565.1V588.3M125.9 563.9V588.7M126.4 564.3V587.3M126.9 564.1V587M127.4 563.8V586.1M127.9 562.9V585.8M128.4 562.9V585.5M128.9 562.5V585.4M129.4 562.6V584.8M129.9 561.9V584.8M130.4 562V584.8M130.9 561.5V583.2M131.4 561.4V582.7M131.9 561V582.5M132.4 560.7V582.7M132.9 561V583M133.4 561V582.6M133.9 559.8V582.1M134.4 560.1V582.1M134.9 559.5V582.5M135.4 558.7V582.3M135.9 559.1V581.2M136.4 559V580.6M136.9 559.1V580.2M137.4 558.6V580.1M137.9 558.5V579.7M138.4 558V578.9M138.9 558V578.8M139.4 557.9V578.4M139.9 557.7V578.1M140.4 557.7V577.3M140.9 556.9V577.5M141.4 557.1V577.4M141.9 556.8V577.4M142.4 556.7V577.8M142.9 556.1V576.9M143.4 556.1V576.6M143.9 555.7V575.6M144.4 555.8V575.1M144.9 554.4V575.1M145.4 554.7V574.7M145.9 554.3V575.3M146.4 554.5V574.4M146.9 553.8V574.4M147.4 554V574M147.9 553.8V573.4M148.4 553.8V573.5M148.9 553.3V573.3M149.4 553.8V572.9M149.9 553.4V572.9M150.4 552.6V572.1M150.9 552.6V572.3M151.4 552.3V572.3M151.9 552.6V571.8M152.4 551.5V571.7M152.9 550.8V571.1M153.4 550.5V571.7M153.9 550.7V571.4M154.4 549.8V571.3M154.9 550.1V571M155.4 550.4V570.6M155.9 550.4V570.3M156.4 550.4V570.3M156.9 550.3V569.8M157.4 550.2V569.7M157.9 549.3V569.8M158.4 549.3V568.9M158.9 548.5V568.6M159.4 548.4V568M159.9 548.2V567.4M160.4 547.2V567.2M160.9 547V567.3M161.4 546.9V567.3M161.9 547.2V566.9M162.4 547.2V566.4M162.9 546.6V566.4M163.4 547.1V566.5M163.9 547.2V566.6M164.4 546.8V566.3M164.9 546.8V566.2M165.4 546.2V566.5M165.9 546.6V566.2M166.4 546.7V566.4M166.9 546.5V565.9M167.4 545.9V565.8M167.9 545.9V565.9M168.4 545.7V566.1M168.9 546.3V564.6M169.4 545.9V564.8M169.9 544.7V564.6M170.4 544.9V564.5M170.9 544.7V564.3M171.4 544.8V564.1M171.9 544.8V564.1M172.4 544.6V563.9M172.9 544.8V564.2M173.4 544.3V563.1M173.9 544.2V563.2M174.4 544.2V563M174.9 544V563M175.4 543.7V562.9M175.9 543.8V562.9M176.4 543.5V562.8M176.9 543.1V563.1M177.4 543.2V562.6M177.9 543.2V562.3M178.4 543.1V562.3M178.9 543.2V562.2M179.4 543.2V562M179.9 543V561.8M180.4 543.1V561.6M180.9 542.9V561.4M181.4 542.7V561.5M181.9 542V561.5M182.4 542V561.5M182.9 541.5V561M183.4 541.7V561M183.9 541.7V561.2M184.4 542V560.6M184.9 541V560.6M185.4 541.2V560.6M185.9 540.8V560.7M186.4 540.8V560.3M186.9 540.3V560.2M187.4 540.8V560.3M187.9 540.6V559.7M188.4 540.4V559.8M188.9 540.6V559.7M189.4 539.9V559.8M189.9 539.8V559.6M190.4 539.6V559.6M190.9 539.9V559.9M191.4 539.3V559.3M191.9 539.2V558.8M192.4 539.2V558.9M192.9 539.2V558.3M193.4 538.8V558.5M193.9 538.9V558.5M194.4 539V558.4M194.9 538.7V558.3M195.4 538.8V557.1M195.9 538.1V557.5M196.4 537.8V557.3M196.9 538.2V557.2M197.4 538.1V557.5M197.9 537.9V557.3M198.4 538V557.2M198.9 537.6V556.9M199.4 537.5V557M199.9 537.1V556.4M200.4 536.8V556.5M200.9 537.2V556.3M201.4 537.1V555.9M201.9 537V555.9M202.4 536.4V555.5M202.9 536.6V555.4M203.4 535.7V555.6M203.9 535.6V555.6M204.4 536V555.6M204.9 536.1V555.4M205.4 535.8V555.4M205.9 535.8V555.4M206.4 535.5V554.7M206.9 535.3V554.9M207.4 535.4V554.6M207.9 535.4V554M208.4 535.4V554.1M208.9 535.2V554.6M209.4 535.1V554.7M209.9 535.1V554.5M210.4 534.9V554M210.9 535.1V553.2M211.4 534.2V553.3M211.9 534.6V553.2M212.4 534.1V553.3M212.9 534.3V553.2M213.4 533.8V552.3M213.9 533.2V552.4M214.4 533.6V552.1M214.9 533.6V551.9M215.4 533.4V552.3M215.9 533.5V552.6M216.4 533.2V552.6M216.9 533.1V551.6M217.4 533V551.5M217.9 532.1V551.4M218.4 532.4V551.3M218.9 532.3V551.1M219.4 532.6V551.8M219.9 532.4V551.4M220.4 532V551.9M220.9 531.5V551M221.4 532.1V550.4M221.9 531.9V550.5M222.4 531.9V550.5M222.9 531.8V550.8M223.4 531.7V550.1M223.9 531.5V549.9M224.4 531.6V549.7M224.9 531.8V549.7M225.4 531.6V549.6M225.9 531.1V549.6M226.4 530.8V550.4M226.9 530.8V550.1M227.4 530.4V549.3M227.9 530.1V549.5M228.4 530V548.9M228.9 530.5V548.7M229.4 530.5V549M229.9 530V548.9M230.4 530.2V548.8M230.9 530.2V549M231.4 530.5V548.6M231.9 530.6V548.3M232.4 530.4V548.4M232.9 530.4V548.4M233.4 529.8V548.4M233.9 529.7V548.4M234.4 529.3V548.3M234.9 529.6V548.1M235.4 529.5V547.8M235.9 529.5V548M236.4 529.2V548M236.9 529.2V547.4M237.4 529.2V547.3M237.9 529.3V547.1M238.4 528.8V547.1M238.9 528.8V547M239.4 529V547M239.9 528.9V547M240.4 529.1V546.9M240.9 529.1V546.9M241.4 529V547M241.9 528.6V547.1M242.4 528.7V547.1M242.9 528.5V547.2M243.4 528.3V546.6M243.9 527.8V546.9M244.4 528.3V546.9M244.9 527.8V547M245.4 527.8V546.7M245.9 527.8V546.5M246.4 527.9V546.5M246.9 527.7V546.5M247.4 527.4V545.9M247.9 527.6V545.8M248.4 527.6V545.4M248.9 527.4V545.3M249.4 527.5V545.3M249.9 527.3V545.2M250.4 527.3V545.3M250.9 527.1V545.5M251.4 527V545.4M251.9 527V544.7M252.4 527V545.1M252.9 526.8V544.8M253.4 526.4V545.2M253.9 526.5V545.1M254.4 526.3V544.8M254.9 526.4V544.5M255.4 526V544.5M255.9 526.2V544.8M256.4 526.2V544.3M256.9 526.3V543.8M257.4 525.8V543.7M257.9 525.6V544M258.4 525.7V543.7M258.9 525.8V544.1M259.4 525.7V544M259.9 525.5V543.9M260.4 525.5V543.7M260.9 525.5V543.3M261.4 524.4V543.4M261.9 524.7V543.7M262.4 524.9V544M262.9 524.8V543.9M263.4 524.6V543.9M263.9 524.7V543.8M264.4 524.3V542.6M264.9 524.4V542.6M265.4 524.7V542.4M265.9 524.3V542.2M266.4 523.5V542.3M266.9 523.4V542.1M267.4 523.3V542.5M267.9 523.9V542.6M268.4 523.9V541.6M268.9 523.6V541.6M269.4 523.4V541.9M269.9 523.3V541.6M270.4 523.3V541.6M270.9 523.4V541.5M271.4 523V541.2M271.9 522.5V541.3M272.4 522.7V541.4M272.9 522.9V541.2M273.4 522.7V541.4M273.9 522.4V541.1M274.4 522.4V540.2M274.9 522.4V540M275.4 522.5V540M275.9 522.5V540.2M276.4 522.5V539.8M276.9 521.8V539.5M277.4 521.9V539.6M277.9 521.6V539.8M278.4 521.9V539.7M278.9 521.8V539.7M279.4 521.6V539.9M279.9 521.7V539.9M280.4 521.5V539.6M280.9 521.9V539.8M281.4 521.6V539.9M281.9 521.4V540.1M282.4 521.1V540M282.9 521.1V540M283.4 521.1V539.6M283.9 521.2V539.4M284.4 521.2V539.4M284.9 521.4V539.4M285.4 521.4V539.4M285.9 520.9V538.8M286.4 521V538.6M286.9 521V538.7M287.4 520.7V538.5M287.9 520.9V538.5M288.4 520.9V538.5M288.9 520.7V538.4M289.4 520.6V538.6M289.9 520.5V538.7M290.4 520.1V538.9M290.9 520.1V538.4M291.4 519.8V538.5M291.9 520V537.9M292.4 520.2V538.1M292.9 519.7V538.1M293.4 519.8V537.6M293.9 519.9V537.8M294.4 519.8V537.6M294.9 519.5V537.7M295.4 519.9V538M295.9 519.9V537.7M296.4 519.5V537.6M296.9 519V537.2M297.4 519.2V537.2M297.9 519.5V537.1M298.4 519.3V537.2M298.9 519.4V537.5M299.4 519.3V537.1M299.9 519.5V537.3M300.4 519.1V537.8M300.9 519.2V537.4M301.4 519.4V537.2M301.9 519.5V537.3M302.4 519.5V537.4M302.9 519.5V537.5M303.4 519.3V537.1M303.9 519.4V537M304.4 519.2V537.1M304.9 519.1V537.8M305.4 519.1V537.7M305.9 519.2V536.6M306.4 519V536.2M306.9 518.7V536.2M307.4 518.8V536M307.9 518.8V536.2M308.4 518.1V536.2M308.9 518V536M309.4 518.2V536.2M309.9 518.1V536.5M310.4 517.9V536.2M310.9 518.3V536.2M311.4 518V536.3M311.9 518.3V535.6M312.4 518V535.8M312.9 517.7V535.6M313.4 518.2V535.7M313.9 518V536M314.4 517.8V536.3M314.9 517.8V536M315.4 517.7V536M315.9 517.4V535.7M316.4 517.5V535.2M316.9 517.4V535M317.4 517.3V535.2M317.9 517.5V535.3M318.4 517.2V535.6M318.9 517.4V535.4M319.4 517.4V535.2M319.9 516.8V534.6M320.4 516.5V534.5M320.9 516.5V534.6M321.4 516.3V534.8M321.9 516.4V534.7M322.4 516.4V534.8M322.9 516.5V534.6M323.4 516.5V534.8M323.9 516V534.5M324.4 515.5V534.5M324.9 515.3V534.5M325.4 516V534.7M325.9 515.8V534.6M326.4 516V534.7M326.9 515.8V533.7M327.4 515.9V533.5M327.9 516V534.2M328.4 516V534M328.9 515.4V533.9M329.4 516V533.6M329.9 515.8V533.6M330.4 515.7V533.8M330.9 515.6V533.9M331.4 515.2V533.8M331.9 515.2V533.7M332.4 515.3V533.7M332.9 515.5V533.6M333.4 515.5V533.5M333.9 515.6V532.7M334.4 515.6V532.7M334.9 515.1V532.8M335.4 515.3V532.7M335.9 515V532.7M336.4 515.1V532.8M336.9 515.2V532.9M337.4 515.1V533.1M337.9 515.2V533.2M338.4 514.9V532.8M338.9 514.6V532.9M339.4 514.5V532.8M339.9 514.8V532.9M340.4 514.4V533M340.9 514.2V533M341.4 514.4V533M341.9 514.5V533.3M342.4 514.6V533.3M342.9 514.4V532.7M343.4 514.6V532.6M343.9 514.4V532.9M344.4 514.2V532.6M344.9 514.2V532.7M345.4 514.2V531.9M345.9 514.2V532M346.4 514.2V531.7M346.9 513.7V531.9M347.4 513.4V531.9M347.9 513.8V531.6M348.4 513.5V531.5M348.9 513.1V531.6M349.4 513.3V531.5M349.9 513.3V531.5M350.4 513.6V531.4M350.9 513.8V531.2M351.4 513.4V531.2M351.9 513.4V530.9M352.4 513.4V530.9M352.9 513.3V530.9M353.4 513.2V530.7M353.9 513.2V531.1M354.4 513V530.8M354.9 512.9V530.8M355.4 512.7V530.8M355.9 512.3V530.7M356.4 512.5V530.4M356.9 512.3V530.4M357.4 512.4V530.3M357.9 512.3V530.3M358.4 512.2V530.5M358.9 512.5V530.7M359.4 512.5V530.2M359.9 512.5V530.8M360.4 512.5V530.2M360.9 512.1V530.2M361.4 512.2V530.1M361.9 512.1V530M362.4 511.6V530.2M362.9 511.8V530.4M363.4 511.9V530.7M363.9 511.9V529.9M364.4 512.1V529.2M364.9 511.8V529.5M365.4 512.1V529.5M365.9 512.1V529.8M366.4 512.1V529.8M366.9 512.1V529.3M367.4 512.1V528.9M367.9 511.6V528.8M368.4 511.6V528.6M368.9 511.6V528.7M369.4 511.6V528.9M369.9 510.9V528.3M370.4 511V528.6M370.9 510.8V528.3M371.4 510.9V528.6M371.9 510.6V528.2M372.4 510.4V528.5M372.9 510.4V528.3M373.4 511V528.3M373.9 510.9V528.5M374.4 511V528.4M374.9 510.6V528.3M375.4 510.5V528.3M375.9 510.7V528.2M376.4 510.8V528.5M376.9 510.4V528.4M377.4 510.6V528.1M377.9 510.2V528.3M378.4 510.3V528.4M378.9 510.3V528.2M379.4 510.5V528.1M379.9 510V528.2M380.4 509.9V528.1M380.9 509.5V528.1M381.4 509.6V528M381.9 509.7V527.9M382.4 509.8V527.6M382.9 509.9V527.4M383.4 509.9V527.4M383.9 509.8V527.5M384.4 509.7V527.1M384.9 509.8V527.3M385.4 509.7V527.3M385.9 509.9V526.7M386.4 510V526.7M386.9 509.8V527M387.4 509.8V526.9M387.9 509.9V526.7M388.4 509.9V526.5M388.9 509.9V526.5M389.4 509.9V526.6M389.9 509.7V526.7M390.4 509.8V526.8M390.9 509.7V526.6M391.4 509.8V526.4M391.9 509.4V526.1M392.4 509.4V526.3M392.9 509.3V525.7M393.4 509.4V525.9M393.9 509.3V525.9M394.4 509.3V526.1M394.9 509.3V525.9M395.4 508.6V526.2M395.9 508.2V526.1M396.4 508.7V526M396.9 508.8V525.9M397.4 508.8V526.2M397.9 508.8V525.7M398.4 508.8V525.8M398.9 508.8V525.3M399.4 508.4V525.5M399.9 508V525.4M400.4 508.4V525.3M400.9 508.4V525.3M401.4 508.4V525.4M401.9 508V525.9M402.4 508.2V525.5M402.9 508.2V525.4M403.4 508.4V525.4M403.9 508.2V525.8M404.4 508.3V525.3M404.9 508V525.3M405.4 508.3V525.3M405.9 508.1V525.3M406.4 508.2V525.1M406.9 507V525M407.4 507.6V525.1M407.9 507.9V524.9M408.4 507.7V525.4M408.9 507.7V525.1M409.4 507.6V524.5M409.9 507.9V524.7M410.4 507.1V524.9M410.9 507.1V524.7M411.4 507V524.2M411.9 507.6V524.4M412.4 507.7V524.6M412.9 507.4V524.8M413.4 507.3V524.6M413.9 507.6V524.4M414.4 507.7V524.4M414.9 507.7V524.4M415.4 507.7V524.7M415.9 507.4V524.6M416.4 507.3V524.6M416.9 507.4V524.7M417.4 507.5V524.3M417.9 507.4V524.3M418.4 506.7V524.4M418.9 506.9V524.2M419.4 506.6V523.8M419.9 506.9V523.4M420.4 506.7V523.7M420.9 506.9V523.5M421.4 506.9V523.6M421.9 506.8V523.6M422.4 506.9V523.4M422.9 506.8V523.5M423.4 506.7V523.7M423.9 506.5V523.9M424.4 506.3V523.6M424.9 506.4V523.4M425.4 506.4V523.3M425.9 506.6V523.4M426.4 506.4V523.7M426.9 506.4V523.3M427.4 506.5V523.3M427.9 506.3V523.2M428.4 506.3V523.1M428.9 506.1V523.4M429.4 506.1V523.1M429.9 506.1V523.3M430.4 506.4V523.5M430.9 506.1V523.2M431.4 505.8V523.1M431.9 506.1V522.8M432.4 505.9V522.6M432.9 505.9V522.6M433.4 506V522.7M433.9 505.9V522.7M434.4 506V522.7M434.9 506V522.6M435.4 506.1V523.1M435.9 506V522.7M436.4 506V522.2M436.9 505.9V522.5M437.4 506.1V522.2M437.9 505.7V522.2M438.4 505.9V522.2M438.9 505.9V522.2M439.4 505.9V522.2M439.9 505.6V522.5M440.4 505.7V522.7M440.9 505.6V522.6M441.4 505.4V522.7M441.9 505.5V522.9M442.4 505.3V523M442.9 505.3V522.6M443.4 505.4V522.8M443.9 505.2V522.6M444.4 505.2V522.5M444.9 505.1V522.4M445.4 504.8V521.8M445.9 504.9V521.9M446.4 504.9V521.7M446.9 504.7V521.6M447.4 504.5V521.6M447.9 504.3V521.6M448.4 504.9V521.9M448.9 504.5V521.7M449.4 504.9V521.6M449.9 505V521.6M450.4 504.4V521.3M450.9 504.5V521.5M451.4 504.6V521.5M451.9 504.8V521.8M452.4 504.5V521.6M452.9 504.7V521.5M453.4 504.4V521.6M453.9 504.4V521.7M454.4 504.3V521.7M454.9 504.6V521.7M455.4 504.5V521.6M455.9 504.6V521.5M456.4 504.3V521.6M456.9 504.4V521.6M457.4 503.8V521.3M457.9 504V521.3M458.4 504.2V521.1M458.9 504V520.9M459.4 504V521M459.9 504.1V520.9M460.4 503.5V521M460.9 503.6V521M461.4 503.5V520.9M461.9 503.6V520.8M462.4 503.7V520.5M462.9 503.7V520.7M463.4 503.5V520.6M463.9 503.8V520.4M464.4 503.5V520.3M464.9 503.7V520.6M465.4 503.8V520.3M465.9 503.6V520.7M466.4 503.4V520.3M466.9 503.5V520.3M467.4 503.3V520.5M467.9 503.5V520.7M468.4 503.1V520.8M468.9 503.2V520.6M469.4 503.3V520.1M469.9 503.1V520.1M470.4 503.4V520.3M470.9 503.4V520.1M471.4 503.3V520.6M471.9 503.3V520.5M472.4 503.3V520.2M472.9 503.1V520.3M473.4 503.2V520.1M473.9 503V520.1M474.4 502.9V520M474.9 503V520M475.4 502.9V520.1M475.9 502.8V520.3M476.4 503.1V520.3M476.9 502.6V520.1M477.4 502.7V520.2M477.9 503V519.8M478.4 503V519.8M478.9 503.1V519.7M479.4 502.9V519.6M479.9 502.9V519.2M480.4 503V519.2M480.9 502.8V519.6M481.4 503.2V519.1M481.9 502.9V519.4M482.4 502.9V519.7M482.9 502.8V519.5M483.4 502.9V519.2M483.9 502.8V519.1M484.4 503.1V519.3M484.9 503.2V518.9M485.4 503.2V519.1M485.9 502.6V519.2M486.4 502.6V519.4M486.9 502.5V519.2M487.4 502.5V519M487.9 502.1V518.9M488.4 502.4V518.7M488.9 502.4V519.4M489.4 502.6V519.4M489.9 502V519.2M490.4 502.5V519.3M490.9 502.3V519M491.4 502.4V519M491.9 502.4V519.2M492.4 502.2V518.8M492.9 502.5V518.9M493.4 502.4V519.3M493.9 502.1V519.2M494.4 502.3V519.2M494.9 502.3V519.2M495.4 501.8V518.4M495.9 502.2V518.2M496.4 502.2V518.8M496.9 501.6V518.5M497.4 501.8V518.7M497.9 501.7V518.8M498.4 501.5V517.8M498.9 501.5V517.7M499.4 501.6V517.9M499.9 501.6V518.2M500.4 501.4V518.2M500.9 501.1V517.9M501.4 500.9V517.8M501.9 500.9V517.8M502.4 501V517.9M502.9 501V517.7M503.4 500.9V517.8M503.9 501V518.1M504.4 501.1V518.2M504.9 500.9V517.9M505.4 501.3V517.9M505.9 501V518M506.4 500.8V517.9M506.9 500.8V517.9M507.4 501V517.9M507.9 500.9V518.1M508.4 500.6V518.1M508.9 500.7V518M509.4 501V518.2M509.9 501.2V517.7M510.4 501.2V517.7M510.9 500.5V517.8M511.4 500.8V517.6M511.9 500.7V517.3M512.4 500.8V517.6M512.9 500.8V517.3M513.4 500.8V517.1M513.9 500.9V517.3M514.4 500.6V517.4M514.9 500.8V517.3M515.4 500.8V517.4M515.9 500.9V517.5M516.4 500.9V517.5M516.9 500.7V517.7M517.4 500.4V517.5M517.9 500.9V517.3M518.4 500.9V517.5M518.9 500.9V517.3M519.4 500.8V517.5M519.9 500.6V517.3M520.4 500.9V517.4M520.9 500.8V517.7M521.4 500.3V517.3M521.9 500.3V516.9M522.4 499.9V516.9M522.9 500.2V516.9M523.4 500.7V516.9M523.9 500.5V517.2M524.4 500.6V516.9M524.9 500.8V516.8M525.4 500.6V516.6M525.9 500.4V516.4M526.4 500.1V516.4M526.9 499.9V516.5M527.4 500V516.8M527.9 499.8V516.7M528.4 500.4V517.1M528.9 500.3V516.7M529.4 500.3V516.5M529.9 500.2V516.5M530.4 500.1V516.7M530.9 500.2V516.7M531.4 500.2V516.9M531.9 499.7V516.4M532.4 499.6V516.6M532.9 499.5V516.2M533.4 499.4V516.3M533.9 499.5V516.1M534.4 499.5V516.2M534.9 499.6V516.2M535.4 499.7V516.2M535.9 499.4V516.3M536.4 499.2V516.3M536.9 499.7V516.4M537.4 499.9V516.4M537.9 499.9V516.2M538.4 499.3V516.1M538.9 499.5V516.1M539.4 499.1V515.9M539.9 499.2V516M540.4 499.3V516.1M540.9 499.4V516.4M541.4 499.3V515.8M541.9 499V515.7M542.4 498.6V515.6M542.9 498.7V515.8M543.4 498.9V515.9M543.9 498.7V515.5M544.4 498.5V515.4M544.9 498.5V515.5M545.4 498.7V515.6M545.9 498.5V515.2M546.4 498.7V515.7M546.9 498.6V515.5M547.4 498.8V515.6M547.9 498.8V515.3M548.4 498.6V515.5M548.9 498.4V515.4M549.4 498.6V515.5M549.9 498.4V515.6M550.4 498.4V515.5M550.9 498.5V515M551.4 498.5V514.9M551.9 497.9V515M552.4 498.1V514.8M552.9 498V515.5M553.4 497.9V515.4M553.9 497.5V515.3M554.4 497.6V515.2M554.9 497.5V515.2M555.4 497.6V514.9M555.9 497.9V514.5M556.4 497.2V514.4M556.9 497.5V514.4M557.4 497.8V514.5M557.9 497.7V514.7M558.4 497.8V514.9M558.9 497.4V514.4M559.4 497.2V514.4M559.9 497.3V514.4M560.4 497.2V514.3M560.9 497.4V514.2M561.4 497.3V514.6M561.9 497.2V514.3M562.4 497V514.3M562.9 497V514.4M563.4 496.9V514.7M563.9 497.3V514.6M564.4 497.2V514.2M564.9 497V514.6M565.4 497.4V514.6M565.9 497.4V514.8M566.4 497.1V514.6M566.9 496.9V514.9M567.4 496.6V514.9M567.9 496.8V515.1M568.4 496.6V514.8M568.9 496.8V514.3M569.4 497V513.9M569.9 497V513.9M570.4 497V513.9M570.9 497V513.4M571.4 497.1V513.4M571.9 496.6V513.7M572.4 496.9V513.4M572.9 497.2V513.6M573.4 496.9V513.4M573.9 496.6V513.6M574.4 496.4V513.7M574.9 496.9V513.8M575.4 496.9V513.5M575.9 496.6V513.4M576.4 497.1V513.3M576.9 496.7V513.3M577.4 497V513.3M577.9 496.9V513.6M578.4 496.9V513.8M578.9 496.9V513.3M579.4 496.5V513.2M579.9 496.5V513.1M580.4 496.6V513.6M580.9 496.8V513.2M581.4 496.7V513.3M581.9 496.8V513.2M582.4 496.8V513.3M582.9 496.4V513.2M583.4 495.7V513.1M583.9 495.9V513M584.4 495.4V513M584.9 495.2V512.8M585.4 495.8V512.8M585.9 495.9V512.9M586.4 495.9V513.2M586.9 496.1V513.1M587.4 495.9V513M587.9 496V513M588.4 495.8V512.7M588.9 496V512.7M589.4 495.9V512.6M589.9 496V512.5M590.4 496.1V512.8M590.9 495.7V512.9M591.4 495.4V512.6M591.9 495.6V512.4M592.4 495.2V512.5M592.9 495.2V512.8M593.4 494.6V512.8M593.9 495.2V512.8M594.4 495.2V512.2M594.9 495.5V512.1M595.4 495.3V512.3M595.9 495.4V512.2M596.4 495.2V511.9M596.9 495.3V511.8M597.4 495.5V512M597.9 495.2V512M598.4 495.3V512.1M598.9 495.3V511.8M599.4 495.2V511.8M599.9 495.3V511.8M600.4 495.2V512.3M600.9 495.2V512.2M601.4 495.2V511.9M601.9 495.2V512M602.4 494.9V511.5M602.9 495.1V511.5M603.4 495.1V511.2M603.9 495.1V511.1M604.4 495V511.2M604.9 495.3V511.6M605.4 495.2V511.5M605.9 495.2V511.1M606.4 495.4V511.6M606.9 495V511.3M607.4 495.5V511.3M607.9 495.1V511.2M608.4 494.9V511.4M608.9 494.5V511.2M609.4 495.1V511.3M609.9 494.9V511M610.4 495V511M610.9 494.8V511.1M611.4 494.7V511.5M611.9 494.6V511.8M612.4 494.5V511.2M612.9 494.9V510.9M613.4 494.4V510.8M613.9 494.3V510.9M614.4 494.5V510.8M614.9 494.2V511M615.4 494.3V510.9M615.9 494.3V510.9M616.4 494.5V511M616.9 494.1V510.5M617.4 494V510.3M617.9 493.9V510.4M618.4 493.8V510M618.9 494.1V510M619.4 494.4V510.1M619.9 494.4V509.9M620.4 494.5V510.1M620.9 494.1V510"/>
<path stroke-width="4" d="M94.7 711.5V717.5M94.9 711.5V717.5M95.1 711.5V717.5M88.2 713.5h13M88.2 715.5h13M88.4 713.5h13M88.4 715.5h13M88.6 713.5h13M88.6 715.5h13M612.9 496.6h13M612.9 507.7h13M613.4 496.8h13M613.4 507.6h13M613.9 495.9h13M613.9 508h13M614.4 496.2h13M614.4 507.8h13M614.9 496.3h13M614.9 508.5h13M615.4 496.1h13M615.4 508h13M615.9 496.2h13M615.9 508.4h13M616.4 496.5h13M616.4 508.2h13M616.9 497.7h13M616.9 508.4h13M617.4 496.3h13M617.4 507.8h13M88.3 708.1l12.8 12.8m-12.8 0l12.8 -12.8M88.5 708.1l12.8 12.8m-12.8 0l12.8 -12.8M88.7 708.1l12.8 12.8m-12.8 0l12.8 -12.8M88.8 700.4l12.8 12.8m-12.8 0l12.8 -12.8M89 691.8l12.8 12.8m-12.8 0l12.8 -12.8M89.2 684.5l12.8 12.8m-12.8 0l12.8 -12.8M89.4 677.5l12.8 12.8m-12.8 0l12.8 -12.8M89.5 671.2l12.8 12.8m-12.8 0l12.8 -12.8M89.7 665.2l12.8 12.8m-12.8 0l12.8 -12.8M89.9 659.2l12.8 12.8m-12.8 0l12.8 -12.8M90.1 653.2l12.8 12.8m-12.8 0l12.8 -12.8M90.2 647.2l12.8 12.8m-12.8 0l12.8 -12.8M90.4 641.2l12.8 12.8m-12.8 0l12.8 -12.8M90.6 635.4l12.8 12.8m-12.8 0l12.8 -12.8M90.8 629.6l12.8 12.8m-12.8 0l12.8 -12.8M90.9 623.8l12.8 12.8m-12.8 0l12.8 -12.8M91.1 618l12.8 12.8m-12.8 0l12.8 -12.8M91.3 612.2l12.8 12.8m-12.8 0l12.8 -12.8M91.5 610.4l12.8 12.8m-12.8 0l12.8 -12.8M91.6 610.1l12.8 12.8m-12.8 0l12.8 -12.8M91.8 609.8l12.8 12.8m-12.8 0l12.8 -12.8M92 609.4l12.8 12.8m-12.8 0l12.8 -12.8M92.2 609.2l12.8 12.8m-12.8 0l12.8 -12.8M92.4 608.9l12.8 12.8m-12.8 0l12.8 -12.8M92.5 608.3l12.8 12.8m-12.8 0l12.8 -12.8M92.7 608.1l12.8 12.8m-12.8 0l12.8 -12.8M92.9 607.8l12.8 12.8m-12.8 0l12.8 -12.8M93.1 607.5l12.8 12.8m-12.8 0l12.8 -12.8M93.2 607.3l12.8 12.8m-12.8 0l12.8 -12.8M93.4 607l12.8 12.8m-12.8 0l12.8 -12.8M93.6 606.8l12.8 12.8m-12.8 0l12.8 -12.8M93.8 606.3l12.8 12.8m-12.8 0l12.8 -12.8M93.9 606l12.8 12.8m-12.8 0l12.8 -12.8M94.1 606.3l12.8 12.8m-12.8 0l12.8 -12.8M94.3 605.8l12.8 12.8m-12.8 0l12.8 -12.8M94.5 605.2l12.8 12.8m-12.8 0l12.8 -12.8M94.6 605.2l12.8 12.8m-12.8 0l12.8 -12.8M94.8 604.7l12.8 12.8m-12.8 0l12.8 -12.8M95 604.5l12.8 12.8m-12.8 0l12.8 -12.8M95.2 604l12.8 12.8m-12.8 0l12.8 -12.8M95.3 603.3l12.8 12.8m-12.8 0l12.8 -12.8M95.5 603l12.8 12.8m-12.8 0l12.8 -12.8M95.7 601.9l12.8 12.8m-12.8 0l12.8 -12.8M95.9 602.1l12.8 12.8m-12.8 0l12.8 -12.8M96.1 601.4l12.8 12.8m-12.8 0l12.8 -12.8M96.2 600.5l12.8 12.8m-12.8 0l12.8 -12.8M96.4 600.2l12.8 12.8m-12.8 0l12.8 -12.8M96.6 599.4l12.8 12.8m-12.8 0l12.8 -12.8M96.8 599.3l12.8 12.8m-12.8 0l12.8 -12.8M96.9 598.1l12.8 12.8m-12.8 0l12.8 -12.8M97.1 597.5l12.8 12.8m-12.8 0l12.8 -12.8M97.3 597l12.8 12.8m-12.8 0l12.8 -12.8M97.5 596.9l12.8 12.8m-12.8 0l12.8 -12.8M97.6 596.3l12.8 12.8m-12.8 0l12.8 -12.8M97.8 595.9l12.8 12.8m-12.8 0l12.8 -12.8M98 595.3l12.8 12.8m-12.8 0l12.8 -12.8M98.2 595.1l12.8 12.8m-12.8 0l12.8 -12.8M98.3 594.5l12.8 12.8m-12.8 0l12.8 -12.8M98.5 594.2l12.8 12.8m-12.8 0l12.8 -12.8M98.7 593.1l12.8 12.8m-12.8 0l12.8 -12.8M98.9 593.1l12.8 12.8m-12.8 0l12.8 -12.8M99 593.1l12.8 12.8m-12.8 0l12.8 -12.8M99.2 592.2l12.8 12.8m-12.8 0l12.8 -12.8M99.4 592.1l12.8 12.8m-12.8 0l12.8 -12.8M99.6 591.4l12.8 12.8m-12.8 0l12.8 -12.8M99.8 590.9l12.8 12.8m-12.8 0l12.8 -12.8M99.9 590.7l12.8 12.8m-12.8 0l12.8 -12.8M100.1 590.7l12.8 12.8m-12.8 0l12.8 -12.8M100.3 589.8l12.8 12.8m-12.8 0l12.8 -12.8M100.5 590.1l12.8 12.8m-12.8 0l12.8 -12.8M100.6 589.2l12.8 12.8m-12.8 0l12.8 -12.8M100.8 588.9l12.8 12.8m-12.8 0l12.8 -12.8M101 588.8l12.8 12.8m-12.8 0l12.8 -12.8M101.2 588.8l12.8 12.8m-12.8 0l12.8 -12.8M101.3 588.5l12.8 12.8m-12.8 0l12.8 -12.8M101.5 587.7l12.8 12.8m-12.8 0l12.8 -12.8M101.7 587.3l12.8 12.8m-12.8 0l12.8 -12.8M101.9 587.8l12.8 12.8m-12.8 0l12.8 -12.8M102 586.7l12.8 12.8m-12.8 0l12.8 -12.8M102.2 586.7l12.8 12.8m-12.8 0l12.8 -12.8M102.4 586.6l12.8 12.8m-12.8 0l12.8 -12.8M102.6 585.8l12.8 12.8m-12.8 0l12.8 -12.8M102.7 585.9l12.8 12.8m-12.8 0l12.8 -12.8M102.9 585.2l12.8 12.8m-12.8 0l12.8 -12.8M103.1 585l12.8 12.8m-12.8 0l12.8 -12.8M103.3 584.9l12.8 12.8m-12.8 0l12.8 -12.8M103.5 584.4l12.8 12.8m-12.8 0l12.8 -12.8M103.6 584.1l12.8 12.8m-12.8 0l12.8 -12.8M103.8 583.6l12.8 12.8m-12.8 0l12.8 -12.8M104 583.4l12.8 12.8m-12.8 0l12.8 -12.8M104.2 583.7l12.8 12.8m-12.8 0l12.8 -12.8M104.3 583.1l12.8 12.8m-12.8 0l12.8 -12.8M104.5 582.6l12.8 12.8m-12.8 0l12.8 -12.8M104.7 582.7l12.8 12.8m-12.8 0l12.8 -12.8M104.9 582.3l12.8 12.8m-12.8 0l12.8 -12.8M105 582.5l12.8 12.8m-12.8 0l12.8 -12.8M105.2 581.9l12.8 12.8m-12.8 0l12.8 -12.8M105.4 581.6l12.8 12.8m-12.8 0l12.8 -12.8M105.6 581.6l12.8 12.8m-12.8 0l12.8 -12.8M105.7 581.4l12.8 12.8m-12.8 0l12.8 -12.8M105.9 580.9l12.8 12.8m-12.8 0l12.8 -12.8M106.1 581l12.8 12.8m-12.8 0l12.8 -12.8M106.3 580.9l12.8 12.8m-12.8 0l12.8 -12.8M106.4 580.5l12.8 12.8m-12.8 0l12.8 -12.8M106.6 580.1l12.8 12.8m-12.8 0l12.8 -12.8M106.8 579.9l12.8 12.8m-12.8 0l12.8 -12.8M107 579.8l12.8 12.8m-12.8 0l12.8 -12.8M107.2 579.8l12.8 12.8m-12.8 0l12.8 -12.8M107.3 579.1l12.8 12.8m-12.8 0l12.8 -12.8M107.5 579.5l12.8 12.8m-12.8 0l12.8 -12.8M615 496l12.8 12.8m-12.8 0l12.8 -12.8M615.5 495.6l12.8 12.8m-12.8 0l12.8 -12.8M616 495.9l12.8 12.8m-12.8 0l12.8 -12.8M616.5 496l12.8 12.8m-12.8 0l12.8 -12.8M617 496.7l12.8 12.8m-12.8 0l12.8 -12.8M617.5 495.7l12.8 12.8m-12.8 0l12.8 -12.8"/>
</g>
<g fill="none" stroke="#0000ff">
<path stroke-width="5" d="M139.8 602.3V620.6M140.3 601.4V620.7M140.8 602.4V621M141.3 601.9V620M141.8 601.9V619.6M142.3 601.7V619.1M142.8 600.8V619M143.3 601.1V619.1M143.8 600.6V619.4M144.3 600.7V618.6M144.8 600.3V619.1M145.3 600.3V618M145.8 599.9V618.1M146.3 600.1V618.3M146.8 600V617.9M147.3 599V618.1M147.8 599.1V618.1M148.3 599V616.9M148.8 599.2V617.7M149.3 598.3V617.1M149.8 598.2V617.4M150.3 598.4V616.8M150.8 598.5V616.9M151.3 598.4V616.7M151.8 597.9V616.5M152.3 597.4V616.4M152.8 597.3V616.7M153.3 597.2V616.1M153.8 597.2V615.5M154.3 597.1V615.8M154.8 597V616.1M155.3 597.1V615M155.8 597.5V614.9M156.3 596.7V614.4M156.8 596.6V614.5M157.3 596.6V615.1M157.8 595.4V614.2M158.3 596.3V613.9M158.8 596.3V613.2M159.3 595.7V614.3M159.8 595.7V614.1M160.3 595.4V613.8M160.8 595.4V613.4M161.3 595.7V612.6M161.8 595.2V613M162.3 595.3V613.3M162.8 594.3V613.4M163.3 594.4V613M163.8 595.1V612.7M164.3 594.4V612.5M164.8 594.7V611.9M165.3 593.9V612.1M165.8 594V611.9M166.3 593.7V612.1M166.8 593.3V612.5M167.3 594.2V612.6M167.8 593.2V611.1M168.3 592.9V611.8M168.8 593.5V611.5M169.3 593.7V611.8M169.8 592.6V611.6M170.3 592.8V611.4M170.8 592.4V610.7M171.3 592.6V610.8M171.8 593.1V610.4M172.3 592.7V610.8M172.8 592.4V610.3M173.3 592.2V611.2M173.8 592.3V609.7M174.3 591.4V610.2M174.8 591.7V609.8M175.3 591.6V610M175.8 592.4V609.9M176.3 591.5V610.6M176.8 591.2V608.8M177.3 591.2V609.7M177.8 591.4V609.5M178.3 591.4V608.9M178.8 591.5V609.4M179.3 591.4V609.3M179.8 591.2V609.1M180.3 590.8V608.3M180.8 590.6V608M181.3 590.4V608.4M181.8 590.2V608.6M182.3 590.1V607.7M182.8 590.5V607.9M183.3 589.8V608M183.8 589.7V608.1M184.3 589.6V607.9M184.8 589V607.6M185.3 589.3V607.2M185.8 589V607M186.3 589.6V607.4M186.8 589.4V606.7M187.3 589V607.1M187.8 588.9V606.9M188.3 588.9V606.8M188.8 588.3V606.8M189.3 589V606.4M189.8 588.4V605.8M190.3 588.5V606.2M190.8 588.6V605.8M191.3 588.3V606.5M191.8 587.8V605.4M192.3 588.1V605.5M192.8 588.2V605.3M193.3 587.6V605.1M193.8 586.9V605.8M194.3 587.3V605.4M194.8 586.9V605.6M195.3 587.5V605M195.8 587.4V604.9M196.3 586.8V604.6M196.8 586.8V604.7M197.3 586.6V605.3M197.8 586.2V604.6M198.3 586.3V604.7M198.8 586.3V604.2M199.3 586.5V604.5M199.8 586.4V604M200.3 586V603.8M200.8 586V603.8M201.3 585.3V603.1M201.8 585.8V603.3M202.3 586V603.2M202.8 585.5V602.5M203.3 585.1V603.2M203.8 585.5V603M204.3 585.3V602.1M204.8 584.5V602.5M205.3 585.2V602.7M205.8 584.7V602.4M206.3 585V602.1M206.8 584.2V602.6M207.3 584.7V602.3M207.8 583.9V601.9M208.3 584.1V601.5M208.8 584.2V601.6M209.3 584V601.2M209.8 583.9V602.2M210.3 584V600.8M210.8 583.1V600.8M211.3 583.2V601.2M211.8 583V601.5M212.3 583.5V600.5M212.8 582.5V601.1M213.3 583.4V601.5M213.8 582.7V600.3M214.3 583.2V600.3M214.8 583.1V601M215.3 582.5V599.5M215.8 582.3V600.7M216.3 582.4V600.1M216.8 582.3V600.6M217.3 582V599.6M217.8 581.8V599.6M218.3 582.1V599.7M218.8 582.6V599.5M219.3 582.1V599.6M219.8 581.7V599.1M220.3 581.8V599.7M220.8 581.5V599M221.3 581.8V599.1M221.8 581.4V599.1M222.3 581.4V599.8M222.8 580.7V598.9M223.3 581.3V598.8M223.8 581.3V598.5M224.3 581.5V598.9M224.8 580.2V598.2M225.3 580.8V598.9M225.8 580.6V598.2M226.3 580.3V598.3M226.8 580.2V597.8M227.3 580.3V598.1M227.8 580.2V598.2M228.3 580.1V597.8M228.8 579.7V597.7M229.3 580.3V597.6M229.8 580V597.7M230.3 579.6V597.6M230.8 580V597M231.3 579.3V597.4M231.8 580.1V597.1M232.3 580.1V597.8M232.8 579.7V597.8M233.3 579.6V597.1M233.8 579.3V597M234.3 579.9V596.5M234.8 579.4V597.7M235.3 579.3V597.1M235.8 579V596.7M236.3 578.8V596.3M236.8 578.9V596.4M237.3 578.7V596.3M237.8 578.7V596.3M238.3 578.8V596.1M238.8 578.9V596.4M239.3 578.6V596.8M239.8 579V596.1M240.3 578.1V596.3M240.8 578.7V596M241.3 578.8V595.8M241.8 578.2V596.3M242.3 578V595.4M242.8 578.2V595.4M243.3 577.2V595.4M243.8 579V595.7M244.3 578.8V596.2M244.8 578.1V595.3M245.3 577.9V595M245.8 578.1V595.3M246.3 578V594.8M246.8 577.2V595.3M247.3 576.9V594.4M247.8 577.1V595M248.3 577.6V594.4M248.8 576.7V594.6M249.3 577V594.4M249.8 577.5V594.6M250.3 576.6V595.2M250.8 577.2V594.5M251.3 577.6V594.3M251.8 576.4V593.6M252.3 576.8V594.7M252.8 576.8V594.1M253.3 576.3V594.2M253.8 576.4V594.4M254.3 576.9V594M254.8 576.6V593.6M255.3 576.8V594.1M255.8 576.3V593.7M256.3 576V594.1M256.8 576.2V593.4M257.3 576.4V593.6M257.8 575.5V593.4M258.3 576V592.9M258.8 576V593.1M259.3 576.2V593.4M259.8 575.7V592.6M260.3 576.5V592.8M260.8 575.4V592.3M261.3 576V593M261.8 575.8V592.8M262.3 575.7V592.7M262.8 575.9V592.3M263.3 575.6V592.6M263.8 575.2V592.9M264.3 575.5V591.8M264.8 575.7V592.5M265.3 574.8V592.4M265.8 574.6V591.9M266.3 574.7V592.3M266.8 575.4V591.7M267.3 574.8V592.3M267.8 575.5V592.4M268.3 574.8V592.4M268.8 574.9V592.5M269.3 574.9V591.9M269.8 574.3V591.7M270.3 574.6V591.8M270.8 575.1V591.9M271.3 575.1V591.2M271.8 575V591.5M272.3 574.7V590.4M272.8 574.3V591.1M273.3 574.1V590.9M273.8 574.2V591M274.3 573.9V591.6M274.8 573.9V591.9M275.3 573.8V590.4M275.8 573.9V591M276.3 574.7V591M276.8 573.7V590.6M277.3 573.7V590.6M277.8 573.8V590.4M278.3 572.8V590.3M278.8 573.5V590.4M279.3 574V590.3M279.8 573.3V590M280.3 572.7V589.8M280.8 573.5V590.4M281.3 573.5V589.9M281.8 572.9V590M282.3 572.8V590.3M282.8 573.6V589.9M283.3 572.9V589.8M283.8 573V589.2M284.3 572.7V589.3M284.8 572.7V589.5M285.3 573.1V589.2M285.8 572.5V589.5M286.3 572.2V588.8M286.8 572.1V589.4M287.3 572.5V588.8M287.8 572.5V589.2M288.3 571.9V588.5M288.8 572.4V589.2M289.3 571.6V588.9M289.8 572.3V589M290.3 572V588.6M290.8 571.9V589.4M291.3 572.2V588.9M291.8 571.2V588.3M292.3 571.8V588.5M292.8 571.9V588M293.3 570.9V588.3M293.8 571.4V587.8M294.3 571.3V588.7M294.8 571.7V587.3M295.3 571.8V588.3M295.8 571.6V587.4M296.3 570.9V587.9M296.8 571.3V587.9M297.3 571.3V587.9M297.8 571.2V587.6M298.3 571.2V587.8M298.8 570.5V587.5M299.3 570.7V587.6M299.8 570.8V587.6M300.3 570.7V587.5M300.8 570.6V587.1M301.3 570.8V587.2M301.8 570.3V586.5M302.3 569.8V587.3M302.8 569.8V587.1M303.3 570.9V586.8M303.8 570.6V587.3M304.3 570.2V586.9M304.8 569.3V586.7M305.3 569.5V586.7M305.8 569.9V587.1M306.3 570.7V586.7M306.8 569.5V586.7M307.3 570.3V586.5M307.8 569.7V586.3M308.3 570V586.1M308.8 569.9V586.6M309.3 569.4V586.5M309.8 569.8V586.9M310.3 569.3V586.1M310.8 569V585M311.3 569.5V585.5M311.8 569.2V585.8M312.3 568.4V586.1M312.8 568.5V585.7M313.3 568.9V585.8M313.8 568.7V585.2M314.3 569V585.8M314.8 568V585.5M315.3 568.1V585M315.8 568.4V585.1M316.3 568V585.1M316.8 568.5V584.9M317.3 568.6V585.1M317.8 568.6V584.9M318.3 568.2V584.9M318.8 568.1V584.4M319.3 567.9V584.5M319.8 567.2V584.5M320.3 567.7V584.5M320.8 567.4V584.4M321.3 567.7V583.9M321.8 567.8V584.1M322.3 567.7V583.9M322.8 567.1V584M323.3 567.3V583.9M323.8 566.8V584.1M324.3 567V583.3M324.8 566.7V583.7M325.3 567V583.4M325.8 566.8V584.1M326.3 566.3V583.4M326.8 566.6V583.4M327.3 566.7V583.6M327.8 566V583.2M328.3 566.7V582.4M328.8 566.7V582.9M329.3 565.8V582.4M329.8 565.9V582.6M330.3 566.1V583.2M330.8 566.4V583.1M331.3 566V582.5M331.8 566.5V582.4M332.3 565.6V583.4M332.8 566.7V582.8M333.3 566.3V582.8M333.8 565.9V582.3M334.3 566.2V582.9M334.8 566V582.1M335.3 566.8V582.9M335.8 565.6V582.6M336.3 565.8V582.2M336.8 565.4V582.3M337.3 565.6V582.2M337.8 565.7V582.2M338.3 565.1V582.3M338.8 565.8V582.4M339.3 564.7V582M339.8 565.5V582.4M340.3 564.5V582.1M340.8 565.2V581.7M341.3 564.6V581.7M341.8 565.1V581.7M342.3 564.4V581.5M342.8 564.5V581.4M343.3 565.4V581.5M343.8 565.1V581.7M344.3 564.5V581.8M344.8 564.4V581.2M345.3 564.3V581.1M345.8 564.9V581M346.3 564.1V581M346.8 564.1V581.2M347.3 563.8V580.8M347.8 564.2V581M348.3 564.3V581.2M348.8 563.7V580.5M349.3 563.6V580.8M349.8 564.4V580.7M350.3 564V580.9M350.8 563.9V581.1M351.3 564.3V581.4M351.8 564.3V580.2M352.3 563.9V580.7M352.8 563.8V581.1M353.3 563.8V580.3M353.8 563.3V580.8M354.3 563.7V580.9M354.8 563.8V580.5M355.3 563.4V580.1M355.8 563.6V580.6M356.3 563.8V581M356.8 563.3V580.3M357.3 563.4V579.5M357.8 563.3V579.8M358.3 563.4V580.1M358.8 562.8V579.7M359.3 563V579.8M359.8 563.2V579.7M360.3 562.5V580.2M360.8 562.8V579.6M361.3 562.9V579.9M361.8 562.2V579.9M362.3 562.9V579.4M362.8 562.8V579.3M363.3 562.9V579.5M363.8 563.1V579.3M364.3 562.4V578.9M364.8 562.7V579.3M365.3 562.5V579.6M365.8 562.1V579M366.3 562.1V579.1M366.8 562.4V579.6M367.3 562.2V579.8M367.8 562.1V578.1M368.3 562.9V578.5M368.8 562V578.5M369.3 562.5V578.6M369.8 561.9V578.4M370.3 562.4V578.4M370.8 562V578.7M371.3 562.6V579.1M371.8 562.8V577.7M372.3 562V578.1M372.8 561.6V577.9M373.3 561.9V578.3M373.8 561.9V578.3M374.3 561.3V578.1M374.8 562.1V577.7M375.3 561.6V578.2M375.8 561.8V578.4M376.3 561.8V578M376.8 561.1V578.3M377.3 561.4V578.1M377.8 561.7V578.1M378.3 561.4V578.1M378.8 561.1V577.8M379.3 561.6V577.6M379.8 561.2V578.1M380.3 560.6V578M380.8 561.2V577.9M381.3 561.1V578.1M381.8 561.6V577.6M382.3 561.4V578.3M382.8 561.1V577.3M383.3 560.4V577.9M383.8 560.5V577.4M384.3 561V577.7M384.8 560.6V577.1M385.3 560.7V577.2M385.8 561.6V577.2M386.3 560.9V577M386.8 560.8V576.7M387.3 561.1V577.3M387.8 560.7V577.2M388.3 561.1V576.8M388.8 560.4V577.1M389.3 560.8V577.6M389.8 560.3V576.6M390.3 560.4V576.3M390.8 560.8V576.4M391.3 560.2V576.9M391.8 560.2V577M392.3 560.2V576.6M392.8 559.9V576.5M393.3 559.8V576.8M393.8 559.6V576.7M394.3 560.4V576.4M394.8 560V576.4M395.3 559.9V576.5M395.8 559.6V577M396.3 559.9V575.9M396.8 560V576.1M397.3 559.9V575.9M397.8 559.7V576.3M398.3 559.5V575.9M398.8 558.9V576.3M399.3 559V575.9M399.8 559.8V576.3M400.3 559.6V575.5M400.8 560.1V576M401.3 559.5V575.7M401.8 559.4V576.6M402.3 559.5V576.2M402.8 559.5V575.8M403.3 559.2V576.3M403.8 559.1V575.5M404.3 559.7V575.2M404.8 559.6V575.5M405.3 558.8V575.7M405.8 559.3V575.5M406.3 559.4V575.9M406.8 559.2V575.1M407.3 559.4V575.3M407.8 558.8V575.1M408.3 558.6V575.6M408.8 558V575.9M409.3 558.9V575M409.8 558.8V575.4M410.3 558.8V575.4M410.8 558.5V575.1M411.3 559.2V574.9M411.8 558.1V575.2M412.3 557.3V574.9M412.8 557.8V575.4M413.3 557.6V575.1M413.8 558.6V575.2M414.3 557.9V575.4M414.8 558.2V574.4M415.3 558V574.8M415.8 558.1V575.3M416.3 558.6V575.2M416.8 558.3V574.7M417.3 558.3V574.4M417.8 558.1V575.7M418.3 558.5V574.9M418.8 558.1V574.8M419.3 557.8V574.5M419.8 558.5V575.3M420.3 558.1V574.2M420.8 557.5V574.5M421.3 557.7V574.6M421.8 557.9V575.1M422.3 557.2V574.6M422.8 558.2V574M423.3 557.5V574.4M423.8 557.1V574.7M424.3 557.7V573.8M424.8 558.1V574.6M425.3 557.5V574M425.8 557.5V574.4M426.3 557.7V574.3M426.8 557V573.9M427.3 556.8V574.3M427.8 557.3V573.9M428.3 557.7V573.7M428.8 557.4V574.4M429.3 556.8V574.1M429.8 557.3V574.2M430.3 557.3V574.2M430.8 557.4V574.1M431.3 556.5V573.7M431.8 557V574.7M432.3 557.2V573.7M432.8 557V574.5M433.3 556.7V573.8M433.8 557.4V573.6M434.3 556.6V574M434.8 556.3V574.8M435.3 556.5V573.3M435.8 556.7V573.6M436.3 556V573.6M436.8 556.6V573.5M437.3 556.9V573.7M437.8 557.1V573.2M438.3 556.6V573.2M438.8 556.2V573.2M439.3 556.4V573.8M439.8 556.6V572.7M440.3 555.9V573.8M440.8 556.1V573.5M441.3 557V572.8M441.8 556.3V573.2M442.3 555.9V573.3M442.8 556.3V572.8M443.3 556.3V573.3M443.8 556.3V573M444.3 556V573.7M444.8 556.1V572.5M445.3 555.9V573.3M445.8 556.1V572.9M446.3 556.4V573.3M446.8 555.8V573.3M447.3 555.8V573.4M447.8 555.8V572.8M448.3 555.8V572.2M448.8 555.8V572.7M449.3 555.5V572.9M449.8 555.5V572.3M450.3 555.1V572.6M450.8 555.2V572.5M451.3 555.4V572.8M451.8 555.6V572.5M452.3 555.6V572.8M452.8 555.5V572.4M453.3 554.9V572.4M453.8 555.5V572M454.3 555.4V572.2M454.8 555.5V572.5M455.3 555V572.2M455.8 555.4V572.1M456.3 555.2V572.6M456.8 555.1V572.5M457.3 555.1V571.3M457.8 555.6V572.1M458.3 555.2V571.9M458.8 555V572M459.3 555.1V571.4M459.8 554.5V571.5M460.3 554.6V571.9M460.8 555.1V572.2M461.3 554.8V571.7M461.8 555V572.4M462.3 554.9V571.5M462.8 554.9V571.1M463.3 554.8V571.6M463.8 554.7V572M464.3 554.4V570.8M464.8 555.6V571.7M465.3 554.7V570.9M465.8 554.2V570.9M466.3 554.8V571.3M466.8 554.4V571.3M467.3 554.2V571.8M467.8 554.9V571.5M468.3 555V571.4M468.8 554.1V571M469.3 554.8V571.4M469.8 554.4V571.1M470.3 554.7V570.5M470.8 554.7V571.1M471.3 554.6V570.5M471.8 553.6V571M472.3 553.9V569.9M472.8 553.6V571M473.3 554.6V571.3M473.8 554.4V571M474.3 554.5V570.5M474.8 554.4V570.8M475.3 553.7V570.8M475.8 553.5V570.5M476.3 553.4V570.9M476.8 554V570M477.3 553.3V570.8M477.8 553.8V570.3M478.3 553.2V570.1M478.8 553.4V569.6M479.3 552.7V570.3M479.8 553.1V570.7M480.3 553.3V570.1M480.8 553.9V570.2M481.3 553.3V569.8M481.8 553.6V569.9M482.3 553.1V569.8M482.8 553.6V569.4M483.3 553.6V569.6M483.8 553.4V569.5M484.3 552.9V570.4M484.8 553.2V568.9M485.3 553.4V569.2M485.8 552.7V569.6M486.3 553.7V569.6M486.8 553.4V569M487.3 553.2V569.5M487.8 553.6V569.2M488.3 552.8V569.6M488.8 553V569.3M489.3 552.6V570.3M489.8 553.6V569.8M490.3 552.6V569.4M490.8 552.8V569.4M491.3 552.7V569.1M491.8 553.3V569.5M492.3 553.1V569.2M492.8 552.3V568.3M493.3 552.7V569.2M493.8 552.4V569M494.3 552.4V568.3M494.8 552.6V569.1M495.3 552.8V569M495.8 551.9V568.9M496.3 552.2V568.6M496.8 552.6V568.4M497.3 552.3V567.7M497.8 552.7V568.7M498.3 552.3V568.1M498.8 552.7V568.5M499.3 552.4V568.7M499.8 551.7V568.8M500.3 551.9V568.4M500.8 551.9V567.7M501.3 551.9V568.1M501.8 552.1V568.8M502.3 551.7V568.2M502.8 552.1V567.3M503.3 552.2V568.1M503.8 552.1V568.1M504.3 551.9V568.2M504.8 552.5V568.5M505.3 551.3V568.8M505.8 552.3V567.8M506.3 551.4V568.4M506.8 551.4V568.1M507.3 551.9V568.4M507.8 550.9V567.8M508.3 550.9V568.1M508.8 552V567.4M509.3 551.1V568.4M509.8 551.5V567.3M510.3 550.7V567.5M510.8 551.2V567.2M511.3 551.4V567M511.8 551.2V566.9M512.3 549.9V567.5M512.8 551.4V567.9M513.3 550.8V567.1M513.8 551.2V567.8M514.3 551V567.2M514.8 551.1V567.6M515.3 550.7V568M515.8 551.3V567.3M516.3 551V567.1M516.8 550.8V567.4M517.3 550.1V567M517.8 551V566.9M518.3 550.5V566.6M518.8 550.7V566.9M519.3 550.5V567.4M519.8 550.6V567.1M520.3 550.5V567.7M520.8 550.8V566.4M521.3 550.7V566.7M521.8 550.8V567M522.3 549.9V566.9M522.8 550.4V566.6M523.3 550.5V567.4M523.8 550.5V566.4M524.3 550.5V566.2M524.8 550.2V566.6M525.3 549.7V566.6M525.8 549.8V566.8M526.3 550.3V566.1M526.8 550.3V566.4M527.3 551V566.7M527.8 550.1V566.4M528.3 550.4V566M528.8 550.6V566.2M529.3 550.2V565.9M529.8 549.6V566M530.3 549.8V565.5M530.8 549.4V566.3M531.3 550.1V565.5M531.8 550.1V565.4M532.3 550.4V566.1M532.8 550.4V566.2M533.3 550.1V566.1M533.8 549.9V565.6M534.3 550.4V566.2M534.8 549.9V565.6M535.3 550.6V565.9M535.8 550.1V565.7M536.3 549.9V566M536.8 549.7V565M537.3 549.6V566.1M537.8 549.5V565.7M538.3 549.1V565.8M538.8 549.7V565.7M539.3 549.6V565.2M539.8 549.5V565.8M540.3 550.3V565.7M540.8 550.3V564.5M541.3 549.4V565.5M541.8 549.8V566.4M542.3 549.6V564.7M542.8 549.2V565.3M543.3 549.9V566.1M543.8 549.5V565.3M544.3 549.5V565.7M544.8 549.2V564.6M545.3 548.7V564.8M545.8 548.9V564.8M546.3 549.5V565M546.8 549V564.1M547.3 548.9V565.7M547.8 549.1V565.4M548.3 549.2V565.7M548.8 549.6V564.9M549.3 548.8V565.9M549.8 549V565.3M550.3 549.3V564.9M550.8 548.9V565.6M551.3 548.5V564.4M551.8 548.9V565.1M552.3 549.1V565.3M552.8 548.3V564.6M553.3 549V564.7M553.8 549.2V565.2M554.3 548.4V565.3M554.8 548.6V565.3M555.3 548.8V565M555.8 549V564.7M556.3 548.9V564.8M556.8 548.5V565.4M557.3 548.2V564.9M557.8 548.7V564.6M558.3 548.4V564.2M558.8 548V564.2M559.3 548.4V564.5M559.8 548.7V564.4M560.3 548.5V564.7M560.8 548.4V564.5M561.3 548.4V564.6M561.8 548.5V563.7M562.3 548.4V564.7M562.8 548.5V564.7M563.3 548.6V564.4M563.8 548.4V564.1M564.3 547.7V563.2M564.8 548.2V563.8M565.3 548.1V563.8M565.8 547.6V564.1M566.3 547.9V563.8M566.8 548V564.1M567.3 547.3V563.6M567.8 547.2V563.8M568.3 547.5V563.7M568.8 548V563.4M569.3 547.2V563.9M569.8 547.5V563.8M570.3 546.9V563.9M570.8 547.7V563.3M571.3 548.1V564.3M571.8 546.4V563.8M572.3 547.5V564M572.8 546.8V563.8M573.3 547.1V563.4M573.8 546.9V563.7M574.3 547.8V563.3M574.8 547.3V563M575.3 547V563.1M575.8 547V563.6M576.3 546.9V563.4M576.8 546.3V562.9M577.3 547.4V563.3M577.8 546.9V563.6M578.3 547.1V563.2M578.8 547.1V563.4M579.3 547.9V563M579.8 547.1V563.8M580.3 546.5V562.6M580.8 546.8V562.9M581.3 547.3V562.8M581.8 546.5V562.8M582.3 546.4V562.2M582.8 546.9V563.7M583.3 547.2V563.2M583.8 547.4V563.1M584.3 547.1V563.2M584.8 546.7V562.8M585.3 546.9V563M585.8 546.5V562.5M586.3 546.3V562.5M586.8 546.8V562.9M587.3 546.7V562.8M587.8 546V562.5M588.3 546.4V562.4M588.8 547.1V562M589.3 546.6V562.8M589.8 546.6V562.1M590.3 546.9V562.2M590.8 546V562.7M591.3 546.5V562.6M591.8 546.8V562.8M592.3 546.6V562.5M592.8 547V562.2M593.3 546.6V562.8M593.8 546.8V562.3M594.3 546V562.4M594.8 545.8V562.5M595.3 546.2V562.1M595.8 546.3V562.7M596.3 546.1V562M596.8 546.5V562.5M597.3 546V562.8M597.8 546.7V562.3M598.3 546.6V561.9M598.8 546.8V562.2M599.3 546.1V561.9M599.8 546.6V562.1M600.3 546.4V562M600.8 546.2V562.1M601.3 546.6V562.4M601.8 546.5V562.1M602.3 545.8V562.3M602.8 545.8V561.8M603.3 546.8V562M603.8 545.9V562M604.3 546.5V562.3M604.8 545.7V562M605.3 545.8V561.9M605.8 545.8V561.6M606.3 546.4V561.8M606.8 545.8V562.2M607.3 546.1V562.1M607.8 545.7V561.6M608.3 545.8V561.1M608.8 546.3V562M609.3 545.3V561.8M609.8 546V562M610.3 545.9V561.5M610.8 545.1V561.3M611.3 545.6V562M611.8 546.2V561.3M612.3 545.2V562.1M612.8 544.9V560.9M613.3 545.2V561.3M613.8 545.7V561.4M614.3 545.6V560.8M614.8 545.5V561.2M615.3 544.9V561.6M615.8 545.3V561.2M616.3 544.7V561.3M616.8 545.6V561.6M617.3 545.4V560.7"/>
<path stroke-width="6" d="M136.3 604.2V622.2M136.8 604.3V621.7M137.3 603.6V621.7M137.8 603V621.6M138.3 603.3V621.4M138.8 602.5V621.6M139.3 602.7V620.4"/>
<path stroke-width="7" d="M132.8 606.1V623.1M133.3 605.2V623.2M133.8 604.6V622.6M134.3 605.5V623.1M134.8 604.3V622.9M135.3 604.7V622M135.8 604.9V622.4"/>
<path stroke-width="8" d="M129.3 608V624.9M129.8 607.5V624.2M130.3 607.1V624.7M130.8 606.4V624M131.3 606.8V624M131.8 607V624.1M132.3 606.8V623.5"/>
<path stroke-width="9" d="M125.8 610.7V627M126.3 609.2V626.5M126.8 609.6V626.2M127.3 609.4V626M127.8 608.7V625.3M128.3 608.5V625.1M128.8 608.5V625.7"/>
<path stroke-width="10" d="M122.3 612.3V628.8M122.8 611.8V627.8M123.3 611.6V628.5M123.8 611V628.8M124.3 610.7V627.5M124.8 610.4V627.1M125.3 610.5V626.7"/>
<path stroke-width="11" d="M118.8 614.5V630.3M119.3 614.6V629.7M119.8 614V629.7M120.3 613V629.3M120.8 613.1V629.3M121.3 612.6V629.5M121.8 613V628.4"/>
<path stroke-width="12" d="M115.3 617.1V632.3M115.8 617.4V632.2M116.3 616.5V631.5M116.8 615.8V631.7M117.3 615.4V630.7M117.8 615.4V630.8M118.3 614.7V630.6"/>
<path stroke-width="13" d="M95.6 691V703M95.8 683V699M96 677V695M96.2 672V692M96.3 667V689M96.5 663.3V686M96.7 659.7V683M96.9 656V680M97 652V676.5M97.2 648V673M97.4 644.1V669.5M97.6 640.2V665.9M97.7 639.8V664.9M97.9 639.1V663.8M98.1 638.8V662.9M98.3 638.5V661.7M98.4 638.1V661.2M98.6 637.7V660.6M98.8 637.4V660.2M99 637V659.8M99.2 636.6V659.8M99.3 636.2V658.9M99.5 635.5V658M99.7 635V657.9M99.9 635V657.4M100 634.5V656.7M100.2 634.2V656.7M100.4 633.3V656.5M100.6 633.6V655.9M100.7 633V655.5M100.9 633V655M101.1 632V654.6M101.3 631.9V654M101.4 631.1V653.3M101.6 631.3V652.6M101.8 631.4V652.6M102 630.8V651.9M102.1 631.2V651.8M102.3 629.8V651.8M102.5 630.7V651.8M102.7 630.2V650.7M102.9 630.8V650.8M103 630.2V651.1M103.2 630.1V650.7M103.4 630.3V650M103.6 630.1V650.1M103.7 629.2V649.5M103.9 629.3V650M104.1 629.3V648.5M104.3 629.4V648.5M104.4 629.5V648.5M104.6 629.3V647M104.8 629.6V647.3M105 628.7V647.6M105.1 629.6V646.8M105.3 628.7V646.1M105.5 629.1V646M105.7 628.8V645.3M105.8 628.6V644.6M106 628.3V645.3M106.2 627.8V644.9M106.4 627.8V644.2M106.6 628.2V644.1M106.7 627.7V643.9M106.9 628V643.2M107.1 627V643M107.3 627.4V641.5M107.4 626.8V642.2M107.6 626.8V641.4M107.8 626.9V640.9M108 626.3V640.9M108.1 625.9V639.9M108.3 625.9V640M108.5 625.1V639.6M108.7 624.7V638.8M108.8 624.8V639.3M109 624.6V638.8M109.2 624.5V638.6M109.4 624.2V638.3M109.5 624.2V638.3M109.7 624.5V637.7M109.9 623.6V638.1M110.1 623.1V637.2M110.3 622.3V637.4M110.4 623.1V637M110.6 622.7V637.3M110.8 622.5V636.9M111 622.6V636.3M111.1 622.2V636.1M111.3 620.8V636.1M111.5 621.5V635.2M111.7 621.3V636.2M111.8 620.6V634.5M112 620.1V634.7M112.2 620.2V635.4M112.4 619.6V635M112.5 620.2V633.7M112.7 619.7V634.5M112.9 618.9V634M113.1 619.6V634.2M113.2 619.4V633.6M113.4 618.9V633.9M113.6 618.4V633.9M113.8 618.6V633.5M114 618.2V633.6M114.1 618.7V633M114.3 618.7V632.3M114.8 618V632.7M617.8 545V560.8M618.3 544.8V560.7M618.8 545.5V560M619.3 545.3V560.3M619.8 545.6V560.2M620.3 546V560.6M620.8 546.1V560.1M621.3 545.4V560.5M621.8 545.3V560.4M622.3 545.8V561M622.8 545.3V560.6M623.3 545.5V560.5M623.8 545.4V560.7M623.9 545.6V560.9"/>
<path stroke-width="1.6" d="M114.8 613.2V639.8M115.3 613.2V638.9M115.8 612.6V637.8M116.3 612.6V638M116.8 612.9V637.3M117.3 612.5V636M117.8 611.9V636M118.3 612.1V635.3M118.8 611.3V635.2M119.3 611.2V634.2M119.8 610.8V633.9M120.3 610.7V633.6M120.8 610.5V632.3M121.3 610.3V632.5M121.8 609.3V632M122.3 609.2V631.6M122.8 609.7V631.9M123.3 609V631M123.8 608.9V630.6M124.3 609V630.8M124.8 608.8V629.2M125.3 608.4V629.6M125.8 607.9V629.1M126.3 607.6V629.2M126.8 606.9V629.1M127.3 606.9V628.7M127.8 606.6V628.7M128.3 606.6V629M128.8 606.6V628.5M129.3 606.4V626.9M129.8 605.3V627M130.3 605V626.6M130.8 605.1V626M131.3 604.8V625.8M131.8 604.9V625.7M132.3 604.9V625.6M132.8 604.8V625.8M133.3 604.7V625.5M133.8 604.8V624.4M134.3 604.1V624.7M134.8 603.5V624.4M135.3 603.4V624.2M135.8 602.8V623.8M136.3 602.8V623.3M136.8 603V623M137.3 602.5V622.6M137.8 601.8V622.6M138.3 601.8V622.6M138.8 601.8V622M139.3 602V622.3M139.8 601.7V621.2M140.3 600.9V621.2M140.8 600.7V621.3M141.3 600.5V621.1M141.8 601V621M142.3 600.8V621M142.8 600.7V620.5M143.3 600.2V620.7M143.8 600.2V619.6M144.3 600.2V619.1M144.8 599.6V619.1M145.3 599.2V619.1M145.8 599.3V619.2M146.3 599.4V619.2M146.8 598.4V618.8M147.3 598.6V618.8M147.8 598.6V617.8M148.3 598.4V618.6M148.8 598V618.1M149.3 598.1V618M149.8 597.8V618.2M150.3 597.6V617.6M150.8 597.2V617.2M151.3 597.6V617.4M151.8 597.5V616.9M152.3 597.4V617M152.8 597.6V616.3M153.3 597.3V616.5M153.8 596.8V616.2M154.3 597.1V616.3M154.8 597V616.3M155.3 595.7V616.3M155.8 595.6V615.9M156.3 595.7V615.6M156.8 595.8V615.6M157.3 596V615.6M157.8 595.8V614.6M158.3 595.9V614.6M158.8 595.8V614.6M159.3 595.6V614.5M159.8 595.5V614.8M160.3 594V614M160.8 594.5V614.2M161.3 594.8V614.3M161.8 594.8V614.1M162.3 594.6V614M162.8 594.3V613.7M163.3 593.7V612.9M163.8 593.4V612.9M164.3 593.3V612.9M164.8 593.7V612.8M165.3 593.6V613M165.8 593.4V612.6M166.3 593V612.2M166.8 593.4V612M167.3 592.7V612.1M167.8 592.5V612.6M168.3 592.4V612.2M168.8 592.4V612.6M169.3 592.4V612.4M169.8 592.9V612.2M170.3 592.6V611.3M170.8 592.8V611.3M171.3 592.5V611.8M171.8 591.5V611.8M172.3 591.8V611.4M172.8 592V610.8M173.3 591.8V610.9M173.8 591.8V610.6M174.3 591.6V610.6M174.8 591.5V610.8M175.3 591.5V610.9M175.8 591.3V610.7M176.3 591.6V610.1M176.8 591.5V610.2M177.3 591.7V610M177.8 591.2V610.2M178.3 590.7V610.1M178.8 590.4V610.2M179.3 590.4V609.5M179.8 590V609.4M180.3 590.2V609M180.8 590V609.1M181.3 590V609.2M181.8 589.6V608.9M182.3 588.8V608.6M182.8 589V608.2M183.3 589.3V608M183.8 589.5V608M184.3 589.3V608M184.8 589.4V607.8M185.3 589.4V607.5M185.8 589.4V608M186.3 588.7V608M186.8 588.8V607.4M187.3 588.7V607.4M187.8 588.4V607.4M188.3 588.8V607M188.8 588.7V606.9M189.3 588.4V606.5M189.8 588.4V606.6M190.3 588.3V606.4M190.8 588.1V606.2M191.3 587.4V606.3M191.8 587.4V606.1M192.3 587.4V606.1M192.8 587.4V606.3M193.3 587.3V605.9M193.8 587.1V606.1M194.3 587.2V605.2M194.8 587.2V605.6M195.3 586.7V605.5M195.8 586.7V605.2M196.3 586.7V605.6M196.8 586.8V605.3M197.3 586.7V605.7M197.8 586.6V605.3M198.3 586.4V605.3M198.8 585.6V605.3M199.3 585.9V605M199.8 585.7V605.1M200.3 585.5V604.4M200.8 585.2V604.3M201.3 585.4V604.2M201.8 585.6V604.3M202.3 585V603.5M202.8 585.1V603.8M203.3 585V603.3M203.8 584.8V602.8M204.3 584.1V602.8M204.8 584V602.6M205.3 584V603M205.8 584.1V602.7M206.3 584V602.6M206.8 584.2V602.5M207.3 583.9V602.5M207.8 584.2V602.5M208.3 583.4V602.1M208.8 583.6V602M209.3 583.2V602M209.8 583.5V602M210.3 582.9V601.9M210.8 583V602M211.3 583.1V602M211.8 582.9V601.6M212.3 582.8V601.6M212.8 582.6V601.1M213.3 582.9V601.2M213.8 582.6V601.5M214.3 582.8V601.5M214.8 582.4V601.5M215.3 582.2V601.8M215.8 582.3V601.4M216.3 582.2V600.6M216.8 582.3V600.9M217.3 582.1V600.7M217.8 582.2V600.1M218.3 581.9V600.4M218.8 582.1V600.2M219.3 581.9V600M219.8 581.9V599.4M220.3 581.2V599.4M220.8 580.9V599.3M221.3 581.1V599.2M221.8 581.1V599.2M222.3 580.5V599.2M222.8 580.5V599.4M223.3 580.4V599.3M223.8 580.5V599.4M224.3 580.3V599.4M224.8 580.2V599.5M225.3 580.6V598.8M225.8 580.6V598.5M226.3 580.1V598.8M226.8 579.9V598.8M227.3 580.3V598.4M227.8 580V598.8M228.3 579.9V597.9M228.8 579.2V597.7M229.3 579.4V597.8M229.8 579.7V597.8M230.3 579.7V597.6M230.8 579.7V597.4M231.3 579.5V597.5M231.8 579.9V597.6M232.3 579.9V597.4M232.8 579.8V597.3M233.3 579.6V597.3M233.8 579.3V597.5M234.3 579.3V597.4M234.8 579.2V597.5M235.3 579.2V597.4M235.8 579V597.8M236.3 579.2V597.2M236.8 579V597.3M237.3 579V597.3M237.8 578.5V597M238.3 578.5V596.5M238.8 578.2V596.5M239.3 578.6V596.3M239.8 578.6V596.9M240.3 578.5V596.5M240.8 577.6V596.5M241.3 577.5V596.2M241.8 577.6V596.3M242.3 577.7V596.2M242.8 577.7V596.1M243.3 577.2V595.7M243.8 577.7V595.8M244.3 577.8V595.7M244.8 577.3V596M245.3 577.3V596.2M245.8 577.4V595.9M246.3 577.2V596.1M246.8 577.2V596M247.3 577.2V595M247.8 577.2V594.9M248.3 577.2V594.8M248.8 577V594.9M249.3 577V594.8M249.8 576.9V594.8M250.3 577V595M250.8 576.7V594.9M251.3 576.3V595.3M251.8 576.8V594.7M252.3 576.4V594.9M252.8 576.5V595M253.3 576.6V594.3M253.8 576.3V594.5M254.3 576.4V594.6M254.8 576.3V594.5M255.3 575.7V593.9M255.8 575.9V593.9M256.3 576V594.2M256.8 575.9V593.6M257.3 575.7V593.7M257.8 576V594M258.3 576V593.6M258.8 575.7V593.6M259.3 575.7V593.2M259.8 575.6V593.2M260.3 575.6V593.5M260.8 575.8V593.2M261.3 575.8V593.1M261.8 575.2V593.5M262.3 575.7V593.2M262.8 575.2V593.2M263.3 574.9V592.6M263.8 575V592.6M264.3 575.1V592.5M264.8 575.1V592.5M265.3 574.9V592.4M265.8 574.6V592.3M266.3 574.7V592.3M266.8 575.1V592M267.3 574.8V592.1M267.8 574.7V592M268.3 574.5V592M268.8 574.6V592.1M269.3 574.7V592.2M269.8 574.7V592.2M270.3 574.8V592.4M270.8 574.3V592.2M271.3 574.1V592M271.8 573.8V591.6M272.3 574V591.4M272.8 574V591.6M273.3 574.2V591.4M273.8 574.1V591.4M274.3 573.8V591.3M274.8 573.6V591.3M275.3 573.8V591.3M275.8 572.6V591.6M276.3 573.3V591.8M276.8 573.1V591.6M277.3 573.4V591.5M277.8 573.3V590.8M278.3 573.2V591M278.8 572.9V590.7M279.3 573.1V590.7M279.8 573.2V590.7M280.3 573.1V590.4M280.8 573V590.2M281.3 573.1V590.3M281.8 573V590.1M282.3 572.6V590M282.8 573.1V590M283.3 572.6V590.1M283.8 572V590.2M284.3 571.8V590.1M284.8 572.4V590.2M285.3 572.4V589.3M285.8 572.5V589.3M286.3 572.3V589.1M286.8 571.8V589.5M287.3 571.8V589.4M287.8 571.8V589.3M288.3 572V589M288.8 572V588.9M289.3 571.6V589M289.8 571.4V589.2M290.3 571.5V589.4M290.8 571.4V589.6M291.3 570.9V589.2M291.8 571.3V589.3M292.3 571.2V589.1M292.8 571.5V589M293.3 571.5V589M293.8 571.4V588.8M294.3 571.4V588.4M294.8 571.4V588.5M295.3 571.4V588.4M295.8 571.4V588.2M296.3 570.9V588.4M296.8 571V588.5M297.3 570.9V587.7M297.8 570.9V587.8M298.3 571.1V587.6M298.8 570.7V587.4M299.3 570.6V587.5M299.8 570V587.3M300.3 570V587.2M300.8 570V587.3M301.3 569.9V587M301.8 569.9V587M302.3 569.7V587.2M302.8 569.9V587.5M303.3 569.8V587.5M303.8 569.3V587.3M304.3 569.1V587.6M304.8 569.1V587.6M305.3 568.8V587.9M305.8 569V587.4M306.3 569.1V587.5M306.8 569.6V587.1M307.3 569.4V587.2M307.8 569.6V587.2M308.3 569.5V587.1M308.8 569.6V586.8M309.3 569.2V586.9M309.8 568.9V586.5M310.3 569V586.5M310.8 568.8V586.7M311.3 568.4V586.6M311.8 568.8V586.3M312.3 568.3V586.7M312.8 568.3V585.8M313.3 568.5V586M313.8 568.2V586M314.3 568.6V586.4M314.8 568.6V586.2M315.3 568.3V585.8M315.8 568.2V585.8M316.3 568.6V585.6M316.8 568.2V585.4M317.3 567.7V585.3M317.8 567.6V584.7M318.3 567.2V584.7M318.8 567.3V584.7M319.3 567.6V584.7M319.8 567.7V584.7M320.3 567.5V584.5M320.8 567.7V584.5M321.3 566.9V584.6M321.8 566.7V584.7M322.3 566.7V584.7M322.8 567.3V584.1M323.3 567.2V583.9M323.8 566.8V583.7M324.3 566.5V583.7M324.8 566.6V583.6M325.3 566.2V583.8M325.8 566.5V583.7M326.3 566.3V583.5M326.8 566.3V583.8M327.3 566.1V583.8M327.8 566.3V583.6M328.3 566.2V583.8M328.8 566.3V583.2M329.3 565.9V583.1M329.8 565.8V583M330.3 566.1V582.8M330.8 565.7V583.3M331.3 565.8V583.4M331.8 565.8V583.2M332.3 565.9V583.2M332.8 566.1V583.2M333.3 566.1V583.2M333.8 566.1V583.5M334.3 565.7V583.5M334.8 565.6V583.4M335.3 565.8V582.8M335.8 565.6V582.6M336.3 565.5V582.4M336.8 564.6V582.5M337.3 564.6V582.4M337.8 564.6V582.5M338.3 564.8V582.1M338.8 564.3V581.8M339.3 564.5V582M339.8 564.5V582.1M340.3 564.4V581.9M340.8 565V581.9M341.3 565V582.1M341.8 564.7V581.9M342.3 564.8V581.8M342.8 564.7V581.7M343.3 564.7V581.5M343.8 564.4V581.6M344.3 563.9V581.7M344.8 564V581.5M345.3 563.7V581.2M345.8 563.4V581.2M346.3 563.8V581.4M346.8 563.8V581.2M347.3 564.1V580.9M347.8 564V580.8M348.3 563.9V580.9M348.8 564V580.9M349.3 563.9V581M349.8 563.9V580.9M350.3 563.6V580.9M350.8 564V580.9M351.3 563.5V581M351.8 563.5V581M352.3 563.7V581.1M352.8 563.9V581.5M353.3 563.7V581.4M353.8 563.5V581.6M354.3 563.4V580.9M354.8 563.1V581M355.3 563.2V581.2M355.8 563.3V581.1M356.3 562.9V580.7M356.8 562.9V580.5M357.3 563.2V580.4M357.8 562.5V580.6M358.3 562.8V580.7M358.8 563V580.4M359.3 562.6V579.8M359.8 562.4V579.6M360.3 562.7V580M360.8 562.8V579.8M361.3 562.7V579.8M361.8 562.6V580.1M362.3 562V580M362.8 561.9V580.2M363.3 561.9V579.5M363.8 562.2V579.4M364.3 562.2V579.4M364.8 562.3V579.3M365.3 562.3V579.4M365.8 562.5V579.2M366.3 561.9V579.3M366.8 562V579.5M367.3 561.9V579.6M367.8 562.1V580M368.3 562.5V580.2M368.8 562.2V579.8M369.3 562.4V579.5M369.8 562.4V579.9M370.3 562.1V578.9M370.8 562V578.5M371.3 562.1V578.9M371.8 561.6V578.9M372.3 561.8V579.2M372.8 561.6V579.1M373.3 561.6V578.9M373.8 561.4V579.3M374.3 561.1V578.1M374.8 561.4V577.9M375.3 561V577.9M375.8 561.4V578M376.3 561.5V578.3M376.8 561.2V577.8M377.3 561.4V577.8M377.8 560.8V577.8M378.3 560.8V577.9M378.8 560.9V578.1M379.3 561.1V578.2M379.8 560.9V577.8M380.3 561.1V577.7M380.8 560.9V577.8M381.3 560.9V577.7M381.8 560.8V578M382.3 560.9V577.7M382.8 561V577.7M383.3 561V577.8M383.8 560.9V577.7M384.3 560.6V577.8M384.8 560V578.1M385.3 560.2V577.7M385.8 560.5V578M386.3 561V577.3M386.8 561V577.2M387.3 560.8V577M387.8 560.8V577.3M388.3 560.7V577.4M388.8 560.4V577.1M389.3 560.7V577.2M389.8 560.5V577.2M390.3 560.5V577.1M390.8 560.2V577M391.3 560.1V577.2M391.8 559.9V577.1M392.3 560.1V576.5M392.8 560.2V576.5M393.3 560.2V576.6M393.8 559.8V576.7M394.3 560.2V576.9M394.8 560.2V576.9M395.3 560V576.9M395.8 559.9V576.7M396.3 559.5V577.3M396.8 559.2V576.9M397.3 559.1V576.9M397.8 559.1V576.7M398.3 558.9V576.5M398.8 558.8V575.8M399.3 558.8V576.2M399.8 558.6V576.6M400.3 558.9V576.2M400.8 559V576M401.3 559V576.2M401.8 559.4V576M402.3 559.4V576.2M402.8 559.1V576M403.3 559.2V576.3M403.8 559.2V576.4M404.3 559.1V576.3M404.8 559.2V576M405.3 558.7V575.8M405.8 558.8V575.9M406.3 558.1V575.7M406.8 558.1V575.8M407.3 557.9V576.1M407.8 558.1V576.1M408.3 558V575.6M408.8 558.4V575.4M409.3 558.5V575.4M409.8 557.8V575.7M410.3 557.5V576M410.8 557.6V575.9M411.3 557.7V575.7M411.8 557.6V575M412.3 557.6V575.2M412.8 557.5V575.5M413.3 557.4V575M413.8 557.3V575.2M414.3 557.3V575.6M414.8 557.3V575.6M415.3 557.9V575.6M415.8 558.1V575.6M416.3 558.3V575.4M416.8 558.1V575.3M417.3 558.4V575.2M417.8 557.9V575.1M418.3 557.5V575.3M418.8 557.9V575.2M419.3 557.9V575.5M419.8 557.6V575.5M420.3 557.7V575.6M420.8 557.5V575.2M421.3 557.7V574.7M421.8 557.4V574.9M422.3 557.6V575.1M422.8 557.4V574.7M423.3 557.3V574.6M423.8 557.1V575M424.3 556.7V575.3M424.8 556.5V574.5M425.3 556.8V574.5M425.8 557.1V574.8M426.3 557.3V574.8M426.8 557.1V574.7M427.3 556.9V574.6M427.8 557.4V574.3M428.3 557V574.1M428.8 556.3V574M429.3 556.4V574.1M429.8 556.5V574.1M430.3 556.5V574.2M430.8 556.7V574.2M431.3 557V574.2M431.8 557V574.2M432.3 556.8V574.3M432.8 556.7V574.9M433.3 556.9V574.6M433.8 556.4V574.5M434.3 556.5V574.6M434.8 556.5V574.6M435.3 556.5V574.3M435.8 556.2V574.5M436.3 556.4V574.4M436.8 556.5V574.3M437.3 556.3V574.3M437.8 556.5V573.5M438.3 556.5V573.5M438.8 556.3V573.9M439.3 556.5V573.5M439.8 556.5V573.5M440.3 556.4V573.5M440.8 556.3V573.5M441.3 556.3V573.3M441.8 556.2V573.5M442.3 556.4V573.3M442.8 556.5V573.6M443.3 556.4V573.2M443.8 556.3V573.2M444.3 556.2V573.1M444.8 556.1V573.6M445.3 556.2V573.3M445.8 556.3V573.2M446.3 556.1V573.1M446.8 555.6V573.3M447.3 555.7V572.9M447.8 555.6V572.8M448.3 555.5V572.8M448.8 555.7V572.9M449.3 555.7V572.9M449.8 555.5V573M450.3 555.5V572.5M450.8 555.4V572.4M451.3 555.2V572.3M451.8 555.5V573.1M452.3 555.5V573M452.8 555.5V573.3M453.3 555.2V573.6M453.8 554.9V573.1M454.3 554.9V573.1M454.8 555.5V573.1M455.3 555.4V573.1M455.8 555.4V573M456.3 555.3V572.6M456.8 555.4V572.6M457.3 555V572.7M457.8 554.8V572.4M458.3 555V572.4M458.8 555V572.1M459.3 555V572.5M459.8 554.9V572.2M460.3 555V572M460.8 554.9V572.5M461.3 555.1V572.3M461.8 555V572.4M462.3 554.8V572.4M462.8 554.9V572.4M463.3 554.8V572.3M463.8 554.5V572.4M464.3 554.7V572.3M464.8 554.5V571.5M465.3 554.7V572M465.8 554.6V572.3M466.3 554.6V571.8M466.8 554.7V571.4M467.3 554.3V571.5M467.8 554.1V571.6M468.3 554.2V571.5M468.8 554V571.4M469.3 553.4V571.3M469.8 553.5V571.2M470.3 554.2V570.9M470.8 554V571M471.3 554.1V570.9M471.8 554.1V570.9M472.3 554.2V570.8M472.8 554.1V571M473.3 553.8V570.7M473.8 553.7V571.2M474.3 553.8V570.9M474.8 553.5V570.9M475.3 553.7V570.9M475.8 553.4V571.2M476.3 553.5V570.7M476.8 553V570.8M477.3 553.2V570.5M477.8 553V570.6M478.3 552.8V570.7M478.8 552.9V570.4M479.3 552.8V570.5M479.8 552.7V570.6M480.3 552.7V570.5M480.8 552.8V570.2M481.3 552.5V570.1M481.8 552.4V570.1M482.3 553V570.2M482.8 553V569.9M483.3 553.2V570.2M483.8 553.1V570.4M484.3 553.2V570.3M484.8 552.9V570.2M485.3 552.9V569.9M485.8 553.3V569.9M486.3 553V570M486.8 553.1V569.9M487.3 553V569.7M487.8 553.1V569.8M488.3 552.9V570M488.8 552.8V570.4M489.3 553.1V570.2M489.8 553.1V569.8M490.3 552.7V569.8M490.8 552.9V569.9M491.3 552.5V570M491.8 552.8V569.7M492.3 552.2V569.2M492.8 552.2V569.2M493.3 552.2V569.1M493.8 551.7V569M494.3 552.2V568.9M494.8 551.7V569M495.3 551.5V569M495.8 551.6V568.9M496.3 551.8V568.6M496.8 552.2V568.5M497.3 552V568.7M497.8 552.1V568.5M498.3 552V568.4M498.8 551.8V568.8M499.3 552.2V569M499.8 552V569.4M500.3 552.2V568.9M500.8 552.1V568.8M501.3 552.3V568.3M501.8 552.1V568.5M502.3 552V568.7M502.8 551.6V568.5M503.3 551.8V568.3M503.8 551.7V568.5M504.3 551.8V568.3M504.8 551.8V568.5M505.3 551.5V568.9M505.8 551.2V568.6M506.3 551.3V568.5M506.8 551.4V568.3M507.3 551V568.3M507.8 551.3V568.3M508.3 551V567.9M508.8 550.9V568.1M509.3 551.2V568.3M509.8 550.4V568.3M510.3 550.2V568.4M510.8 550.4V568.6M511.3 550.2V568.6M511.8 550.3V568.2M512.3 550.5V567.8M512.8 550.1V567.8M513.3 550V567.8M513.8 550.4V567.8M514.3 550.5V567.6M514.8 550.1V567.4M515.3 550.1V567.5M515.8 550V567.5M516.3 550.3V567.6M516.8 550.2V567.6M517.3 550.2V567.8M517.8 550.1V567.5M518.3 550.3V567.3M518.8 550.6V567.1M519.3 550.5V567.3M519.8 550.4V567.2M520.3 550.3V567.2M520.8 550.3V567.4M521.3 550.2V567.2M521.8 550.5V567.2M522.3 550.2V567.5M522.8 550.2V567.3M523.3 550.3V567M523.8 550.2V567.2M524.3 549.8V566.8M524.8 549.7V567M525.3 549.5V567M525.8 549.7V566.9M526.3 550.1V566.3M526.8 549.9V566.3M527.3 550.2V566.3M527.8 550.2V566.4M528.3 550V566.2M528.8 549.8V566.1M529.3 550V566.4M529.8 549.7V566.5M530.3 549.6V566.1M530.8 549.2V566M531.3 549.7V565.8M531.8 549.8V566.1M532.3 549.8V566M532.8 550V566.2M533.3 549.7V565.7M533.8 550.3V565.7M534.3 550V565.9M534.8 550.1V565.9M535.3 550V566M535.8 549.6V565.7M536.3 549.5V565.9M536.8 549.4V565.9M537.3 549.5V565.8M537.8 549.5V565.8M538.3 549.6V565.9M538.8 549.1V566.2M539.3 549V566.1M539.8 548.9V566.5M540.3 548.9V565.9M540.8 549.3V565.9M541.3 549.8V565.9M541.8 549.7V565.9M542.3 549.8V565.9M542.8 549V565.9M543.3 549.3V566.2M543.8 549.2V566M544.3 549.1V565.9M544.8 549.2V565.6M545.3 549.3V565.7M545.8 548.9V566M546.3 549.1V565.6M546.8 548.9V566.3M547.3 548.8V566M547.8 549.1V565.7M548.3 549.3V565.7M548.8 548.6V565.5M549.3 547.9V565.7M549.8 548.5V565.8M550.3 548.4V565.6M550.8 548.5V565.8M551.3 548.6V565.5M551.8 548.7V565.9M552.3 548.7V565.2M552.8 548.7V565.3M553.3 548.7V565.2M553.8 548.6V564.8M554.3 548.8V564.8M554.8 548.6V564.8M555.3 548.4V565.1M555.8 548.7V565.4M556.3 548.6V565.2M556.8 548.4V564.9M557.3 548.1V565.2M557.8 548.5V564.9M558.3 548.4V565M558.8 548.1V565.1M559.3 548.2V564.8M559.8 548.5V564.5M560.3 548.3V564.3M560.8 548.1V564.3M561.3 548.4V564.3M561.8 548.1V564.2M562.3 548V564.6M562.8 548.3V564.6M563.3 548.1V564.8M563.8 548V564.7M564.3 548.2V564.7M564.8 547.8V564.6M565.3 547.4V564.4M565.8 547.6V564M566.3 547.5V563.6M566.8 547.5V563.9M567.3 547.7V563.7M567.8 547.4V564M568.3 547.5V563.7M568.8 547.3V564.1M569.3 546.7V563.8M569.8 546.6V563.8M570.3 546.9V563.8M570.8 546.5V563.8M571.3 546.3V564.1M571.8 546.5V564M572.3 546.6V564M572.8 546.7V564M573.3 546.6V564M573.8 546.7V564.2M574.3 546.9V563.5M574.8 546.7V563.4M575.3 546.6V563.3M575.8 546.8V563.1M576.3 546.9V563.6M576.8 546.8V563.1M577.3 546.7V563.3M577.8 546.7V563.4M578.3 546.3V563.2M578.8 546.4V563.5M579.3 546.6V563.4M579.8 546.5V563.3M580.3 546.6V563.7M580.8 546.7V563.5M581.3 546.3V563.7M581.8 546.8V563.6M582.3 546.6V563.6M582.8 546.4V563.3M583.3 546.9V563.1M583.8 546.9V563.3M584.3 546.7V563.4M584.8 546.6V563.1M585.3 546.4V563.2M585.8 546.3V562.9M586.3 546.6V563.2M586.8 546.3V563M587.3 546.2V563M587.8 546.1V562.9M588.3 546.6V562.4M588.8 546.4V562.7M589.3 546.4V562.8M589.8 546.5V562.7M590.3 546.4V562.7M590.8 546.6V562.4M591.3 546.5V562.2M591.8 546.4V562.4M592.3 546.3V562.3M592.8 546.4V562.3M593.3 546.4V562.2M593.8 546.4V562.3M594.3 546.1V562.3M594.8 546.1V562.3M595.3 546V562.3M595.8 546.2V562.3M596.3 546.2V562.3M596.8 546V562.3M597.3 546.3V562.4M597.8 546.4V562.3M598.3 546.5V562.4M598.8 546.4V562.7M599.3 546.2V562.4M599.8 546V562.5M600.3 545.9V562.1M600.8 546.2V561.9M601.3 546.3V562M601.8 546.4V562.3M602.3 546.3V562.3M602.8 546.2V562M603.3 546V562.2M603.8 546.3V562.3M604.3 546.1V562M604.8 546V561.8M605.3 545.7V562.1M605.8 545.5V562.2M606.3 546V561.9M606.8 545.7V561.9M607.3 545.8V561.8M607.8 545.7V561.9M608.3 545.7V561.7M608.8 545.6V561.7M609.3 545.5V561.8M609.8 545.7V561.7M610.3 545.3V561.9M610.8 545V562M611.3 544.9V561.8M611.8 545.2V561.6M612.3 545.2V561.7M612.8 545.3V562.2M613.3 545.3V561.9M613.8 545.1V561.6M614.3 545.1V561.8M614.8 545.2V562.1M615.3 545.2V561.3M615.8 545.3V561.5M616.3 545V561.3M616.8 544.9V561.6M617.3 544.9V561.5M617.8 545.1V561M618.3 545.1V561.1M618.8 545.2V561.7M619.3 545.3V561.2M619.8 545V560.7M620.3 545.4V560.7M620.8 545.3V560.6M621.3 545V560.6"/>
<path stroke-width="4" d="M95.1 734.9V741.7M95.3 713V718M95.5 700.5V708.5M88.6 736.9h13M88.6 739.7h13M88.8 715h13M88.8 716h13M89 702.5h13M89 706.5h13M613.3 547.6h13M613.3 558.2h13M613.8 548h13M613.8 558.6h13M614.3 548.1h13M614.3 558.1h13M614.8 547.4h13M614.8 558.5h13M615.3 547.3h13M615.3 558.4h13M615.8 547.8h13M615.8 559h13M616.3 547.3h13M616.3 558.6h13M616.8 547.5h13M616.8 558.5h13M617.3 547.4h13M617.3 558.7h13M617.4 547.6h13M617.4 558.9h13M88.7 731.9l12.8 12.8m-12.8 0l12.8 -12.8M88.9 709.1l12.8 12.8m-12.8 0l12.8 -12.8M89.1 698.1l12.8 12.8m-12.8 0l12.8 -12.8M89.2 690.6l12.8 12.8m-12.8 0l12.8 -12.8M89.4 684.6l12.8 12.8m-12.8 0l12.8 -12.8M89.6 679.6l12.8 12.8m-12.8 0l12.8 -12.8M89.8 675.6l12.8 12.8m-12.8 0l12.8 -12.8M89.9 671.6l12.8 12.8m-12.8 0l12.8 -12.8M90.1 668.3l12.8 12.8m-12.8 0l12.8 -12.8M90.3 664.9l12.8 12.8m-12.8 0l12.8 -12.8M90.5 661.6l12.8 12.8m-12.8 0l12.8 -12.8M90.6 657.9l12.8 12.8m-12.8 0l12.8 -12.8M90.8 654.1l12.8 12.8m-12.8 0l12.8 -12.8M91 650.4l12.8 12.8m-12.8 0l12.8 -12.8M91.2 646.7l12.8 12.8m-12.8 0l12.8 -12.8M91.3 645.9l12.8 12.8m-12.8 0l12.8 -12.8M91.5 645.1l12.8 12.8m-12.8 0l12.8 -12.8M91.7 644.5l12.8 12.8m-12.8 0l12.8 -12.8M91.9 643.7l12.8 12.8m-12.8 0l12.8 -12.8M92 643.3l12.8 12.8m-12.8 0l12.8 -12.8M92.2 642.8l12.8 12.8m-12.8 0l12.8 -12.8M92.4 642.4l12.8 12.8m-12.8 0l12.8 -12.8M92.6 642l12.8 12.8m-12.8 0l12.8 -12.8M92.8 641.8l12.8 12.8m-12.8 0l12.8 -12.8M92.9 641.2l12.8 12.8m-12.8 0l12.8 -12.8M93.1 640.4l12.8 12.8m-12.8 0l12.8 -12.8M93.3 640l12.8 12.8m-12.8 0l12.8 -12.8M93.5 639.8l12.8 12.8m-12.8 0l12.8 -12.8M93.6 639.2l12.8 12.8m-12.8 0l12.8 -12.8M93.8 639l12.8 12.8m-12.8 0l12.8 -12.8M94 638.5l12.8 12.8m-12.8 0l12.8 -12.8M94.2 638.4l12.8 12.8m-12.8 0l12.8 -12.8M94.3 637.8l12.8 12.8m-12.8 0l12.8 -12.8M94.5 637.6l12.8 12.8m-12.8 0l12.8 -12.8M94.7 636.9l12.8 12.8m-12.8 0l12.8 -12.8M94.9 636.6l12.8 12.8m-12.8 0l12.8 -12.8M95 635.8l12.8 12.8m-12.8 0l12.8 -12.8M95.2 635.6l12.8 12.8m-12.8 0l12.8 -12.8M95.4 635.6l12.8 12.8m-12.8 0l12.8 -12.8M95.6 635l12.8 12.8m-12.8 0l12.8 -12.8M95.7 635.1l12.8 12.8m-12.8 0l12.8 -12.8M95.9 634.4l12.8 12.8m-12.8 0l12.8 -12.8M96.1 634.8l12.8 12.8m-12.8 0l12.8 -12.8M96.3 634l12.8 12.8m-12.8 0l12.8 -12.8M96.5 634.4l12.8 12.8m-12.8 0l12.8 -12.8M96.6 634.3l12.8 12.8m-12.8 0l12.8 -12.8M96.8 634l12.8 12.8m-12.8 0l12.8 -12.8M97 633.7l12.8 12.8m-12.8 0l12.8 -12.8M97.2 633.7l12.8 12.8m-12.8 0l12.8 -12.8M97.3 632.9l12.8 12.8m-12.8 0l12.8 -12.8M97.5 633.3l12.8 12.8m-12.8 0l12.8 -12.8M97.7 632.5l12.8 12.8m-12.8 0l12.8 -12.8M97.9 632.6l12.8 12.8m-12.8 0l12.8 -12.8M98 632.6l12.8 12.8m-12.8 0l12.8 -12.8M98.2 631.7l12.8 12.8m-12.8 0l12.8 -12.8M98.4 632l12.8 12.8m-12.8 0l12.8 -12.8M98.6 631.8l12.8 12.8m-12.8 0l12.8 -12.8M98.7 631.8l12.8 12.8m-12.8 0l12.8 -12.8M98.9 631l12.8 12.8m-12.8 0l12.8 -12.8M99.1 631.1l12.8 12.8m-12.8 0l12.8 -12.8M99.3 630.7l12.8 12.8m-12.8 0l12.8 -12.8M99.4 630.2l12.8 12.8m-12.8 0l12.8 -12.8M99.6 630.4l12.8 12.8m-12.8 0l12.8 -12.8M99.8 629.9l12.8 12.8m-12.8 0l12.8 -12.8M100 629.6l12.8 12.8m-12.8 0l12.8 -12.8M100.2 629.7l12.8 12.8m-12.8 0l12.8 -12.8M100.3 629.4l12.8 12.8m-12.8 0l12.8 -12.8M100.5 629.2l12.8 12.8m-12.8 0l12.8 -12.8M100.7 628.6l12.8 12.8m-12.8 0l12.8 -12.8M100.9 628l12.8 12.8m-12.8 0l12.8 -12.8M101 628.1l12.8 12.8m-12.8 0l12.8 -12.8M101.2 627.7l12.8 12.8m-12.8 0l12.8 -12.8M101.4 627.5l12.8 12.8m-12.8 0l12.8 -12.8M101.6 627.2l12.8 12.8m-12.8 0l12.8 -12.8M101.7 626.5l12.8 12.8m-12.8 0l12.8 -12.8M101.9 626.6l12.8 12.8m-12.8 0l12.8 -12.8M102.1 625.9l12.8 12.8m-12.8 0l12.8 -12.8M102.3 625.3l12.8 12.8m-12.8 0l12.8 -12.8M102.4 625.6l12.8 12.8m-12.8 0l12.8 -12.8M102.6 625.3l12.8 12.8m-12.8 0l12.8 -12.8M102.8 625.1l12.8 12.8m-12.8 0l12.8 -12.8M103 624.8l12.8 12.8m-12.8 0l12.8 -12.8M103.1 624.8l12.8 12.8m-12.8 0l12.8 -12.8M103.3 624.7l12.8 12.8m-12.8 0l12.8 -12.8M103.5 624.5l12.8 12.8m-12.8 0l12.8 -12.8M103.7 623.7l12.8 12.8m-12.8 0l12.8 -12.8M103.9 623.5l12.8 12.8m-12.8 0l12.8 -12.8M104 623.7l12.8 12.8m-12.8 0l12.8 -12.8M104.2 623.6l12.8 12.8m-12.8 0l12.8 -12.8M104.4 623.3l12.8 12.8m-12.8 0l12.8 -12.8M104.6 623l12.8 12.8m-12.8 0l12.8 -12.8M104.7 622.7l12.8 12.8m-12.8 0l12.8 -12.8M104.9 622l12.8 12.8m-12.8 0l12.8 -12.8M105.1 621.9l12.8 12.8m-12.8 0l12.8 -12.8M105.3 622.3l12.8 12.8m-12.8 0l12.8 -12.8M105.4 621.2l12.8 12.8m-12.8 0l12.8 -12.8M105.6 621l12.8 12.8m-12.8 0l12.8 -12.8M105.8 621.4l12.8 12.8m-12.8 0l12.8 -12.8M106 620.9l12.8 12.8m-12.8 0l12.8 -12.8M106.1 620.6l12.8 12.8m-12.8 0l12.8 -12.8M106.3 620.7l12.8 12.8m-12.8 0l12.8 -12.8M106.5 620l12.8 12.8m-12.8 0l12.8 -12.8M106.7 620.5l12.8 12.8m-12.8 0l12.8 -12.8M106.8 620.1l12.8 12.8m-12.8 0l12.8 -12.8M107 620l12.8 12.8m-12.8 0l12.8 -12.8M107.2 619.7l12.8 12.8m-12.8 0l12.8 -12.8M107.4 619.6l12.8 12.8m-12.8 0l12.8 -12.8M107.6 619.5l12.8 12.8m-12.8 0l12.8 -12.8M107.7 619.4l12.8 12.8m-12.8 0l12.8 -12.8M107.9 619.1l12.8 12.8m-12.8 0l12.8 -12.8M615.4 546.5l12.8 12.8m-12.8 0l12.8 -12.8M615.9 547l12.8 12.8m-12.8 0l12.8 -12.8M616.4 546.5l12.8 12.8m-12.8 0l12.8 -12.8M616.9 546.6l12.8 12.8m-12.8 0l12.8 -12.8M617.4 546.6l12.8 12.8m-12.8 0l12.8 -12.8M617.5 546.8l12.8 12.8m-12.8 0l12.8 -12.8"/>
</g>
<rect x="104.9" y="49.2" width="518.9" height="339.8" fill="none" stroke="#000" stroke-width="2.5"/>
<rect x="95.0" y="441.4" width="528.6" height="365.0" fill="none" stroke="#000" stroke-width="2.5"/>
<text x="89.3" y="57.2" font-family="Liberation Sans, sans-serif" font-size="24" text-anchor="end">40</text>
<text x="89.3" y="136.3" font-family="Liberation Sans, sans-serif" font-size="24" text-anchor="end">35</text>
<text x="89.3" y="215.5" font-family="Liberation Sans, sans-serif" font-size="24" text-anchor="end">30</text>
<text x="89.3" y="294.6" font-family="Liberation Sans, sans-serif" font-size="24" text-anchor="end">25</text>
<text x="89.3" y="373.7" font-family="Liberation Sans, sans-serif" font-size="24" text-anchor="end">20</text>
<text x="78.6" y="449.8" font-family="Liberation Sans, sans-serif" font-size="24" text-anchor="end">0.5</text>
<text x="78.6" y="522.8" font-family="Liberation Sans, sans-serif" font-size="24" text-anchor="end">0.4</text>
<text x="78.6" y="595.8" font-family="Liberation Sans, sans-serif" font-size="24" text-anchor="end">0.3</text>
<text x="78.6" y="668.8" font-family="Liberation Sans, sans-serif" font-size="24" text-anchor="end">0.2</text>
<text x="78.6" y="741.8" font-family="Liberation Sans, sans-serif" font-size="24" text-anchor="end">0.1</text>
<text x="78.6" y="814.8" font-family="Liberation Sans, sans-serif" font-size="24" text-anchor="end">0</text>
<text x="98.1" y="839.8" font-family="Liberation Sans, sans-serif" font-size="24" text-anchor="middle">0</text>
<text x="186.2" y="839.8" font-family="Liberation Sans, sans-serif" font-size="24" text-anchor="middle">500</text>
<text x="274.3" y="839.8" font-family="Liberation Sans, sans-serif" font-size="24" text-anchor="middle">1000</text>
<text x="362.4" y="839.8" font-family="Liberation Sans, sans-serif" font-size="24" text-anchor="middle">1500</text>
<text x="450.5" y="839.8" font-family="Liberation Sans, sans-serif" font-size="24" text-anchor="middle">2000</text>
<text x="538.6" y="839.8" font-family="Liberation Sans, sans-serif" font-size="24" text-anchor="middle">2500</text>
<text x="626.7" y="839.8" font-family="Liberation Sans, sans-serif" font-size="24" text-anchor="middle">3000</text>
<text x="364.2" y="22.5" font-family="Liberation Serif, serif" stroke="#000" stroke-width="0.25" font-size="31.5" text-anchor="middle" textLength="246.5" lengthAdjust="spacingAndGlyphs">Knotted AOTCase</text>
<text x="359.6" y="878.7" font-family="Liberation Serif, serif" stroke="#000" stroke-width="0.25" font-size="29" text-anchor="middle" textLength="102.6" lengthAdjust="spacingAndGlyphs">MC time</text>
<text transform="translate(27.1,221.7) rotate(-90)" font-family="Liberation Serif, serif" stroke="#000" stroke-width="0.25" font-size="29.6" text-anchor="middle" textLength="228" lengthAdjust="spacingAndGlyphs">Gyration radius [Å]</text>
<text transform="translate(26.9,627) rotate(-90)" font-family="Liberation Serif, serif" stroke="#000" stroke-width="0.25" font-size="31.7" text-anchor="middle" textLength="333" lengthAdjust="spacingAndGlyphs">Fraction of native contacts</text>
<text x="520.4" y="125.6" font-family="Liberation Serif, serif" stroke="#000" stroke-width="0.25" font-size="31" text-anchor="end">only native</text>
<line x1="534.3" y1="115.2" x2="610.8" y2="115.2" stroke="#ff0000" stroke-width="4"/>
<line x1="536.3" y1="108.7" x2="536.3" y2="121.7" stroke="#ff0000" stroke-width="4"/>
<line x1="608.8" y1="108.7" x2="608.8" y2="121.7" stroke="#ff0000" stroke-width="4"/>
<path d="M566.1,108.8 L578.9,121.6 M566.1,121.6 L578.9,108.8" stroke="#ff0000" stroke-width="4" fill="none"/>
<text x="520.4" y="162.3" font-family="Liberation Serif, serif" stroke="#000" stroke-width="0.25" font-size="31" text-anchor="end">with non−native</text>
<line x1="534.3" y1="152.5" x2="610.8" y2="152.5" stroke="#0000ff" stroke-width="4"/>
<line x1="536.3" y1="146.0" x2="536.3" y2="159.0" stroke="#0000ff" stroke-width="4"/>
<line x1="608.8" y1="146.0" x2="608.8" y2="159.0" stroke="#0000ff" stroke-width="4"/>
<path d="M566.1,146.1 L578.9,158.9 M566.1,158.9 L578.9,146.1" stroke="#0000ff" stroke-width="4" fill="none"/>
<text x="520.4" y="652.5" font-family="Liberation Serif, serif" stroke="#000" stroke-width="0.25" font-size="31" text-anchor="end">only native</text>
<line x1="534.3" y1="642.4" x2="610.8" y2="642.4" stroke="#ff0000" stroke-width="4"/>
<line x1="536.3" y1="635.9" x2="536.3" y2="648.9" stroke="#ff0000" stroke-width="4"/>
<line x1="608.8" y1="635.9" x2="608.8" y2="648.9" stroke="#ff0000" stroke-width="4"/>
<path d="M566.1,636.0 L578.9,648.8 M566.1,648.8 L578.9,636.0" stroke="#ff0000" stroke-width="4" fill="none"/>
<text x="520.4" y="689.2" font-family="Liberation Serif, serif" stroke="#000" stroke-width="0.25" font-size="31" text-anchor="end">with non−native</text>
<line x1="534.3" y1="679.7" x2="610.8" y2="679.7" stroke="#0000ff" stroke-width="4"/>
<line x1="536.3" y1="673.2" x2="536.3" y2="686.2" stroke="#0000ff" stroke-width="4"/>
<line x1="608.8" y1="673.2" x2="608.8" y2="686.2" stroke="#0000ff" stroke-width="4"/>
<path d="M566.1,673.3 L578.9,686.1 M566.1,686.1 L578.9,673.3" stroke="#0000ff" stroke-width="4" fill="none"/>
</svg>
</body></html>
